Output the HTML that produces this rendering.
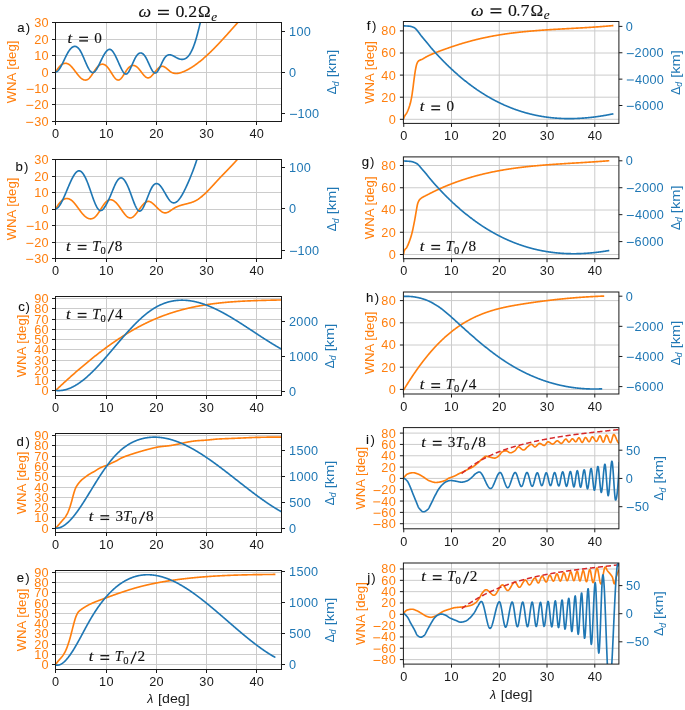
<!DOCTYPE html>
<html><head><meta charset="utf-8"><style>
html,body{margin:0;padding:0;background:#fff;}
svg{display:block;font-family:"Liberation Sans",sans-serif;will-change:transform;}
</style></head><body>
<svg width="685" height="710" viewBox="0 0 685 710">
<rect width="685" height="710" fill="#fff"/>
<line x1="106.5" y1="22.5" x2="106.5" y2="121.5" stroke="#cccccc" stroke-width="1"/>
<line x1="156.5" y1="22.5" x2="156.5" y2="121.5" stroke="#cccccc" stroke-width="1"/>
<line x1="206.5" y1="22.5" x2="206.5" y2="121.5" stroke="#cccccc" stroke-width="1"/>
<line x1="256.5" y1="22.5" x2="256.5" y2="121.5" stroke="#cccccc" stroke-width="1"/>
<line x1="55.5" y1="104.5" x2="281.5" y2="104.5" stroke="#cccccc" stroke-width="1"/>
<line x1="55.5" y1="88.5" x2="281.5" y2="88.5" stroke="#cccccc" stroke-width="1"/>
<line x1="55.5" y1="72.5" x2="281.5" y2="72.5" stroke="#cccccc" stroke-width="1"/>
<line x1="55.5" y1="55.5" x2="281.5" y2="55.5" stroke="#cccccc" stroke-width="1"/>
<line x1="55.5" y1="39.5" x2="281.5" y2="39.5" stroke="#cccccc" stroke-width="1"/>
<clipPath id="cpa"><rect x="55.5" y="22.5" width="226" height="99"/></clipPath>
<g clip-path="url(#cpa)" fill="none" stroke-linejoin="round" stroke-linecap="butt">
<path d="M55.80 71.90 L56.10 71.38 L56.40 70.87 L56.70 70.38 L57.00 69.90 L57.30 69.44 L57.60 69.00 L57.90 68.58 L58.20 68.17 L58.50 67.77 L58.80 67.40 L59.10 67.04 L59.40 66.69 L59.70 66.36 L60.00 66.05 L60.30 65.76 L60.60 65.48 L60.90 65.22 L61.20 64.97 L61.50 64.75 L61.80 64.53 L62.10 64.34 L62.40 64.16 L62.70 64.00 L63.00 63.85 L63.30 63.72 L63.60 63.61 L63.90 63.52 L64.20 63.44 L64.50 63.38 L64.80 63.33 L65.10 63.31 L65.40 63.29 L65.70 63.30 L66.00 63.32 L66.30 63.36 L66.60 63.42 L66.90 63.49 L67.20 63.58 L67.50 63.69 L67.80 63.81 L68.10 63.96 L68.40 64.11 L68.70 64.29 L69.00 64.48 L69.30 64.69 L69.60 64.92 L69.90 65.16 L70.20 65.42 L70.50 65.69 L70.80 65.98 L71.10 66.28 L71.40 66.60 L71.70 66.92 L72.00 67.26 L72.30 67.61 L72.60 67.96 L72.90 68.33 L73.20 68.70 L73.50 69.08 L73.80 69.46 L74.10 69.85 L74.40 70.24 L74.70 70.63 L75.00 71.03 L75.30 71.43 L75.60 71.83 L75.90 72.23 L76.20 72.62 L76.50 73.02 L76.80 73.41 L77.10 73.80 L77.40 74.18 L77.70 74.56 L78.00 74.93 L78.30 75.29 L78.60 75.64 L78.90 75.99 L79.20 76.32 L79.50 76.65 L79.80 76.96 L80.10 77.26 L80.40 77.55 L80.70 77.83 L81.00 78.09 L81.30 78.33 L81.60 78.57 L81.90 78.79 L82.20 78.99 L82.50 79.17 L82.80 79.34 L83.10 79.50 L83.40 79.63 L83.70 79.75 L84.00 79.85 L84.30 79.93 L84.60 80.00 L84.90 80.04 L85.20 80.06 L85.50 80.06 L85.80 80.04 L86.10 80.00 L86.40 79.94 L86.70 79.86 L87.00 79.75 L87.30 79.62 L87.60 79.46 L87.90 79.28 L88.20 79.08 L88.50 78.85 L88.80 78.60 L89.10 78.32 L89.40 78.02 L89.70 77.69 L90.00 77.35 L90.30 76.99 L90.60 76.62 L90.90 76.22 L91.20 75.82 L91.50 75.40 L91.80 74.98 L92.10 74.54 L92.40 74.10 L92.70 73.65 L93.00 73.19 L93.30 72.73 L93.60 72.28 L93.90 71.82 L94.20 71.36 L94.50 70.91 L94.80 70.46 L95.10 70.02 L95.40 69.58 L95.70 69.16 L96.00 68.74 L96.30 68.34 L96.60 67.95 L96.90 67.58 L97.20 67.22 L97.50 66.88 L97.80 66.56 L98.10 66.26 L98.40 65.98 L98.70 65.72 L99.00 65.49 L99.30 65.27 L99.60 65.07 L99.90 64.89 L100.20 64.73 L100.50 64.59 L100.80 64.47 L101.10 64.38 L101.40 64.30 L101.70 64.24 L102.00 64.20 L102.30 64.19 L102.60 64.19 L102.90 64.21 L103.20 64.26 L103.50 64.32 L103.80 64.41 L104.10 64.51 L104.40 64.64 L104.70 64.79 L105.00 64.96 L105.30 65.15 L105.60 65.36 L105.90 65.59 L106.20 65.84 L106.50 66.11 L106.80 66.40 L107.10 66.72 L107.40 67.05 L107.70 67.41 L108.00 67.78 L108.30 68.18 L108.60 68.59 L108.90 69.01 L109.20 69.45 L109.50 69.90 L109.80 70.36 L110.10 70.83 L110.40 71.30 L110.70 71.78 L111.00 72.26 L111.30 72.74 L111.60 73.22 L111.90 73.69 L112.20 74.17 L112.50 74.63 L112.80 75.09 L113.10 75.54 L113.40 75.98 L113.70 76.41 L114.00 76.82 L114.30 77.21 L114.60 77.59 L114.90 77.94 L115.20 78.28 L115.50 78.59 L115.80 78.88 L116.10 79.14 L116.40 79.37 L116.70 79.57 L117.00 79.74 L117.30 79.87 L117.60 79.97 L117.90 80.04 L118.20 80.06 L118.50 80.04 L118.80 79.99 L119.10 79.89 L119.40 79.75 L119.70 79.58 L120.00 79.37 L120.30 79.13 L120.60 78.87 L120.90 78.57 L121.20 78.25 L121.50 77.90 L121.80 77.53 L122.10 77.14 L122.40 76.73 L122.70 76.31 L123.00 75.87 L123.30 75.42 L123.60 74.97 L123.90 74.50 L124.20 74.03 L124.50 73.55 L124.80 73.07 L125.10 72.60 L125.40 72.12 L125.70 71.65 L126.00 71.19 L126.30 70.73 L126.60 70.28 L126.90 69.85 L127.20 69.43 L127.50 69.03 L127.80 68.65 L128.10 68.28 L128.40 67.94 L128.70 67.63 L129.00 67.33 L129.30 67.06 L129.60 66.80 L129.90 66.57 L130.20 66.37 L130.50 66.18 L130.80 66.01 L131.10 65.87 L131.40 65.74 L131.70 65.64 L132.00 65.56 L132.30 65.50 L132.60 65.46 L132.90 65.43 L133.20 65.43 L133.50 65.45 L133.80 65.49 L134.10 65.55 L134.40 65.62 L134.70 65.72 L135.00 65.83 L135.30 65.97 L135.60 66.12 L135.90 66.29 L136.20 66.48 L136.50 66.69 L136.80 66.91 L137.10 67.16 L137.40 67.42 L137.70 67.70 L138.00 67.99 L138.30 68.30 L138.60 68.63 L138.90 68.97 L139.20 69.32 L139.50 69.68 L139.80 70.06 L140.10 70.43 L140.40 70.82 L140.70 71.21 L141.00 71.60 L141.30 71.99 L141.60 72.38 L141.90 72.77 L142.20 73.16 L142.50 73.54 L142.80 73.92 L143.10 74.28 L143.40 74.64 L143.70 74.99 L144.00 75.33 L144.30 75.65 L144.60 75.95 L144.90 76.24 L145.20 76.52 L145.50 76.77 L145.80 77.00 L146.10 77.21 L146.40 77.39 L146.70 77.55 L147.00 77.68 L147.30 77.78 L147.60 77.85 L147.90 77.89 L148.20 77.89 L148.50 77.86 L148.80 77.80 L149.10 77.70 L149.40 77.58 L149.70 77.42 L150.00 77.24 L150.30 77.04 L150.60 76.81 L150.90 76.55 L151.20 76.28 L151.50 76.00 L151.80 75.69 L152.10 75.38 L152.40 75.05 L152.70 74.71 L153.00 74.36 L153.30 74.00 L153.60 73.64 L153.90 73.28 L154.20 72.91 L154.50 72.55 L154.80 72.18 L155.10 71.82 L155.40 71.46 L155.70 71.10 L156.00 70.74 L156.30 70.39 L156.60 70.05 L156.90 69.72 L157.20 69.39 L157.50 69.07 L157.80 68.77 L158.10 68.48 L158.40 68.20 L158.70 67.93 L159.00 67.68 L159.30 67.45 L159.60 67.24 L159.90 67.04 L160.20 66.86 L160.50 66.71 L160.80 66.57 L161.10 66.46 L161.40 66.38 L161.70 66.32 L162.00 66.28 L162.30 66.27 L162.60 66.29 L162.90 66.34 L163.20 66.41 L163.50 66.51 L163.80 66.62 L164.10 66.76 L164.40 66.91 L164.70 67.09 L165.00 67.27 L165.30 67.48 L165.60 67.69 L165.90 67.92 L166.20 68.15 L166.50 68.40 L166.80 68.65 L167.10 68.90 L167.40 69.16 L167.70 69.42 L168.00 69.69 L168.30 69.95 L168.60 70.21 L168.90 70.46 L169.20 70.71 L169.50 70.96 L169.80 71.19 L170.10 71.42 L170.40 71.63 L170.70 71.84 L171.00 72.02 L171.30 72.20 L171.60 72.36 L171.90 72.52 L172.20 72.65 L172.50 72.78 L172.80 72.90 L173.10 73.00 L173.40 73.09 L173.70 73.18 L174.00 73.25 L174.30 73.31 L174.60 73.36 L174.90 73.41 L175.20 73.44 L175.50 73.46 L175.80 73.48 L176.10 73.48 L176.40 73.48 L176.70 73.47 L177.00 73.45 L177.30 73.43 L177.60 73.39 L177.90 73.35 L178.20 73.31 L178.50 73.25 L178.80 73.19 L179.10 73.13 L179.40 73.06 L179.70 72.98 L180.00 72.90 L180.30 72.81 L180.60 72.72 L180.90 72.62 L181.20 72.52 L181.50 72.42 L181.80 72.31 L182.10 72.20 L182.40 72.08 L182.70 71.96 L183.00 71.84 L183.30 71.72 L183.60 71.60 L183.90 71.47 L184.20 71.34 L184.50 71.20 L184.80 71.07 L185.10 70.93 L185.40 70.79 L185.70 70.65 L186.00 70.50 L186.30 70.36 L186.60 70.21 L186.90 70.05 L187.20 69.90 L187.50 69.74 L187.80 69.58 L188.10 69.42 L188.40 69.26 L188.70 69.09 L189.00 68.93 L189.30 68.76 L189.60 68.58 L189.90 68.41 L190.20 68.23 L190.50 68.05 L190.80 67.87 L191.10 67.69 L191.40 67.50 L191.70 67.32 L192.00 67.13 L192.30 66.93 L192.60 66.74 L192.90 66.54 L193.20 66.35 L193.50 66.15 L193.80 65.94 L194.10 65.74 L194.40 65.54 L194.70 65.33 L195.00 65.12 L195.30 64.91 L195.60 64.69 L195.90 64.48 L196.20 64.26 L196.50 64.04 L196.80 63.82 L197.10 63.60 L197.40 63.37 L197.70 63.14 L198.00 62.92 L198.30 62.69 L198.60 62.45 L198.90 62.22 L199.20 61.98 L199.50 61.75 L199.80 61.51 L200.10 61.27 L200.40 61.02 L200.70 60.78 L201.00 60.54 L201.30 60.29 L201.60 60.04 L201.90 59.79 L202.20 59.54 L202.50 59.28 L202.80 59.03 L203.10 58.77 L203.40 58.51 L203.70 58.25 L204.00 57.99 L204.30 57.73 L204.60 57.46 L204.90 57.20 L205.20 56.93 L205.50 56.66 L205.80 56.39 L206.10 56.12 L206.40 55.85 L206.70 55.57 L207.00 55.30 L207.30 55.02 L207.60 54.74 L207.90 54.46 L208.20 54.18 L208.50 53.90 L208.80 53.62 L209.10 53.33 L209.40 53.05 L209.70 52.76 L210.00 52.47 L210.30 52.18 L210.60 51.89 L210.90 51.60 L211.20 51.30 L211.50 51.01 L211.80 50.71 L212.10 50.42 L212.40 50.12 L212.70 49.82 L213.00 49.52 L213.30 49.22 L213.60 48.92 L213.90 48.62 L214.20 48.31 L214.50 48.01 L214.80 47.70 L215.10 47.40 L215.40 47.09 L215.70 46.78 L216.00 46.47 L216.30 46.16 L216.60 45.85 L216.90 45.54 L217.20 45.22 L217.50 44.91 L217.80 44.59 L218.10 44.28 L218.40 43.96 L218.70 43.65 L219.00 43.33 L219.30 43.01 L219.60 42.69 L219.90 42.37 L220.20 42.05 L220.50 41.73 L220.80 41.41 L221.10 41.08 L221.40 40.76 L221.70 40.44 L222.00 40.11 L222.30 39.79 L222.60 39.46 L222.90 39.13 L223.20 38.81 L223.50 38.48 L223.80 38.15 L224.10 37.82 L224.40 37.49 L224.70 37.16 L225.00 36.83 L225.30 36.50 L225.60 36.17 L225.90 35.84 L226.20 35.51 L226.50 35.18 L226.80 34.84 L227.10 34.51 L227.40 34.18 L227.70 33.84 L228.00 33.51 L228.30 33.17 L228.60 32.84 L228.90 32.50 L229.20 32.17 L229.50 31.83 L229.80 31.50 L230.10 31.16 L230.40 30.83 L230.70 30.49 L231.00 30.15 L231.30 29.82 L231.60 29.48 L231.90 29.14 L232.20 28.81 L232.50 28.47 L232.80 28.13 L233.10 27.80 L233.40 27.46 L233.70 27.12 L234.00 26.78 L234.30 26.45 L234.60 26.11 L234.90 25.77 L235.20 25.43 L235.50 25.10 L235.80 24.76 L236.10 24.42 L236.40 24.08 L236.70 23.75 L237.00 23.41 L237.30 23.07 L237.60 22.74 L237.90 22.40 L238.20 22.06 L238.50 21.73 L238.80 21.39 L239.10 21.06 L239.40 20.72 L239.70 20.39 L240.00 20.05 L240.00 20.05" stroke="#ff7f0e" stroke-width="1.65"/>
<path d="M55.80 71.90 L56.10 71.86 L56.40 71.77 L56.70 71.65 L57.00 71.49 L57.30 71.29 L57.60 71.05 L57.90 70.78 L58.20 70.48 L58.50 70.14 L58.80 69.78 L59.10 69.38 L59.40 68.97 L59.70 68.52 L60.00 68.05 L60.30 67.56 L60.60 67.05 L60.90 66.52 L61.20 65.98 L61.50 65.41 L61.80 64.84 L62.10 64.25 L62.40 63.65 L62.70 63.04 L63.00 62.42 L63.30 61.80 L63.60 61.17 L63.90 60.54 L64.20 59.91 L64.50 59.28 L64.80 58.65 L65.10 58.02 L65.40 57.40 L65.70 56.78 L66.00 56.17 L66.30 55.57 L66.60 54.99 L66.90 54.41 L67.20 53.85 L67.50 53.30 L67.80 52.77 L68.10 52.26 L68.40 51.77 L68.70 51.30 L69.00 50.85 L69.30 50.42 L69.60 50.01 L69.90 49.62 L70.20 49.25 L70.50 48.90 L70.80 48.57 L71.10 48.27 L71.40 47.98 L71.70 47.72 L72.00 47.48 L72.30 47.26 L72.60 47.07 L72.90 46.90 L73.20 46.75 L73.50 46.63 L73.80 46.53 L74.10 46.46 L74.40 46.41 L74.70 46.38 L75.00 46.38 L75.30 46.40 L75.60 46.46 L75.90 46.53 L76.20 46.64 L76.50 46.76 L76.80 46.92 L77.10 47.10 L77.40 47.32 L77.70 47.55 L78.00 47.82 L78.30 48.11 L78.60 48.44 L78.90 48.79 L79.20 49.17 L79.50 49.58 L79.80 50.02 L80.10 50.49 L80.40 50.99 L80.70 51.51 L81.00 52.06 L81.30 52.64 L81.60 53.23 L81.90 53.85 L82.20 54.48 L82.50 55.13 L82.80 55.79 L83.10 56.47 L83.40 57.15 L83.70 57.84 L84.00 58.54 L84.30 59.24 L84.60 59.95 L84.90 60.65 L85.20 61.35 L85.50 62.05 L85.80 62.74 L86.10 63.43 L86.40 64.10 L86.70 64.77 L87.00 65.42 L87.30 66.05 L87.60 66.67 L87.90 67.27 L88.20 67.84 L88.50 68.39 L88.80 68.92 L89.10 69.42 L89.40 69.89 L89.70 70.33 L90.00 70.74 L90.30 71.11 L90.60 71.44 L90.90 71.74 L91.20 71.99 L91.50 72.20 L91.80 72.37 L92.10 72.49 L92.40 72.56 L92.70 72.58 L93.00 72.55 L93.30 72.48 L93.60 72.37 L93.90 72.21 L94.20 72.01 L94.50 71.77 L94.80 71.50 L95.10 71.19 L95.40 70.85 L95.70 70.47 L96.00 70.07 L96.30 69.64 L96.60 69.18 L96.90 68.70 L97.20 68.20 L97.50 67.68 L97.80 67.14 L98.10 66.58 L98.40 66.00 L98.70 65.42 L99.00 64.82 L99.30 64.21 L99.60 63.59 L99.90 62.97 L100.20 62.34 L100.50 61.72 L100.80 61.09 L101.10 60.46 L101.40 59.83 L101.70 59.21 L102.00 58.60 L102.30 58.00 L102.60 57.40 L102.90 56.82 L103.20 56.25 L103.50 55.70 L103.80 55.16 L104.10 54.64 L104.40 54.13 L104.70 53.65 L105.00 53.19 L105.30 52.74 L105.60 52.32 L105.90 51.93 L106.20 51.55 L106.50 51.21 L106.80 50.89 L107.10 50.59 L107.40 50.33 L107.70 50.09 L108.00 49.89 L108.30 49.72 L108.60 49.58 L108.90 49.47 L109.20 49.41 L109.50 49.37 L109.80 49.38 L110.10 49.42 L110.40 49.50 L110.70 49.62 L111.00 49.79 L111.30 49.99 L111.60 50.23 L111.90 50.51 L112.20 50.82 L112.50 51.16 L112.80 51.53 L113.10 51.94 L113.40 52.37 L113.70 52.83 L114.00 53.32 L114.30 53.82 L114.60 54.35 L114.90 54.91 L115.20 55.47 L115.50 56.06 L115.80 56.66 L116.10 57.28 L116.40 57.91 L116.70 58.55 L117.00 59.20 L117.30 59.86 L117.60 60.52 L117.90 61.19 L118.20 61.86 L118.50 62.53 L118.80 63.21 L119.10 63.88 L119.40 64.55 L119.70 65.21 L120.00 65.87 L120.30 66.52 L120.60 67.16 L120.90 67.79 L121.20 68.41 L121.50 69.00 L121.80 69.58 L122.10 70.14 L122.40 70.66 L122.70 71.17 L123.00 71.64 L123.30 72.07 L123.60 72.48 L123.90 72.84 L124.20 73.16 L124.50 73.44 L124.80 73.67 L125.10 73.86 L125.40 73.99 L125.70 74.06 L126.00 74.08 L126.30 74.04 L126.60 73.94 L126.90 73.78 L127.20 73.56 L127.50 73.28 L127.80 72.96 L128.10 72.58 L128.40 72.17 L128.70 71.71 L129.00 71.21 L129.30 70.69 L129.60 70.13 L129.90 69.54 L130.20 68.93 L130.50 68.30 L130.80 67.65 L131.10 66.99 L131.40 66.32 L131.70 65.64 L132.00 64.96 L132.30 64.28 L132.60 63.60 L132.90 62.92 L133.20 62.25 L133.50 61.58 L133.80 60.93 L134.10 60.29 L134.40 59.67 L134.70 59.06 L135.00 58.48 L135.30 57.92 L135.60 57.38 L135.90 56.88 L136.20 56.40 L136.50 55.95 L136.80 55.54 L137.10 55.16 L137.40 54.81 L137.70 54.48 L138.00 54.19 L138.30 53.94 L138.60 53.71 L138.90 53.51 L139.20 53.35 L139.50 53.21 L139.80 53.11 L140.10 53.04 L140.40 52.99 L140.70 52.98 L141.00 53.00 L141.30 53.05 L141.60 53.13 L141.90 53.24 L142.20 53.38 L142.50 53.56 L142.80 53.76 L143.10 53.99 L143.40 54.25 L143.70 54.55 L144.00 54.87 L144.30 55.23 L144.60 55.61 L144.90 56.03 L145.20 56.47 L145.50 56.94 L145.80 57.45 L146.10 57.98 L146.40 58.54 L146.70 59.13 L147.00 59.73 L147.30 60.35 L147.60 60.99 L147.90 61.63 L148.20 62.29 L148.50 62.95 L148.80 63.61 L149.10 64.28 L149.40 64.94 L149.70 65.59 L150.00 66.24 L150.30 66.87 L150.60 67.49 L150.90 68.09 L151.20 68.67 L151.50 69.23 L151.80 69.76 L152.10 70.27 L152.40 70.74 L152.70 71.17 L153.00 71.57 L153.30 71.92 L153.60 72.23 L153.90 72.50 L154.20 72.71 L154.50 72.88 L154.80 72.98 L155.10 73.03 L155.40 73.02 L155.70 72.94 L156.00 72.81 L156.30 72.62 L156.60 72.38 L156.90 72.08 L157.20 71.75 L157.50 71.37 L157.80 70.95 L158.10 70.49 L158.40 70.00 L158.70 69.48 L159.00 68.93 L159.30 68.36 L159.60 67.77 L159.90 67.17 L160.20 66.55 L160.50 65.92 L160.80 65.28 L161.10 64.64 L161.40 63.99 L161.70 63.35 L162.00 62.72 L162.30 62.10 L162.60 61.48 L162.90 60.89 L163.20 60.31 L163.50 59.75 L163.80 59.22 L164.10 58.72 L164.40 58.25 L164.70 57.81 L165.00 57.41 L165.30 57.04 L165.60 56.70 L165.90 56.39 L166.20 56.12 L166.50 55.87 L166.80 55.65 L167.10 55.46 L167.40 55.30 L167.70 55.15 L168.00 55.04 L168.30 54.95 L168.60 54.87 L168.90 54.83 L169.20 54.80 L169.50 54.79 L169.80 54.79 L170.10 54.82 L170.40 54.86 L170.70 54.92 L171.00 54.99 L171.30 55.08 L171.60 55.18 L171.90 55.28 L172.20 55.40 L172.50 55.53 L172.80 55.67 L173.10 55.82 L173.40 55.97 L173.70 56.13 L174.00 56.29 L174.30 56.45 L174.60 56.62 L174.90 56.79 L175.20 56.96 L175.50 57.13 L175.80 57.30 L176.10 57.47 L176.40 57.63 L176.70 57.79 L177.00 57.94 L177.30 58.09 L177.60 58.24 L177.90 58.37 L178.20 58.50 L178.50 58.63 L178.80 58.74 L179.10 58.85 L179.40 58.95 L179.70 59.04 L180.00 59.12 L180.30 59.19 L180.60 59.25 L180.90 59.30 L181.20 59.34 L181.50 59.37 L181.80 59.39 L182.10 59.40 L182.40 59.39 L182.70 59.37 L183.00 59.34 L183.30 59.29 L183.60 59.23 L183.90 59.15 L184.20 59.06 L184.50 58.96 L184.80 58.84 L185.10 58.70 L185.40 58.54 L185.70 58.37 L186.00 58.18 L186.30 57.98 L186.60 57.75 L186.90 57.51 L187.20 57.25 L187.50 56.96 L187.80 56.66 L188.10 56.34 L188.40 56.00 L188.70 55.63 L189.00 55.25 L189.30 54.84 L189.60 54.41 L189.90 53.96 L190.20 53.48 L190.50 52.98 L190.80 52.46 L191.10 51.91 L191.40 51.34 L191.70 50.74 L192.00 50.11 L192.30 49.46 L192.60 48.79 L192.90 48.08 L193.20 47.35 L193.50 46.59 L193.80 45.81 L194.10 44.99 L194.40 44.15 L194.70 43.27 L195.00 42.37 L195.30 41.44 L195.60 40.47 L195.90 39.48 L196.20 38.47 L196.50 37.43 L196.80 36.36 L197.10 35.27 L197.40 34.16 L197.70 33.03 L198.00 31.88 L198.30 30.72 L198.60 29.53 L198.90 28.34 L199.20 27.12 L199.50 25.90 L199.80 24.66 L200.10 23.42 L200.40 22.16 L200.70 20.90 L201.00 19.63 L201.00 19.63" stroke="#1f77b4" stroke-width="1.65"/>
</g>
<rect x="55.5" y="22.5" width="226" height="99" fill="none" stroke="#1a1a1a" stroke-width="1"/>
<line x1="52" y1="121.5" x2="55.5" y2="121.5" stroke="#1a1a1a" stroke-width="1"/>
<rect x="26.21" y="121.85" width="7" height="1" fill="#ff7f0e"/>
<text x="34.13" y="125.95" font-size="12.7" fill="#ff7f0e" dx="0 0.25">30</text>
<line x1="52" y1="104.5" x2="55.5" y2="104.5" stroke="#1a1a1a" stroke-width="1"/>
<rect x="26.36" y="104.85" width="7" height="1" fill="#ff7f0e"/>
<text x="34.13" y="108.95" font-size="12.7" fill="#ff7f0e" dx="0 0.25">20</text>
<line x1="52" y1="88.5" x2="55.5" y2="88.5" stroke="#1a1a1a" stroke-width="1"/>
<rect x="26.7" y="88.85" width="7" height="1" fill="#ff7f0e"/>
<text x="34.13" y="92.95" font-size="12.7" fill="#ff7f0e" dx="0 0.25">10</text>
<line x1="52" y1="72.5" x2="55.5" y2="72.5" stroke="#1a1a1a" stroke-width="1"/>
<text x="41.44" y="76.95" font-size="12.7" fill="#ff7f0e" dx="0">0</text>
<line x1="52" y1="55.5" x2="55.5" y2="55.5" stroke="#1a1a1a" stroke-width="1"/>
<text x="34.13" y="59.95" font-size="12.7" fill="#ff7f0e" dx="0 0.25">10</text>
<line x1="52" y1="39.5" x2="55.5" y2="39.5" stroke="#1a1a1a" stroke-width="1"/>
<text x="34.13" y="43.95" font-size="12.7" fill="#ff7f0e" dx="0 0.25">20</text>
<line x1="52" y1="22.5" x2="55.5" y2="22.5" stroke="#1a1a1a" stroke-width="1"/>
<text x="34.13" y="26.95" font-size="12.7" fill="#ff7f0e" dx="0 0.25">30</text>
<line x1="281.5" y1="113.5" x2="285" y2="113.5" stroke="#1a1a1a" stroke-width="1"/>
<rect x="290.02" y="113.85" width="7" height="1" fill="#1f77b4"/>
<text x="297.44" y="117.95" font-size="12.7" fill="#1f77b4" dx="0 0.25 0.25">100</text>
<line x1="281.5" y1="72.5" x2="285" y2="72.5" stroke="#1a1a1a" stroke-width="1"/>
<text x="289.07" y="76.95" font-size="12.7" fill="#1f77b4" dx="0">0</text>
<line x1="281.5" y1="31.5" x2="285" y2="31.5" stroke="#1a1a1a" stroke-width="1"/>
<text x="289.1" y="35.95" font-size="12.7" fill="#1f77b4" dx="0 0.25 0.25">100</text>
<line x1="55.5" y1="121.5" x2="55.5" y2="125" stroke="#1a1a1a" stroke-width="1"/>
<text x="51.98" y="137.9" font-size="12.7" fill="#1a1a1a" dx="0">0</text>
<line x1="106.5" y1="121.5" x2="106.5" y2="125" stroke="#1a1a1a" stroke-width="1"/>
<text x="99.08" y="137.9" font-size="12.7" fill="#1a1a1a" dx="0 0.25">10</text>
<line x1="156.5" y1="121.5" x2="156.5" y2="125" stroke="#1a1a1a" stroke-width="1"/>
<text x="149.25" y="137.9" font-size="12.7" fill="#1a1a1a" dx="0 0.25">20</text>
<line x1="206.5" y1="121.5" x2="206.5" y2="125" stroke="#1a1a1a" stroke-width="1"/>
<text x="199.32" y="137.9" font-size="12.7" fill="#1a1a1a" dx="0 0.25">30</text>
<line x1="256.5" y1="121.5" x2="256.5" y2="125" stroke="#1a1a1a" stroke-width="1"/>
<text x="249.42" y="137.9" font-size="12.7" fill="#1a1a1a" dx="0 0.25">40</text>
<text transform="translate(16.3,72) rotate(-90)" text-anchor="middle" fill="#ff7f0e" font-size="12.8" textLength="62.68" lengthAdjust="spacingAndGlyphs">WNA [deg]</text>
<g transform="translate(336.2,72) rotate(-90)" fill="#1f77b4"><text x="-22.29" y="0" font-size="12.26">Δ</text><text x="-14.19" y="2.37" font-size="8.53" font-style="italic">d</text><text x="-5.36" y="0" font-size="12.26" textLength="27.65" lengthAdjust="spacingAndGlyphs">[km]</text></g>
<text x="17.35" y="32.1" font-size="13.2" fill="#111111" stroke="#111111" stroke-width="0.1">a</text>
<text x="25.71" y="32.1" font-size="13.2" fill="#111111">)</text>
<line x1="106.5" y1="159.5" x2="106.5" y2="258.5" stroke="#cccccc" stroke-width="1"/>
<line x1="156.5" y1="159.5" x2="156.5" y2="258.5" stroke="#cccccc" stroke-width="1"/>
<line x1="206.5" y1="159.5" x2="206.5" y2="258.5" stroke="#cccccc" stroke-width="1"/>
<line x1="256.5" y1="159.5" x2="256.5" y2="258.5" stroke="#cccccc" stroke-width="1"/>
<line x1="55.5" y1="242.5" x2="281.5" y2="242.5" stroke="#cccccc" stroke-width="1"/>
<line x1="55.5" y1="225.5" x2="281.5" y2="225.5" stroke="#cccccc" stroke-width="1"/>
<line x1="55.5" y1="209.5" x2="281.5" y2="209.5" stroke="#cccccc" stroke-width="1"/>
<line x1="55.5" y1="192.5" x2="281.5" y2="192.5" stroke="#cccccc" stroke-width="1"/>
<line x1="55.5" y1="176.5" x2="281.5" y2="176.5" stroke="#cccccc" stroke-width="1"/>
<clipPath id="cpb"><rect x="55.5" y="159.5" width="226" height="99"/></clipPath>
<g clip-path="url(#cpb)" fill="none" stroke-linejoin="round" stroke-linecap="butt">
<path d="M55.70 208.98 L56.00 208.42 L56.30 207.87 L56.60 207.34 L56.90 206.83 L57.20 206.33 L57.50 205.85 L57.80 205.38 L58.10 204.93 L58.40 204.49 L58.70 204.07 L59.00 203.66 L59.30 203.27 L59.60 202.90 L59.90 202.54 L60.20 202.20 L60.50 201.87 L60.80 201.56 L61.10 201.26 L61.40 200.98 L61.70 200.72 L62.00 200.47 L62.30 200.23 L62.60 200.01 L62.90 199.81 L63.20 199.62 L63.50 199.44 L63.80 199.29 L64.10 199.14 L64.40 199.01 L64.70 198.90 L65.00 198.80 L65.30 198.72 L65.60 198.65 L65.90 198.60 L66.20 198.56 L66.50 198.54 L66.80 198.53 L67.10 198.54 L67.40 198.56 L67.70 198.60 L68.00 198.65 L68.30 198.71 L68.60 198.79 L68.90 198.89 L69.20 199.00 L69.50 199.13 L69.80 199.27 L70.10 199.42 L70.40 199.59 L70.70 199.78 L71.00 199.97 L71.30 200.19 L71.60 200.42 L71.90 200.66 L72.20 200.92 L72.50 201.19 L72.80 201.47 L73.10 201.77 L73.40 202.08 L73.70 202.40 L74.00 202.73 L74.30 203.07 L74.60 203.43 L74.90 203.79 L75.20 204.15 L75.50 204.53 L75.80 204.91 L76.10 205.30 L76.40 205.69 L76.70 206.09 L77.00 206.50 L77.30 206.90 L77.60 207.31 L77.90 207.72 L78.20 208.13 L78.50 208.54 L78.80 208.95 L79.10 209.36 L79.40 209.77 L79.70 210.18 L80.00 210.58 L80.30 210.98 L80.60 211.38 L80.90 211.77 L81.20 212.15 L81.50 212.53 L81.80 212.91 L82.10 213.27 L82.40 213.62 L82.70 213.97 L83.00 214.31 L83.30 214.63 L83.60 214.95 L83.90 215.25 L84.20 215.55 L84.50 215.83 L84.80 216.11 L85.10 216.37 L85.40 216.62 L85.70 216.85 L86.00 217.08 L86.30 217.29 L86.60 217.49 L86.90 217.68 L87.20 217.85 L87.50 218.01 L87.80 218.16 L88.10 218.29 L88.40 218.41 L88.70 218.52 L89.00 218.61 L89.30 218.69 L89.60 218.75 L89.90 218.79 L90.20 218.82 L90.50 218.84 L90.80 218.84 L91.10 218.82 L91.40 218.78 L91.70 218.73 L92.00 218.67 L92.30 218.58 L92.60 218.48 L92.90 218.36 L93.20 218.22 L93.50 218.07 L93.80 217.89 L94.10 217.70 L94.40 217.49 L94.70 217.26 L95.00 217.01 L95.30 216.74 L95.60 216.46 L95.90 216.15 L96.20 215.82 L96.50 215.48 L96.80 215.11 L97.10 214.73 L97.40 214.34 L97.70 213.93 L98.00 213.51 L98.30 213.08 L98.60 212.64 L98.90 212.19 L99.20 211.73 L99.50 211.26 L99.80 210.79 L100.10 210.32 L100.40 209.84 L100.70 209.36 L101.00 208.89 L101.30 208.41 L101.60 207.93 L101.90 207.46 L102.20 206.99 L102.50 206.52 L102.80 206.07 L103.10 205.62 L103.40 205.18 L103.70 204.75 L104.00 204.33 L104.30 203.92 L104.60 203.53 L104.90 203.15 L105.20 202.79 L105.50 202.45 L105.80 202.13 L106.10 201.82 L106.40 201.54 L106.70 201.28 L107.00 201.04 L107.30 200.82 L107.60 200.62 L107.90 200.44 L108.20 200.28 L108.50 200.15 L108.80 200.03 L109.10 199.93 L109.40 199.86 L109.70 199.80 L110.00 199.76 L110.30 199.74 L110.60 199.74 L110.90 199.76 L111.20 199.79 L111.50 199.85 L111.80 199.92 L112.10 200.01 L112.40 200.11 L112.70 200.23 L113.00 200.37 L113.30 200.53 L113.60 200.70 L113.90 200.89 L114.20 201.09 L114.50 201.31 L114.80 201.54 L115.10 201.79 L115.40 202.06 L115.70 202.33 L116.00 202.63 L116.30 202.93 L116.60 203.25 L116.90 203.59 L117.20 203.93 L117.50 204.29 L117.80 204.66 L118.10 205.04 L118.40 205.43 L118.70 205.83 L119.00 206.24 L119.30 206.65 L119.60 207.07 L119.90 207.49 L120.20 207.91 L120.50 208.34 L120.80 208.77 L121.10 209.21 L121.40 209.64 L121.70 210.07 L122.00 210.50 L122.30 210.92 L122.60 211.34 L122.90 211.76 L123.20 212.17 L123.50 212.58 L123.80 212.98 L124.10 213.37 L124.40 213.75 L124.70 214.12 L125.00 214.48 L125.30 214.82 L125.60 215.15 L125.90 215.47 L126.20 215.78 L126.50 216.07 L126.80 216.34 L127.10 216.59 L127.40 216.83 L127.70 217.04 L128.00 217.24 L128.30 217.41 L128.60 217.56 L128.90 217.69 L129.20 217.80 L129.50 217.87 L129.80 217.93 L130.10 217.95 L130.40 217.95 L130.70 217.92 L131.00 217.86 L131.30 217.78 L131.60 217.67 L131.90 217.53 L132.20 217.37 L132.50 217.19 L132.80 216.99 L133.10 216.77 L133.40 216.53 L133.70 216.27 L134.00 216.00 L134.30 215.70 L134.60 215.40 L134.90 215.08 L135.20 214.74 L135.50 214.39 L135.80 214.03 L136.10 213.66 L136.40 213.29 L136.70 212.90 L137.00 212.51 L137.30 212.11 L137.60 211.70 L137.90 211.29 L138.20 210.88 L138.50 210.46 L138.80 210.04 L139.10 209.63 L139.40 209.21 L139.70 208.80 L140.00 208.39 L140.30 207.98 L140.60 207.57 L140.90 207.18 L141.20 206.78 L141.50 206.40 L141.80 206.03 L142.10 205.66 L142.40 205.31 L142.70 204.96 L143.00 204.63 L143.30 204.31 L143.60 204.00 L143.90 203.70 L144.20 203.42 L144.50 203.15 L144.80 202.90 L145.10 202.67 L145.40 202.45 L145.70 202.25 L146.00 202.07 L146.30 201.91 L146.60 201.77 L146.90 201.65 L147.20 201.54 L147.50 201.47 L147.80 201.41 L148.10 201.38 L148.40 201.37 L148.70 201.38 L149.00 201.42 L149.30 201.48 L149.60 201.57 L149.90 201.67 L150.20 201.79 L150.50 201.93 L150.80 202.08 L151.10 202.26 L151.40 202.45 L151.70 202.65 L152.00 202.86 L152.30 203.09 L152.60 203.33 L152.90 203.58 L153.20 203.83 L153.50 204.10 L153.80 204.37 L154.10 204.65 L154.40 204.94 L154.70 205.23 L155.00 205.52 L155.30 205.82 L155.60 206.12 L155.90 206.42 L156.20 206.73 L156.50 207.03 L156.80 207.34 L157.10 207.64 L157.40 207.94 L157.70 208.24 L158.00 208.54 L158.30 208.83 L158.60 209.12 L158.90 209.41 L159.20 209.68 L159.50 209.95 L159.80 210.22 L160.10 210.47 L160.40 210.72 L160.70 210.96 L161.00 211.19 L161.30 211.40 L161.60 211.61 L161.90 211.80 L162.20 211.98 L162.50 212.14 L162.80 212.29 L163.10 212.43 L163.40 212.55 L163.70 212.65 L164.00 212.74 L164.30 212.81 L164.60 212.85 L164.90 212.88 L165.20 212.89 L165.50 212.88 L165.80 212.85 L166.10 212.81 L166.40 212.74 L166.70 212.66 L167.00 212.57 L167.30 212.46 L167.60 212.34 L167.90 212.21 L168.20 212.06 L168.50 211.91 L168.80 211.74 L169.10 211.57 L169.40 211.39 L169.70 211.20 L170.00 211.01 L170.30 210.81 L170.60 210.61 L170.90 210.40 L171.20 210.19 L171.50 209.98 L171.80 209.77 L172.10 209.57 L172.40 209.36 L172.70 209.15 L173.00 208.95 L173.30 208.75 L173.60 208.56 L173.90 208.37 L174.20 208.19 L174.50 208.01 L174.80 207.84 L175.10 207.68 L175.40 207.51 L175.70 207.36 L176.00 207.21 L176.30 207.06 L176.60 206.92 L176.90 206.78 L177.20 206.65 L177.50 206.52 L177.80 206.40 L178.10 206.28 L178.40 206.16 L178.70 206.05 L179.00 205.94 L179.30 205.83 L179.60 205.73 L179.90 205.63 L180.20 205.53 L180.50 205.43 L180.80 205.34 L181.10 205.25 L181.40 205.16 L181.70 205.07 L182.00 204.99 L182.30 204.91 L182.60 204.83 L182.90 204.75 L183.20 204.67 L183.50 204.59 L183.80 204.51 L184.10 204.44 L184.40 204.36 L184.70 204.29 L185.00 204.22 L185.30 204.14 L185.60 204.07 L185.90 204.00 L186.20 203.93 L186.50 203.85 L186.80 203.78 L187.10 203.70 L187.40 203.63 L187.70 203.55 L188.00 203.48 L188.30 203.40 L188.60 203.32 L188.90 203.24 L189.20 203.15 L189.50 203.07 L189.80 202.98 L190.10 202.89 L190.40 202.80 L190.70 202.71 L191.00 202.62 L191.30 202.52 L191.60 202.42 L191.90 202.31 L192.20 202.21 L192.50 202.10 L192.80 201.98 L193.10 201.86 L193.40 201.74 L193.70 201.62 L194.00 201.49 L194.30 201.36 L194.60 201.22 L194.90 201.08 L195.20 200.93 L195.50 200.78 L195.80 200.63 L196.10 200.47 L196.40 200.30 L196.70 200.13 L197.00 199.96 L197.30 199.77 L197.60 199.59 L197.90 199.40 L198.20 199.20 L198.50 199.00 L198.80 198.79 L199.10 198.58 L199.40 198.37 L199.70 198.15 L200.00 197.93 L200.30 197.70 L200.60 197.47 L200.90 197.23 L201.20 196.99 L201.50 196.75 L201.80 196.50 L202.10 196.25 L202.40 196.00 L202.70 195.74 L203.00 195.48 L203.30 195.21 L203.60 194.94 L203.90 194.67 L204.20 194.40 L204.50 194.12 L204.80 193.84 L205.10 193.56 L205.40 193.27 L205.70 192.98 L206.00 192.69 L206.30 192.39 L206.60 192.10 L206.90 191.80 L207.20 191.50 L207.50 191.19 L207.80 190.89 L208.10 190.58 L208.40 190.27 L208.70 189.96 L209.00 189.65 L209.30 189.34 L209.60 189.02 L209.90 188.70 L210.20 188.38 L210.50 188.06 L210.80 187.74 L211.10 187.42 L211.40 187.10 L211.70 186.77 L212.00 186.45 L212.30 186.12 L212.60 185.80 L212.90 185.47 L213.20 185.14 L213.50 184.82 L213.80 184.49 L214.10 184.16 L214.40 183.83 L214.70 183.50 L215.00 183.17 L215.30 182.85 L215.60 182.52 L215.90 182.19 L216.20 181.86 L216.50 181.53 L216.80 181.21 L217.10 180.88 L217.40 180.56 L217.70 180.23 L218.00 179.91 L218.30 179.59 L218.60 179.27 L218.90 178.95 L219.20 178.63 L219.50 178.31 L219.80 177.99 L220.10 177.67 L220.40 177.36 L220.70 177.04 L221.00 176.73 L221.30 176.42 L221.60 176.10 L221.90 175.79 L222.20 175.48 L222.50 175.17 L222.80 174.86 L223.10 174.55 L223.40 174.24 L223.70 173.93 L224.00 173.62 L224.30 173.31 L224.60 173.00 L224.90 172.69 L225.20 172.38 L225.50 172.07 L225.80 171.76 L226.10 171.46 L226.40 171.15 L226.70 170.84 L227.00 170.53 L227.30 170.22 L227.60 169.91 L227.90 169.60 L228.20 169.29 L228.50 168.98 L228.80 168.67 L229.10 168.36 L229.40 168.05 L229.70 167.74 L230.00 167.42 L230.30 167.11 L230.60 166.79 L230.90 166.48 L231.20 166.16 L231.50 165.85 L231.80 165.53 L232.10 165.21 L232.40 164.89 L232.70 164.57 L233.00 164.25 L233.30 163.93 L233.60 163.61 L233.90 163.28 L234.20 162.96 L234.50 162.63 L234.80 162.30 L235.10 161.97 L235.40 161.64 L235.70 161.31 L236.00 160.97 L236.30 160.64 L236.60 160.30 L236.90 159.96 L237.20 159.62 L237.50 159.28 L237.80 158.94 L238.10 158.59 L238.40 158.24 L238.70 157.89 L239.00 157.54 L239.30 157.19 L239.50 156.95" stroke="#ff7f0e" stroke-width="1.65"/>
<path d="M55.70 208.93 L56.00 208.84 L56.30 208.72 L56.60 208.57 L56.90 208.39 L57.20 208.17 L57.50 207.93 L57.80 207.65 L58.10 207.35 L58.40 207.02 L58.70 206.67 L59.00 206.29 L59.30 205.89 L59.60 205.46 L59.90 205.01 L60.20 204.54 L60.50 204.05 L60.80 203.53 L61.10 203.00 L61.40 202.46 L61.70 201.89 L62.00 201.31 L62.30 200.71 L62.60 200.10 L62.90 199.48 L63.20 198.84 L63.50 198.19 L63.80 197.53 L64.10 196.87 L64.40 196.19 L64.70 195.50 L65.00 194.81 L65.30 194.11 L65.60 193.41 L65.90 192.70 L66.20 191.98 L66.50 191.27 L66.80 190.55 L67.10 189.84 L67.40 189.12 L67.70 188.40 L68.00 187.69 L68.30 186.98 L68.60 186.27 L68.90 185.56 L69.20 184.87 L69.50 184.18 L69.80 183.49 L70.10 182.82 L70.40 182.15 L70.70 181.49 L71.00 180.85 L71.30 180.21 L71.60 179.59 L71.90 178.98 L72.20 178.39 L72.50 177.81 L72.80 177.25 L73.10 176.71 L73.40 176.18 L73.70 175.67 L74.00 175.19 L74.30 174.72 L74.60 174.28 L74.90 173.85 L75.20 173.46 L75.50 173.08 L75.80 172.73 L76.10 172.41 L76.40 172.12 L76.70 171.85 L77.00 171.61 L77.30 171.40 L77.60 171.23 L77.90 171.08 L78.20 170.97 L78.50 170.89 L78.80 170.84 L79.10 170.83 L79.40 170.85 L79.70 170.91 L80.00 171.00 L80.30 171.12 L80.60 171.28 L80.90 171.47 L81.20 171.68 L81.50 171.93 L81.80 172.21 L82.10 172.52 L82.40 172.86 L82.70 173.22 L83.00 173.61 L83.30 174.03 L83.60 174.48 L83.90 174.96 L84.20 175.46 L84.50 175.98 L84.80 176.53 L85.10 177.10 L85.40 177.70 L85.70 178.32 L86.00 178.97 L86.30 179.63 L86.60 180.32 L86.90 181.03 L87.20 181.76 L87.50 182.50 L87.80 183.27 L88.10 184.06 L88.40 184.86 L88.70 185.69 L89.00 186.52 L89.30 187.37 L89.60 188.22 L89.90 189.09 L90.20 189.96 L90.50 190.83 L90.80 191.71 L91.10 192.59 L91.40 193.47 L91.70 194.34 L92.00 195.22 L92.30 196.08 L92.60 196.94 L92.90 197.78 L93.20 198.61 L93.50 199.43 L93.80 200.24 L94.10 201.02 L94.40 201.79 L94.70 202.54 L95.00 203.26 L95.30 203.96 L95.60 204.63 L95.90 205.27 L96.20 205.88 L96.50 206.46 L96.80 207.00 L97.10 207.51 L97.40 207.98 L97.70 208.42 L98.00 208.82 L98.30 209.17 L98.60 209.49 L98.90 209.77 L99.20 210.01 L99.50 210.20 L99.80 210.36 L100.10 210.47 L100.40 210.53 L100.70 210.56 L101.00 210.53 L101.30 210.46 L101.60 210.35 L101.90 210.19 L102.20 210.00 L102.50 209.76 L102.80 209.50 L103.10 209.19 L103.40 208.86 L103.70 208.50 L104.00 208.11 L104.30 207.69 L104.60 207.25 L104.90 206.79 L105.20 206.31 L105.50 205.82 L105.80 205.31 L106.10 204.78 L106.40 204.24 L106.70 203.69 L107.00 203.12 L107.30 202.54 L107.60 201.95 L107.90 201.34 L108.20 200.72 L108.50 200.09 L108.80 199.45 L109.10 198.80 L109.40 198.14 L109.70 197.47 L110.00 196.79 L110.30 196.09 L110.60 195.40 L110.90 194.69 L111.20 193.97 L111.50 193.25 L111.80 192.52 L112.10 191.78 L112.40 191.05 L112.70 190.31 L113.00 189.57 L113.30 188.84 L113.60 188.12 L113.90 187.41 L114.20 186.70 L114.50 186.02 L114.80 185.35 L115.10 184.70 L115.40 184.07 L115.70 183.46 L116.00 182.88 L116.30 182.33 L116.60 181.80 L116.90 181.31 L117.20 180.85 L117.50 180.41 L117.80 180.01 L118.10 179.64 L118.40 179.31 L118.70 179.01 L119.00 178.74 L119.30 178.50 L119.60 178.31 L119.90 178.15 L120.20 178.02 L120.50 177.94 L120.80 177.89 L121.10 177.88 L121.40 177.91 L121.70 177.98 L122.00 178.09 L122.30 178.23 L122.60 178.41 L122.90 178.62 L123.20 178.87 L123.50 179.15 L123.80 179.47 L124.10 179.81 L124.40 180.19 L124.70 180.59 L125.00 181.03 L125.30 181.49 L125.60 181.98 L125.90 182.50 L126.20 183.04 L126.50 183.61 L126.80 184.20 L127.10 184.81 L127.40 185.45 L127.70 186.10 L128.00 186.78 L128.30 187.47 L128.60 188.19 L128.90 188.92 L129.20 189.67 L129.50 190.44 L129.80 191.22 L130.10 192.01 L130.40 192.82 L130.70 193.63 L131.00 194.46 L131.30 195.29 L131.60 196.12 L131.90 196.95 L132.20 197.79 L132.50 198.61 L132.80 199.43 L133.10 200.25 L133.40 201.05 L133.70 201.83 L134.00 202.61 L134.30 203.36 L134.60 204.09 L134.90 204.80 L135.20 205.49 L135.50 206.14 L135.80 206.77 L136.10 207.37 L136.40 207.93 L136.70 208.45 L137.00 208.93 L137.30 209.37 L137.60 209.77 L137.90 210.12 L138.20 210.42 L138.50 210.67 L138.80 210.87 L139.10 211.01 L139.40 211.10 L139.70 211.12 L140.00 211.08 L140.30 210.99 L140.60 210.84 L140.90 210.64 L141.20 210.38 L141.50 210.08 L141.80 209.74 L142.10 209.35 L142.40 208.91 L142.70 208.44 L143.00 207.94 L143.30 207.40 L143.60 206.82 L143.90 206.22 L144.20 205.59 L144.50 204.93 L144.80 204.26 L145.10 203.56 L145.40 202.84 L145.70 202.11 L146.00 201.36 L146.30 200.61 L146.60 199.84 L146.90 199.07 L147.20 198.30 L147.50 197.52 L147.80 196.74 L148.10 195.97 L148.40 195.20 L148.70 194.44 L149.00 193.69 L149.30 192.95 L149.60 192.23 L149.90 191.52 L150.20 190.83 L150.50 190.17 L150.80 189.53 L151.10 188.91 L151.40 188.32 L151.70 187.76 L152.00 187.24 L152.30 186.75 L152.60 186.30 L152.90 185.89 L153.20 185.51 L153.50 185.16 L153.80 184.86 L154.10 184.58 L154.40 184.34 L154.70 184.13 L155.00 183.96 L155.30 183.82 L155.60 183.71 L155.90 183.63 L156.20 183.59 L156.50 183.57 L156.80 183.58 L157.10 183.63 L157.40 183.70 L157.70 183.80 L158.00 183.93 L158.30 184.09 L158.60 184.27 L158.90 184.48 L159.20 184.72 L159.50 184.98 L159.80 185.27 L160.10 185.58 L160.40 185.92 L160.70 186.28 L161.00 186.66 L161.30 187.06 L161.60 187.48 L161.90 187.92 L162.20 188.37 L162.50 188.84 L162.80 189.31 L163.10 189.80 L163.40 190.30 L163.70 190.81 L164.00 191.33 L164.30 191.84 L164.60 192.37 L164.90 192.89 L165.20 193.42 L165.50 193.95 L165.80 194.47 L166.10 194.99 L166.40 195.51 L166.70 196.02 L167.00 196.52 L167.30 197.01 L167.60 197.49 L167.90 197.96 L168.20 198.42 L168.50 198.86 L168.80 199.29 L169.10 199.69 L169.40 200.08 L169.70 200.45 L170.00 200.79 L170.30 201.11 L170.60 201.40 L170.90 201.67 L171.20 201.91 L171.50 202.12 L171.80 202.31 L172.10 202.46 L172.40 202.59 L172.70 202.70 L173.00 202.77 L173.30 202.82 L173.60 202.85 L173.90 202.85 L174.20 202.82 L174.50 202.78 L174.80 202.70 L175.10 202.61 L175.40 202.49 L175.70 202.35 L176.00 202.19 L176.30 202.01 L176.60 201.80 L176.90 201.58 L177.20 201.34 L177.50 201.07 L177.80 200.79 L178.10 200.49 L178.40 200.17 L178.70 199.83 L179.00 199.47 L179.30 199.10 L179.60 198.71 L179.90 198.31 L180.20 197.88 L180.50 197.45 L180.80 197.00 L181.10 196.53 L181.40 196.05 L181.70 195.56 L182.00 195.05 L182.30 194.53 L182.60 194.00 L182.90 193.46 L183.20 192.91 L183.50 192.34 L183.80 191.77 L184.10 191.18 L184.40 190.59 L184.70 189.98 L185.00 189.37 L185.30 188.75 L185.60 188.12 L185.90 187.48 L186.20 186.84 L186.50 186.19 L186.80 185.54 L187.10 184.87 L187.40 184.21 L187.70 183.54 L188.00 182.86 L188.30 182.18 L188.60 181.49 L188.90 180.80 L189.20 180.11 L189.50 179.40 L189.80 178.70 L190.10 177.98 L190.40 177.26 L190.70 176.53 L191.00 175.80 L191.30 175.06 L191.60 174.31 L191.90 173.55 L192.20 172.78 L192.50 172.01 L192.80 171.23 L193.10 170.44 L193.40 169.64 L193.70 168.83 L194.00 168.01 L194.30 167.18 L194.60 166.34 L194.90 165.50 L195.20 164.64 L195.50 163.77 L195.80 162.89 L196.10 162.00 L196.40 161.09 L196.70 160.18 L197.00 159.25 L197.30 158.31 L197.60 157.36 L197.90 156.40 L198.20 155.42 L198.50 154.44 L198.50 154.44" stroke="#1f77b4" stroke-width="1.65"/>
</g>
<rect x="55.5" y="159.5" width="226" height="99" fill="none" stroke="#1a1a1a" stroke-width="1"/>
<line x1="52" y1="258.5" x2="55.5" y2="258.5" stroke="#1a1a1a" stroke-width="1"/>
<rect x="26.21" y="258.85" width="7" height="1" fill="#ff7f0e"/>
<text x="34.13" y="262.95" font-size="12.7" fill="#ff7f0e" dx="0 0.25">30</text>
<line x1="52" y1="242.5" x2="55.5" y2="242.5" stroke="#1a1a1a" stroke-width="1"/>
<rect x="26.36" y="242.85" width="7" height="1" fill="#ff7f0e"/>
<text x="34.13" y="246.95" font-size="12.7" fill="#ff7f0e" dx="0 0.25">20</text>
<line x1="52" y1="225.5" x2="55.5" y2="225.5" stroke="#1a1a1a" stroke-width="1"/>
<rect x="26.7" y="225.85" width="7" height="1" fill="#ff7f0e"/>
<text x="34.13" y="229.95" font-size="12.7" fill="#ff7f0e" dx="0 0.25">10</text>
<line x1="52" y1="209.5" x2="55.5" y2="209.5" stroke="#1a1a1a" stroke-width="1"/>
<text x="41.44" y="213.95" font-size="12.7" fill="#ff7f0e" dx="0">0</text>
<line x1="52" y1="192.5" x2="55.5" y2="192.5" stroke="#1a1a1a" stroke-width="1"/>
<text x="34.13" y="196.95" font-size="12.7" fill="#ff7f0e" dx="0 0.25">10</text>
<line x1="52" y1="176.5" x2="55.5" y2="176.5" stroke="#1a1a1a" stroke-width="1"/>
<text x="34.13" y="180.95" font-size="12.7" fill="#ff7f0e" dx="0 0.25">20</text>
<line x1="52" y1="159.5" x2="55.5" y2="159.5" stroke="#1a1a1a" stroke-width="1"/>
<text x="34.13" y="163.95" font-size="12.7" fill="#ff7f0e" dx="0 0.25">30</text>
<line x1="281.5" y1="250.5" x2="285" y2="250.5" stroke="#1a1a1a" stroke-width="1"/>
<rect x="290.02" y="250.85" width="7" height="1" fill="#1f77b4"/>
<text x="297.44" y="254.95" font-size="12.7" fill="#1f77b4" dx="0 0.25 0.25">100</text>
<line x1="281.5" y1="208.5" x2="285" y2="208.5" stroke="#1a1a1a" stroke-width="1"/>
<text x="289.07" y="212.95" font-size="12.7" fill="#1f77b4" dx="0">0</text>
<line x1="281.5" y1="167.5" x2="285" y2="167.5" stroke="#1a1a1a" stroke-width="1"/>
<text x="289.1" y="171.95" font-size="12.7" fill="#1f77b4" dx="0 0.25 0.25">100</text>
<line x1="55.5" y1="258.5" x2="55.5" y2="262" stroke="#1a1a1a" stroke-width="1"/>
<text x="51.98" y="274.9" font-size="12.7" fill="#1a1a1a" dx="0">0</text>
<line x1="106.5" y1="258.5" x2="106.5" y2="262" stroke="#1a1a1a" stroke-width="1"/>
<text x="99.08" y="274.9" font-size="12.7" fill="#1a1a1a" dx="0 0.25">10</text>
<line x1="156.5" y1="258.5" x2="156.5" y2="262" stroke="#1a1a1a" stroke-width="1"/>
<text x="149.25" y="274.9" font-size="12.7" fill="#1a1a1a" dx="0 0.25">20</text>
<line x1="206.5" y1="258.5" x2="206.5" y2="262" stroke="#1a1a1a" stroke-width="1"/>
<text x="199.32" y="274.9" font-size="12.7" fill="#1a1a1a" dx="0 0.25">30</text>
<line x1="256.5" y1="258.5" x2="256.5" y2="262" stroke="#1a1a1a" stroke-width="1"/>
<text x="249.42" y="274.9" font-size="12.7" fill="#1a1a1a" dx="0 0.25">40</text>
<text transform="translate(16.3,209) rotate(-90)" text-anchor="middle" fill="#ff7f0e" font-size="12.8" textLength="62.68" lengthAdjust="spacingAndGlyphs">WNA [deg]</text>
<g transform="translate(336.2,209) rotate(-90)" fill="#1f77b4"><text x="-22.29" y="0" font-size="12.26">Δ</text><text x="-14.19" y="2.37" font-size="8.53" font-style="italic">d</text><text x="-5.36" y="0" font-size="12.26" textLength="27.65" lengthAdjust="spacingAndGlyphs">[km]</text></g>
<text x="15.49" y="170.5" font-size="13.2" fill="#111111" stroke="#111111" stroke-width="0.1">b</text>
<text x="23.91" y="170.5" font-size="13.2" fill="#111111">)</text>
<line x1="106.5" y1="296.5" x2="106.5" y2="395.5" stroke="#cccccc" stroke-width="1"/>
<line x1="156.5" y1="296.5" x2="156.5" y2="395.5" stroke="#cccccc" stroke-width="1"/>
<line x1="206.5" y1="296.5" x2="206.5" y2="395.5" stroke="#cccccc" stroke-width="1"/>
<line x1="256.5" y1="296.5" x2="256.5" y2="395.5" stroke="#cccccc" stroke-width="1"/>
<line x1="55.5" y1="390.5" x2="281.5" y2="390.5" stroke="#cccccc" stroke-width="1"/>
<line x1="55.5" y1="380.5" x2="281.5" y2="380.5" stroke="#cccccc" stroke-width="1"/>
<line x1="55.5" y1="370.5" x2="281.5" y2="370.5" stroke="#cccccc" stroke-width="1"/>
<line x1="55.5" y1="360.5" x2="281.5" y2="360.5" stroke="#cccccc" stroke-width="1"/>
<line x1="55.5" y1="349.5" x2="281.5" y2="349.5" stroke="#cccccc" stroke-width="1"/>
<line x1="55.5" y1="339.5" x2="281.5" y2="339.5" stroke="#cccccc" stroke-width="1"/>
<line x1="55.5" y1="329.5" x2="281.5" y2="329.5" stroke="#cccccc" stroke-width="1"/>
<line x1="55.5" y1="319.5" x2="281.5" y2="319.5" stroke="#cccccc" stroke-width="1"/>
<line x1="55.5" y1="308.5" x2="281.5" y2="308.5" stroke="#cccccc" stroke-width="1"/>
<line x1="55.5" y1="298.5" x2="281.5" y2="298.5" stroke="#cccccc" stroke-width="1"/>
<clipPath id="cpc"><rect x="55.5" y="296.5" width="226" height="99"/></clipPath>
<g clip-path="url(#cpc)" fill="none" stroke-linejoin="round" stroke-linecap="butt">
<path d="M55.60 390.54 L55.90 390.25 L56.20 389.97 L56.50 389.68 L56.80 389.40 L57.10 389.12 L57.40 388.84 L57.70 388.56 L58.00 388.27 L58.30 387.99 L58.60 387.71 L58.90 387.43 L59.20 387.15 L59.50 386.87 L59.80 386.59 L60.10 386.31 L60.40 386.03 L60.70 385.75 L61.00 385.47 L61.30 385.19 L61.60 384.92 L61.90 384.64 L62.20 384.36 L62.50 384.08 L62.80 383.81 L63.10 383.53 L63.40 383.25 L63.70 382.98 L64.00 382.70 L64.30 382.43 L64.60 382.15 L64.90 381.88 L65.20 381.60 L65.50 381.33 L65.80 381.06 L66.10 380.78 L66.40 380.51 L66.70 380.24 L67.00 379.97 L67.30 379.69 L67.60 379.42 L67.90 379.15 L68.20 378.88 L68.50 378.61 L68.80 378.34 L69.10 378.07 L69.40 377.80 L69.70 377.53 L70.00 377.26 L70.30 376.99 L70.60 376.73 L70.90 376.46 L71.20 376.19 L71.50 375.92 L71.80 375.66 L72.10 375.39 L72.40 375.12 L72.70 374.86 L73.00 374.59 L73.30 374.33 L73.60 374.06 L73.90 373.80 L74.20 373.53 L74.50 373.27 L74.80 373.01 L75.10 372.74 L75.40 372.48 L75.70 372.22 L76.00 371.96 L76.30 371.69 L76.60 371.43 L76.90 371.17 L77.20 370.91 L77.50 370.65 L77.80 370.39 L78.10 370.13 L78.40 369.87 L78.70 369.61 L79.00 369.36 L79.30 369.10 L79.60 368.84 L79.90 368.58 L80.20 368.33 L80.50 368.07 L80.80 367.81 L81.10 367.56 L81.40 367.30 L81.70 367.05 L82.00 366.79 L82.30 366.54 L82.60 366.28 L82.90 366.03 L83.20 365.78 L83.50 365.53 L83.80 365.27 L84.10 365.02 L84.40 364.77 L84.70 364.52 L85.00 364.27 L85.30 364.02 L85.60 363.77 L85.90 363.52 L86.20 363.27 L86.50 363.02 L86.80 362.77 L87.10 362.52 L87.40 362.28 L87.70 362.03 L88.00 361.78 L88.30 361.53 L88.60 361.29 L88.90 361.04 L89.20 360.80 L89.50 360.55 L89.80 360.31 L90.10 360.06 L90.40 359.82 L90.70 359.58 L91.00 359.33 L91.30 359.09 L91.60 358.85 L91.90 358.61 L92.20 358.37 L92.50 358.13 L92.80 357.89 L93.10 357.65 L93.40 357.41 L93.70 357.17 L94.00 356.93 L94.30 356.69 L94.60 356.45 L94.90 356.22 L95.20 355.98 L95.50 355.74 L95.80 355.51 L96.10 355.27 L96.40 355.04 L96.70 354.80 L97.00 354.57 L97.30 354.33 L97.60 354.10 L97.90 353.87 L98.20 353.64 L98.50 353.40 L98.80 353.17 L99.10 352.94 L99.40 352.71 L99.70 352.48 L100.00 352.25 L100.30 352.02 L100.60 351.79 L100.90 351.56 L101.20 351.34 L101.50 351.11 L101.80 350.88 L102.10 350.65 L102.40 350.43 L102.70 350.20 L103.00 349.98 L103.30 349.75 L103.60 349.53 L103.90 349.30 L104.20 349.08 L104.50 348.86 L104.80 348.63 L105.10 348.41 L105.40 348.19 L105.70 347.97 L106.00 347.75 L106.30 347.53 L106.60 347.31 L106.90 347.09 L107.20 346.87 L107.50 346.65 L107.80 346.44 L108.10 346.22 L108.40 346.00 L108.70 345.79 L109.00 345.57 L109.30 345.35 L109.60 345.14 L109.90 344.92 L110.20 344.71 L110.50 344.50 L110.80 344.28 L111.10 344.07 L111.40 343.86 L111.70 343.65 L112.00 343.44 L112.30 343.23 L112.60 343.02 L112.90 342.81 L113.20 342.60 L113.50 342.39 L113.80 342.18 L114.10 341.98 L114.40 341.77 L114.70 341.56 L115.00 341.36 L115.30 341.15 L115.60 340.95 L115.90 340.74 L116.20 340.54 L116.50 340.34 L116.80 340.13 L117.10 339.93 L117.40 339.73 L117.70 339.53 L118.00 339.33 L118.30 339.13 L118.60 338.93 L118.90 338.73 L119.20 338.53 L119.50 338.33 L119.80 338.14 L120.10 337.94 L120.40 337.74 L120.70 337.55 L121.00 337.35 L121.30 337.16 L121.60 336.96 L121.90 336.77 L122.20 336.58 L122.50 336.38 L122.80 336.19 L123.10 336.00 L123.40 335.81 L123.70 335.62 L124.00 335.43 L124.30 335.24 L124.60 335.05 L124.90 334.86 L125.20 334.68 L125.50 334.49 L125.80 334.30 L126.10 334.12 L126.40 333.93 L126.70 333.75 L127.00 333.57 L127.30 333.38 L127.60 333.20 L127.90 333.02 L128.20 332.84 L128.50 332.65 L128.80 332.47 L129.10 332.29 L129.40 332.11 L129.70 331.94 L130.00 331.76 L130.30 331.58 L130.60 331.40 L130.90 331.23 L131.20 331.05 L131.50 330.88 L131.80 330.70 L132.10 330.53 L132.40 330.35 L132.70 330.18 L133.00 330.01 L133.30 329.84 L133.60 329.67 L133.90 329.50 L134.20 329.33 L134.50 329.16 L134.80 328.99 L135.10 328.82 L135.40 328.65 L135.70 328.49 L136.00 328.32 L136.30 328.16 L136.60 327.99 L136.90 327.83 L137.20 327.66 L137.50 327.50 L137.80 327.34 L138.10 327.18 L138.40 327.01 L138.70 326.85 L139.00 326.69 L139.30 326.53 L139.60 326.38 L139.90 326.22 L140.20 326.06 L140.50 325.90 L140.80 325.75 L141.10 325.59 L141.40 325.43 L141.70 325.28 L142.00 325.13 L142.30 324.97 L142.60 324.82 L142.90 324.67 L143.20 324.52 L143.50 324.36 L143.80 324.21 L144.10 324.06 L144.40 323.91 L144.70 323.77 L145.00 323.62 L145.30 323.47 L145.60 323.32 L145.90 323.18 L146.20 323.03 L146.50 322.89 L146.80 322.74 L147.10 322.60 L147.40 322.45 L147.70 322.31 L148.00 322.17 L148.30 322.03 L148.60 321.89 L148.90 321.75 L149.20 321.61 L149.50 321.47 L149.80 321.33 L150.10 321.19 L150.40 321.05 L150.70 320.92 L151.00 320.78 L151.30 320.65 L151.60 320.51 L151.90 320.38 L152.20 320.24 L152.50 320.11 L152.80 319.98 L153.10 319.85 L153.40 319.71 L153.70 319.58 L154.00 319.45 L154.30 319.32 L154.60 319.19 L154.90 319.07 L155.20 318.94 L155.50 318.81 L155.80 318.68 L156.10 318.56 L156.40 318.43 L156.70 318.31 L157.00 318.18 L157.30 318.06 L157.60 317.94 L157.90 317.82 L158.20 317.69 L158.50 317.57 L158.80 317.45 L159.10 317.33 L159.40 317.21 L159.70 317.09 L160.00 316.98 L160.30 316.86 L160.60 316.74 L160.90 316.62 L161.20 316.51 L161.50 316.39 L161.80 316.28 L162.10 316.16 L162.40 316.05 L162.70 315.94 L163.00 315.82 L163.30 315.71 L163.60 315.60 L163.90 315.49 L164.20 315.38 L164.50 315.27 L164.80 315.16 L165.10 315.05 L165.40 314.94 L165.70 314.84 L166.00 314.73 L166.30 314.62 L166.60 314.52 L166.90 314.41 L167.20 314.31 L167.50 314.20 L167.80 314.10 L168.10 314.00 L168.40 313.89 L168.70 313.79 L169.00 313.69 L169.30 313.59 L169.60 313.49 L169.90 313.39 L170.20 313.29 L170.50 313.19 L170.80 313.09 L171.10 312.99 L171.40 312.90 L171.70 312.80 L172.00 312.70 L172.30 312.61 L172.60 312.51 L172.90 312.42 L173.20 312.32 L173.50 312.23 L173.80 312.14 L174.10 312.04 L174.40 311.95 L174.70 311.86 L175.00 311.77 L175.30 311.68 L175.60 311.59 L175.90 311.50 L176.20 311.41 L176.50 311.32 L176.80 311.23 L177.10 311.14 L177.40 311.06 L177.70 310.97 L178.00 310.88 L178.30 310.80 L178.60 310.71 L178.90 310.63 L179.20 310.54 L179.50 310.46 L179.80 310.38 L180.10 310.29 L180.40 310.21 L180.70 310.13 L181.00 310.05 L181.30 309.97 L181.60 309.89 L181.90 309.81 L182.20 309.73 L182.50 309.65 L182.80 309.57 L183.10 309.49 L183.40 309.41 L183.70 309.34 L184.00 309.26 L184.30 309.18 L184.60 309.11 L184.90 309.03 L185.20 308.96 L185.50 308.88 L185.80 308.81 L186.10 308.74 L186.40 308.66 L186.70 308.59 L187.00 308.52 L187.30 308.45 L187.60 308.37 L187.90 308.30 L188.20 308.23 L188.50 308.16 L188.80 308.09 L189.10 308.02 L189.40 307.96 L189.70 307.89 L190.00 307.82 L190.30 307.75 L190.60 307.69 L190.90 307.62 L191.20 307.55 L191.50 307.49 L191.80 307.42 L192.10 307.36 L192.40 307.29 L192.70 307.23 L193.00 307.16 L193.30 307.10 L193.60 307.04 L193.90 306.98 L194.20 306.91 L194.50 306.85 L194.80 306.79 L195.10 306.73 L195.40 306.67 L195.70 306.61 L196.00 306.55 L196.30 306.49 L196.60 306.43 L196.90 306.37 L197.20 306.32 L197.50 306.26 L197.80 306.20 L198.10 306.14 L198.40 306.09 L198.70 306.03 L199.00 305.98 L199.30 305.92 L199.60 305.87 L199.90 305.81 L200.20 305.76 L200.50 305.70 L200.80 305.65 L201.10 305.60 L201.40 305.54 L201.70 305.49 L202.00 305.44 L202.30 305.39 L202.60 305.34 L202.90 305.29 L203.20 305.24 L203.50 305.19 L203.80 305.14 L204.10 305.09 L204.40 305.04 L204.70 304.99 L205.00 304.94 L205.30 304.89 L205.60 304.85 L205.90 304.80 L206.20 304.75 L206.50 304.71 L206.80 304.66 L207.10 304.61 L207.40 304.57 L207.70 304.52 L208.00 304.48 L208.30 304.43 L208.60 304.39 L208.90 304.34 L209.20 304.30 L209.50 304.26 L209.80 304.22 L210.10 304.17 L210.40 304.13 L210.70 304.09 L211.00 304.05 L211.30 304.01 L211.60 303.97 L211.90 303.92 L212.20 303.88 L212.50 303.84 L212.80 303.80 L213.10 303.77 L213.40 303.73 L213.70 303.69 L214.00 303.65 L214.30 303.61 L214.60 303.57 L214.90 303.54 L215.20 303.50 L215.50 303.46 L215.80 303.43 L216.10 303.39 L216.40 303.35 L216.70 303.32 L217.00 303.28 L217.30 303.25 L217.60 303.21 L217.90 303.18 L218.20 303.14 L218.50 303.11 L218.80 303.08 L219.10 303.04 L219.40 303.01 L219.70 302.98 L220.00 302.94 L220.30 302.91 L220.60 302.88 L220.90 302.85 L221.20 302.82 L221.50 302.78 L221.80 302.75 L222.10 302.72 L222.40 302.69 L222.70 302.66 L223.00 302.63 L223.30 302.60 L223.60 302.57 L223.90 302.54 L224.20 302.52 L224.50 302.49 L224.80 302.46 L225.10 302.43 L225.40 302.40 L225.70 302.38 L226.00 302.35 L226.30 302.32 L226.60 302.29 L226.90 302.27 L227.20 302.24 L227.50 302.22 L227.80 302.19 L228.10 302.16 L228.40 302.14 L228.70 302.11 L229.00 302.09 L229.30 302.06 L229.60 302.04 L229.90 302.02 L230.20 301.99 L230.50 301.97 L230.80 301.94 L231.10 301.92 L231.40 301.90 L231.70 301.87 L232.00 301.85 L232.30 301.83 L232.60 301.81 L232.90 301.79 L233.20 301.76 L233.50 301.74 L233.80 301.72 L234.10 301.70 L234.40 301.68 L234.70 301.66 L235.00 301.64 L235.30 301.62 L235.60 301.60 L235.90 301.58 L236.20 301.56 L236.50 301.54 L236.80 301.52 L237.10 301.50 L237.40 301.48 L237.70 301.46 L238.00 301.44 L238.30 301.42 L238.60 301.40 L238.90 301.39 L239.20 301.37 L239.50 301.35 L239.80 301.33 L240.10 301.32 L240.40 301.30 L240.70 301.28 L241.00 301.26 L241.30 301.25 L241.60 301.23 L241.90 301.22 L242.20 301.20 L242.50 301.18 L242.80 301.17 L243.10 301.15 L243.40 301.14 L243.70 301.12 L244.00 301.11 L244.30 301.09 L244.60 301.08 L244.90 301.06 L245.20 301.05 L245.50 301.03 L245.80 301.02 L246.10 301.00 L246.40 300.99 L246.70 300.98 L247.00 300.96 L247.30 300.95 L247.60 300.93 L247.90 300.92 L248.20 300.91 L248.50 300.89 L248.80 300.88 L249.10 300.87 L249.40 300.86 L249.70 300.84 L250.00 300.83 L250.30 300.82 L250.60 300.81 L250.90 300.79 L251.20 300.78 L251.50 300.77 L251.80 300.76 L252.10 300.75 L252.40 300.74 L252.70 300.73 L253.00 300.71 L253.30 300.70 L253.60 300.69 L253.90 300.68 L254.20 300.67 L254.50 300.66 L254.80 300.65 L255.10 300.64 L255.40 300.63 L255.70 300.62 L256.00 300.61 L256.30 300.60 L256.60 300.59 L256.90 300.58 L257.20 300.57 L257.50 300.56 L257.80 300.55 L258.10 300.54 L258.40 300.53 L258.70 300.52 L259.00 300.51 L259.30 300.50 L259.60 300.49 L259.90 300.48 L260.20 300.47 L260.50 300.46 L260.80 300.46 L261.10 300.45 L261.40 300.44 L261.70 300.43 L262.00 300.42 L262.30 300.41 L262.60 300.40 L262.90 300.40 L263.20 300.39 L263.50 300.38 L263.80 300.37 L264.10 300.36 L264.40 300.35 L264.70 300.35 L265.00 300.34 L265.30 300.33 L265.60 300.32 L265.90 300.31 L266.20 300.31 L266.50 300.30 L266.80 300.29 L267.10 300.28 L267.40 300.28 L267.70 300.27 L268.00 300.26 L268.30 300.25 L268.60 300.25 L268.90 300.24 L269.20 300.23 L269.50 300.22 L269.80 300.22 L270.10 300.21 L270.40 300.20 L270.70 300.19 L271.00 300.19 L271.30 300.18 L271.60 300.17 L271.90 300.16 L272.20 300.16 L272.50 300.15 L272.80 300.14 L273.10 300.14 L273.40 300.13 L273.70 300.12 L274.00 300.11 L274.30 300.11 L274.60 300.10 L274.90 300.09 L275.20 300.08 L275.50 300.08 L275.80 300.07 L276.10 300.06 L276.40 300.06 L276.70 300.05 L277.00 300.04 L277.30 300.03 L277.60 300.03 L277.90 300.02 L278.20 300.01 L278.50 300.00 L278.80 300.00 L279.10 299.99 L279.40 299.98 L279.70 299.98 L280.00 299.97 L280.30 299.96 L280.60 299.95 L280.90 299.95 L281.20 299.94 L281.50 299.93 L281.80 299.92 L282.00 299.92" stroke="#ff7f0e" stroke-width="1.65"/>
<path d="M55.60 390.42 L55.90 390.46 L56.20 390.49 L56.50 390.52 L56.80 390.54 L57.10 390.56 L57.40 390.58 L57.70 390.59 L58.00 390.60 L58.30 390.61 L58.60 390.61 L58.90 390.61 L59.20 390.60 L59.50 390.60 L59.80 390.58 L60.10 390.57 L60.40 390.55 L60.70 390.52 L61.00 390.50 L61.30 390.47 L61.60 390.43 L61.90 390.40 L62.20 390.36 L62.50 390.31 L62.80 390.27 L63.10 390.22 L63.40 390.16 L63.70 390.10 L64.00 390.04 L64.30 389.98 L64.60 389.91 L64.90 389.84 L65.20 389.77 L65.50 389.69 L65.80 389.61 L66.10 389.53 L66.40 389.44 L66.70 389.35 L67.00 389.26 L67.30 389.16 L67.60 389.06 L67.90 388.96 L68.20 388.85 L68.50 388.74 L68.80 388.63 L69.10 388.52 L69.40 388.40 L69.70 388.28 L70.00 388.16 L70.30 388.03 L70.60 387.90 L70.90 387.77 L71.20 387.63 L71.50 387.49 L71.80 387.35 L72.10 387.21 L72.40 387.06 L72.70 386.91 L73.00 386.76 L73.30 386.60 L73.60 386.44 L73.90 386.28 L74.20 386.12 L74.50 385.95 L74.80 385.79 L75.10 385.61 L75.40 385.44 L75.70 385.26 L76.00 385.08 L76.30 384.90 L76.60 384.72 L76.90 384.53 L77.20 384.34 L77.50 384.15 L77.80 383.95 L78.10 383.76 L78.40 383.56 L78.70 383.35 L79.00 383.15 L79.30 382.94 L79.60 382.73 L79.90 382.52 L80.20 382.31 L80.50 382.09 L80.80 381.87 L81.10 381.65 L81.40 381.43 L81.70 381.20 L82.00 380.98 L82.30 380.75 L82.60 380.51 L82.90 380.28 L83.20 380.04 L83.50 379.80 L83.80 379.56 L84.10 379.32 L84.40 379.08 L84.70 378.83 L85.00 378.58 L85.30 378.33 L85.60 378.07 L85.90 377.82 L86.20 377.56 L86.50 377.30 L86.80 377.04 L87.10 376.78 L87.40 376.51 L87.70 376.25 L88.00 375.98 L88.30 375.71 L88.60 375.43 L88.90 375.16 L89.20 374.88 L89.50 374.61 L89.80 374.33 L90.10 374.05 L90.40 373.76 L90.70 373.48 L91.00 373.19 L91.30 372.90 L91.60 372.61 L91.90 372.32 L92.20 372.03 L92.50 371.73 L92.80 371.44 L93.10 371.14 L93.40 370.84 L93.70 370.54 L94.00 370.24 L94.30 369.93 L94.60 369.63 L94.90 369.32 L95.20 369.01 L95.50 368.70 L95.80 368.39 L96.10 368.08 L96.40 367.76 L96.70 367.45 L97.00 367.13 L97.30 366.81 L97.60 366.49 L97.90 366.17 L98.20 365.85 L98.50 365.53 L98.80 365.21 L99.10 364.88 L99.40 364.55 L99.70 364.23 L100.00 363.90 L100.30 363.57 L100.60 363.24 L100.90 362.90 L101.20 362.57 L101.50 362.24 L101.80 361.90 L102.10 361.57 L102.40 361.23 L102.70 360.89 L103.00 360.55 L103.30 360.21 L103.60 359.87 L103.90 359.53 L104.20 359.19 L104.50 358.85 L104.80 358.51 L105.10 358.16 L105.40 357.82 L105.70 357.47 L106.00 357.12 L106.30 356.78 L106.60 356.43 L106.90 356.08 L107.20 355.73 L107.50 355.39 L107.80 355.04 L108.10 354.69 L108.40 354.33 L108.70 353.98 L109.00 353.63 L109.30 353.28 L109.60 352.93 L109.90 352.58 L110.20 352.22 L110.50 351.87 L110.80 351.52 L111.10 351.16 L111.40 350.81 L111.70 350.46 L112.00 350.10 L112.30 349.75 L112.60 349.39 L112.90 349.04 L113.20 348.68 L113.50 348.33 L113.80 347.97 L114.10 347.62 L114.40 347.26 L114.70 346.91 L115.00 346.55 L115.30 346.20 L115.60 345.84 L115.90 345.49 L116.20 345.13 L116.50 344.78 L116.80 344.43 L117.10 344.07 L117.40 343.72 L117.70 343.37 L118.00 343.01 L118.30 342.66 L118.60 342.31 L118.90 341.95 L119.20 341.60 L119.50 341.25 L119.80 340.90 L120.10 340.55 L120.40 340.20 L120.70 339.85 L121.00 339.50 L121.30 339.15 L121.60 338.80 L121.90 338.46 L122.20 338.11 L122.50 337.76 L122.80 337.42 L123.10 337.07 L123.40 336.73 L123.70 336.38 L124.00 336.04 L124.30 335.70 L124.60 335.36 L124.90 335.02 L125.20 334.68 L125.50 334.34 L125.80 334.00 L126.10 333.66 L126.40 333.33 L126.70 332.99 L127.00 332.66 L127.30 332.32 L127.60 331.99 L127.90 331.66 L128.20 331.33 L128.50 331.00 L128.80 330.67 L129.10 330.34 L129.40 330.02 L129.70 329.69 L130.00 329.37 L130.30 329.04 L130.60 328.72 L130.90 328.40 L131.20 328.08 L131.50 327.76 L131.80 327.44 L132.10 327.12 L132.40 326.81 L132.70 326.50 L133.00 326.18 L133.30 325.87 L133.60 325.56 L133.90 325.25 L134.20 324.94 L134.50 324.64 L134.80 324.33 L135.10 324.03 L135.40 323.73 L135.70 323.43 L136.00 323.13 L136.30 322.83 L136.60 322.53 L136.90 322.24 L137.20 321.94 L137.50 321.65 L137.80 321.36 L138.10 321.07 L138.40 320.78 L138.70 320.49 L139.00 320.21 L139.30 319.93 L139.60 319.65 L139.90 319.37 L140.20 319.09 L140.50 318.81 L140.80 318.54 L141.10 318.26 L141.40 317.99 L141.70 317.72 L142.00 317.45 L142.30 317.19 L142.60 316.92 L142.90 316.66 L143.20 316.40 L143.50 316.14 L143.80 315.88 L144.10 315.62 L144.40 315.37 L144.70 315.12 L145.00 314.87 L145.30 314.62 L145.60 314.37 L145.90 314.13 L146.20 313.89 L146.50 313.65 L146.80 313.41 L147.10 313.17 L147.40 312.94 L147.70 312.71 L148.00 312.47 L148.30 312.25 L148.60 312.02 L148.90 311.80 L149.20 311.57 L149.50 311.35 L149.80 311.14 L150.10 310.92 L150.40 310.71 L150.70 310.50 L151.00 310.29 L151.30 310.08 L151.60 309.88 L151.90 309.67 L152.20 309.47 L152.50 309.28 L152.80 309.08 L153.10 308.89 L153.40 308.70 L153.70 308.51 L154.00 308.32 L154.30 308.14 L154.60 307.96 L154.90 307.78 L155.20 307.60 L155.50 307.43 L155.80 307.25 L156.10 307.08 L156.40 306.92 L156.70 306.75 L157.00 306.59 L157.30 306.43 L157.60 306.27 L157.90 306.11 L158.20 305.96 L158.50 305.80 L158.80 305.65 L159.10 305.51 L159.40 305.36 L159.70 305.22 L160.00 305.08 L160.30 304.94 L160.60 304.80 L160.90 304.67 L161.20 304.53 L161.50 304.40 L161.80 304.28 L162.10 304.15 L162.40 304.03 L162.70 303.90 L163.00 303.78 L163.30 303.67 L163.60 303.55 L163.90 303.44 L164.20 303.33 L164.50 303.22 L164.80 303.11 L165.10 303.00 L165.40 302.90 L165.70 302.80 L166.00 302.70 L166.30 302.60 L166.60 302.51 L166.90 302.42 L167.20 302.32 L167.50 302.24 L167.80 302.15 L168.10 302.06 L168.40 301.98 L168.70 301.90 L169.00 301.82 L169.30 301.74 L169.60 301.67 L169.90 301.59 L170.20 301.52 L170.50 301.45 L170.80 301.39 L171.10 301.32 L171.40 301.26 L171.70 301.20 L172.00 301.14 L172.30 301.08 L172.60 301.02 L172.90 300.97 L173.20 300.92 L173.50 300.87 L173.80 300.82 L174.10 300.77 L174.40 300.73 L174.70 300.68 L175.00 300.64 L175.30 300.60 L175.60 300.56 L175.90 300.53 L176.20 300.49 L176.50 300.46 L176.80 300.43 L177.10 300.40 L177.40 300.38 L177.70 300.35 L178.00 300.33 L178.30 300.31 L178.60 300.29 L178.90 300.27 L179.20 300.25 L179.50 300.24 L179.80 300.23 L180.10 300.21 L180.40 300.21 L180.70 300.20 L181.00 300.19 L181.30 300.19 L181.60 300.18 L181.90 300.18 L182.20 300.18 L182.50 300.19 L182.80 300.19 L183.10 300.20 L183.40 300.20 L183.70 300.21 L184.00 300.22 L184.30 300.23 L184.60 300.25 L184.90 300.26 L185.20 300.28 L185.50 300.30 L185.80 300.32 L186.10 300.34 L186.40 300.36 L186.70 300.39 L187.00 300.41 L187.30 300.44 L187.60 300.47 L187.90 300.50 L188.20 300.54 L188.50 300.57 L188.80 300.60 L189.10 300.64 L189.40 300.68 L189.70 300.72 L190.00 300.76 L190.30 300.80 L190.60 300.85 L190.90 300.89 L191.20 300.94 L191.50 300.99 L191.80 301.04 L192.10 301.09 L192.40 301.15 L192.70 301.20 L193.00 301.26 L193.30 301.31 L193.60 301.37 L193.90 301.43 L194.20 301.49 L194.50 301.56 L194.80 301.62 L195.10 301.69 L195.40 301.75 L195.70 301.82 L196.00 301.89 L196.30 301.96 L196.60 302.03 L196.90 302.11 L197.20 302.18 L197.50 302.26 L197.80 302.33 L198.10 302.41 L198.40 302.49 L198.70 302.57 L199.00 302.66 L199.30 302.74 L199.60 302.83 L199.90 302.91 L200.20 303.00 L200.50 303.09 L200.80 303.18 L201.10 303.27 L201.40 303.36 L201.70 303.46 L202.00 303.55 L202.30 303.65 L202.60 303.75 L202.90 303.84 L203.20 303.94 L203.50 304.04 L203.80 304.15 L204.10 304.25 L204.40 304.35 L204.70 304.46 L205.00 304.57 L205.30 304.67 L205.60 304.78 L205.90 304.89 L206.20 305.00 L206.50 305.11 L206.80 305.23 L207.10 305.34 L207.40 305.46 L207.70 305.57 L208.00 305.69 L208.30 305.81 L208.60 305.93 L208.90 306.05 L209.20 306.17 L209.50 306.29 L209.80 306.42 L210.10 306.54 L210.40 306.67 L210.70 306.79 L211.00 306.92 L211.30 307.05 L211.60 307.18 L211.90 307.31 L212.20 307.44 L212.50 307.58 L212.80 307.71 L213.10 307.84 L213.40 307.98 L213.70 308.12 L214.00 308.25 L214.30 308.39 L214.60 308.53 L214.90 308.67 L215.20 308.81 L215.50 308.95 L215.80 309.09 L216.10 309.24 L216.40 309.38 L216.70 309.53 L217.00 309.67 L217.30 309.82 L217.60 309.97 L217.90 310.12 L218.20 310.27 L218.50 310.42 L218.80 310.57 L219.10 310.72 L219.40 310.87 L219.70 311.03 L220.00 311.18 L220.30 311.33 L220.60 311.49 L220.90 311.65 L221.20 311.80 L221.50 311.96 L221.80 312.12 L222.10 312.28 L222.40 312.44 L222.70 312.60 L223.00 312.76 L223.30 312.92 L223.60 313.09 L223.90 313.25 L224.20 313.42 L224.50 313.58 L224.80 313.75 L225.10 313.91 L225.40 314.08 L225.70 314.25 L226.00 314.42 L226.30 314.59 L226.60 314.76 L226.90 314.93 L227.20 315.10 L227.50 315.27 L227.80 315.44 L228.10 315.61 L228.40 315.79 L228.70 315.96 L229.00 316.13 L229.30 316.31 L229.60 316.48 L229.90 316.66 L230.20 316.84 L230.50 317.01 L230.80 317.19 L231.10 317.37 L231.40 317.55 L231.70 317.73 L232.00 317.91 L232.30 318.09 L232.60 318.27 L232.90 318.45 L233.20 318.63 L233.50 318.81 L233.80 319.00 L234.10 319.18 L234.40 319.36 L234.70 319.55 L235.00 319.73 L235.30 319.92 L235.60 320.10 L235.90 320.29 L236.20 320.47 L236.50 320.66 L236.80 320.85 L237.10 321.03 L237.40 321.22 L237.70 321.41 L238.00 321.60 L238.30 321.79 L238.60 321.98 L238.90 322.16 L239.20 322.35 L239.50 322.54 L239.80 322.73 L240.10 322.93 L240.40 323.12 L240.70 323.31 L241.00 323.50 L241.30 323.69 L241.60 323.88 L241.90 324.08 L242.20 324.27 L242.50 324.46 L242.80 324.65 L243.10 324.85 L243.40 325.04 L243.70 325.24 L244.00 325.43 L244.30 325.62 L244.60 325.82 L244.90 326.01 L245.20 326.21 L245.50 326.40 L245.80 326.60 L246.10 326.79 L246.40 326.99 L246.70 327.19 L247.00 327.38 L247.30 327.58 L247.60 327.77 L247.90 327.97 L248.20 328.17 L248.50 328.36 L248.80 328.56 L249.10 328.76 L249.40 328.95 L249.70 329.15 L250.00 329.35 L250.30 329.55 L250.60 329.74 L250.90 329.94 L251.20 330.14 L251.50 330.34 L251.80 330.53 L252.10 330.73 L252.40 330.93 L252.70 331.13 L253.00 331.32 L253.30 331.52 L253.60 331.72 L253.90 331.92 L254.20 332.11 L254.50 332.31 L254.80 332.51 L255.10 332.71 L255.40 332.90 L255.70 333.10 L256.00 333.30 L256.30 333.50 L256.60 333.69 L256.90 333.89 L257.20 334.09 L257.50 334.28 L257.80 334.48 L258.10 334.68 L258.40 334.87 L258.70 335.07 L259.00 335.27 L259.30 335.46 L259.60 335.66 L259.90 335.86 L260.20 336.05 L260.50 336.25 L260.80 336.44 L261.10 336.64 L261.40 336.83 L261.70 337.03 L262.00 337.22 L262.30 337.42 L262.60 337.61 L262.90 337.81 L263.20 338.00 L263.50 338.19 L263.80 338.39 L264.10 338.58 L264.40 338.77 L264.70 338.97 L265.00 339.16 L265.30 339.35 L265.60 339.54 L265.90 339.73 L266.20 339.92 L266.50 340.12 L266.80 340.31 L267.10 340.50 L267.40 340.69 L267.70 340.88 L268.00 341.07 L268.30 341.26 L268.60 341.44 L268.90 341.63 L269.20 341.82 L269.50 342.01 L269.80 342.20 L270.10 342.38 L270.40 342.57 L270.70 342.75 L271.00 342.94 L271.30 343.13 L271.60 343.31 L271.90 343.49 L272.20 343.68 L272.50 343.86 L272.80 344.05 L273.10 344.23 L273.40 344.41 L273.70 344.59 L274.00 344.77 L274.30 344.95 L274.60 345.13 L274.90 345.31 L275.20 345.49 L275.50 345.67 L275.80 345.85 L276.10 346.03 L276.40 346.20 L276.70 346.38 L277.00 346.56 L277.30 346.73 L277.60 346.91 L277.90 347.08 L278.20 347.26 L278.50 347.43 L278.80 347.60 L279.10 347.77 L279.40 347.95 L279.70 348.12 L280.00 348.29 L280.30 348.46 L280.60 348.63 L280.90 348.79 L281.20 348.96 L281.50 349.13 L281.80 349.30 L282.00 349.41" stroke="#1f77b4" stroke-width="1.65"/>
</g>
<rect x="55.5" y="296.5" width="226" height="99" fill="none" stroke="#1a1a1a" stroke-width="1"/>
<line x1="52" y1="390.5" x2="55.5" y2="390.5" stroke="#1a1a1a" stroke-width="1"/>
<text x="41.44" y="394.95" font-size="12.7" fill="#ff7f0e" dx="0">0</text>
<line x1="52" y1="380.5" x2="55.5" y2="380.5" stroke="#1a1a1a" stroke-width="1"/>
<text x="34.13" y="384.95" font-size="12.7" fill="#ff7f0e" dx="0 0.25">10</text>
<line x1="52" y1="370.5" x2="55.5" y2="370.5" stroke="#1a1a1a" stroke-width="1"/>
<text x="34.13" y="374.95" font-size="12.7" fill="#ff7f0e" dx="0 0.25">20</text>
<line x1="52" y1="360.5" x2="55.5" y2="360.5" stroke="#1a1a1a" stroke-width="1"/>
<text x="34.13" y="364.95" font-size="12.7" fill="#ff7f0e" dx="0 0.25">30</text>
<line x1="52" y1="349.5" x2="55.5" y2="349.5" stroke="#1a1a1a" stroke-width="1"/>
<text x="34.13" y="353.95" font-size="12.7" fill="#ff7f0e" dx="0 0.25">40</text>
<line x1="52" y1="339.5" x2="55.5" y2="339.5" stroke="#1a1a1a" stroke-width="1"/>
<text x="34.13" y="343.95" font-size="12.7" fill="#ff7f0e" dx="0 0.25">50</text>
<line x1="52" y1="329.5" x2="55.5" y2="329.5" stroke="#1a1a1a" stroke-width="1"/>
<text x="34.13" y="333.95" font-size="12.7" fill="#ff7f0e" dx="0 0.25">60</text>
<line x1="52" y1="319.5" x2="55.5" y2="319.5" stroke="#1a1a1a" stroke-width="1"/>
<text x="34.13" y="323.95" font-size="12.7" fill="#ff7f0e" dx="0 0.25">70</text>
<line x1="52" y1="308.5" x2="55.5" y2="308.5" stroke="#1a1a1a" stroke-width="1"/>
<text x="34.13" y="312.95" font-size="12.7" fill="#ff7f0e" dx="0 0.25">80</text>
<line x1="52" y1="298.5" x2="55.5" y2="298.5" stroke="#1a1a1a" stroke-width="1"/>
<text x="34.13" y="302.95" font-size="12.7" fill="#ff7f0e" dx="0 0.25">90</text>
<line x1="281.5" y1="391.5" x2="285" y2="391.5" stroke="#1a1a1a" stroke-width="1"/>
<text x="289.07" y="395.95" font-size="12.7" fill="#1f77b4" dx="0">0</text>
<line x1="281.5" y1="356.5" x2="285" y2="356.5" stroke="#1a1a1a" stroke-width="1"/>
<text x="289.1" y="360.95" font-size="12.7" fill="#1f77b4" dx="0 0.25 0.25 0.25">1000</text>
<line x1="281.5" y1="321.5" x2="285" y2="321.5" stroke="#1a1a1a" stroke-width="1"/>
<text x="289.02" y="325.95" font-size="12.7" fill="#1f77b4" dx="0 0.25 0.25 0.25">2000</text>
<line x1="55.5" y1="395.5" x2="55.5" y2="399" stroke="#1a1a1a" stroke-width="1"/>
<text x="51.98" y="411.9" font-size="12.7" fill="#1a1a1a" dx="0">0</text>
<line x1="106.5" y1="395.5" x2="106.5" y2="399" stroke="#1a1a1a" stroke-width="1"/>
<text x="99.08" y="411.9" font-size="12.7" fill="#1a1a1a" dx="0 0.25">10</text>
<line x1="156.5" y1="395.5" x2="156.5" y2="399" stroke="#1a1a1a" stroke-width="1"/>
<text x="149.25" y="411.9" font-size="12.7" fill="#1a1a1a" dx="0 0.25">20</text>
<line x1="206.5" y1="395.5" x2="206.5" y2="399" stroke="#1a1a1a" stroke-width="1"/>
<text x="199.32" y="411.9" font-size="12.7" fill="#1a1a1a" dx="0 0.25">30</text>
<line x1="256.5" y1="395.5" x2="256.5" y2="399" stroke="#1a1a1a" stroke-width="1"/>
<text x="249.42" y="411.9" font-size="12.7" fill="#1a1a1a" dx="0 0.25">40</text>
<text transform="translate(25.8,346) rotate(-90)" text-anchor="middle" fill="#ff7f0e" font-size="12.8" textLength="62.68" lengthAdjust="spacingAndGlyphs">WNA [deg]</text>
<g transform="translate(334,346) rotate(-90)" fill="#1f77b4"><text x="-22.29" y="0" font-size="12.26">Δ</text><text x="-14.19" y="2.37" font-size="8.53" font-style="italic">d</text><text x="-5.36" y="0" font-size="12.26" textLength="27.65" lengthAdjust="spacingAndGlyphs">[km]</text></g>
<text x="18.25" y="310.5" font-size="13.2" fill="#111111" stroke="#111111" stroke-width="0.1">c</text>
<text x="25.41" y="310.5" font-size="13.2" fill="#111111">)</text>
<line x1="106.5" y1="433.5" x2="106.5" y2="532.5" stroke="#cccccc" stroke-width="1"/>
<line x1="156.5" y1="433.5" x2="156.5" y2="532.5" stroke="#cccccc" stroke-width="1"/>
<line x1="206.5" y1="433.5" x2="206.5" y2="532.5" stroke="#cccccc" stroke-width="1"/>
<line x1="256.5" y1="433.5" x2="256.5" y2="532.5" stroke="#cccccc" stroke-width="1"/>
<line x1="55.5" y1="528.5" x2="281.5" y2="528.5" stroke="#cccccc" stroke-width="1"/>
<line x1="55.5" y1="517.5" x2="281.5" y2="517.5" stroke="#cccccc" stroke-width="1"/>
<line x1="55.5" y1="507.5" x2="281.5" y2="507.5" stroke="#cccccc" stroke-width="1"/>
<line x1="55.5" y1="497.5" x2="281.5" y2="497.5" stroke="#cccccc" stroke-width="1"/>
<line x1="55.5" y1="487.5" x2="281.5" y2="487.5" stroke="#cccccc" stroke-width="1"/>
<line x1="55.5" y1="476.5" x2="281.5" y2="476.5" stroke="#cccccc" stroke-width="1"/>
<line x1="55.5" y1="466.5" x2="281.5" y2="466.5" stroke="#cccccc" stroke-width="1"/>
<line x1="55.5" y1="456.5" x2="281.5" y2="456.5" stroke="#cccccc" stroke-width="1"/>
<line x1="55.5" y1="445.5" x2="281.5" y2="445.5" stroke="#cccccc" stroke-width="1"/>
<line x1="55.5" y1="435.5" x2="281.5" y2="435.5" stroke="#cccccc" stroke-width="1"/>
<clipPath id="cpd"><rect x="55.5" y="433.5" width="226" height="99"/></clipPath>
<g clip-path="url(#cpd)" fill="none" stroke-linejoin="round" stroke-linecap="butt">
<path d="M55.70 528.20 L55.95 527.92 L56.20 527.64 L56.45 527.36 L56.70 527.08 L56.95 526.80 L57.20 526.51 L57.45 526.23 L57.70 525.94 L57.95 525.66 L58.20 525.37 L58.45 525.08 L58.70 524.79 L58.95 524.50 L59.20 524.21 L59.45 523.91 L59.70 523.62 L59.95 523.33 L60.20 523.03 L60.45 522.74 L60.70 522.45 L60.95 522.16 L61.20 521.87 L61.45 521.58 L61.70 521.29 L61.95 520.99 L62.20 520.70 L62.45 520.41 L62.70 520.12 L62.95 519.83 L63.20 519.54 L63.45 519.25 L63.70 518.97 L63.95 518.68 L64.20 518.39 L64.45 518.10 L64.70 517.79 L64.95 517.47 L65.20 517.13 L65.45 516.77 L65.70 516.39 L65.95 516.00 L66.20 515.58 L66.45 515.15 L66.70 514.71 L66.95 514.25 L67.20 513.78 L67.45 513.30 L67.70 512.79 L67.95 512.24 L68.20 511.67 L68.45 511.06 L68.70 510.43 L68.95 509.77 L69.20 509.10 L69.45 508.42 L69.70 507.72 L69.95 506.99 L70.20 506.22 L70.45 505.42 L70.70 504.59 L70.95 503.75 L71.20 502.89 L71.45 502.02 L71.70 501.15 L71.95 500.23 L72.20 499.28 L72.45 498.31 L72.70 497.34 L72.95 496.37 L73.20 495.42 L73.45 494.52 L73.70 493.66 L73.95 492.81 L74.20 491.98 L74.45 491.17 L74.70 490.40 L74.95 489.68 L75.20 489.04 L75.45 488.46 L75.70 487.93 L75.95 487.42 L76.20 486.95 L76.45 486.50 L76.70 486.08 L76.95 485.68 L77.20 485.29 L77.45 484.92 L77.70 484.55 L77.95 484.19 L78.20 483.84 L78.45 483.50 L78.70 483.17 L78.95 482.86 L79.20 482.56 L79.45 482.26 L79.70 481.98 L79.95 481.69 L80.20 481.42 L80.45 481.15 L80.70 480.90 L80.95 480.65 L81.20 480.41 L81.45 480.17 L81.70 479.94 L81.95 479.71 L82.20 479.49 L82.45 479.27 L82.70 479.05 L82.95 478.84 L83.20 478.64 L83.45 478.44 L83.70 478.25 L83.95 478.05 L84.20 477.86 L84.45 477.67 L84.70 477.48 L84.95 477.29 L85.20 477.10 L85.45 476.92 L85.70 476.73 L85.95 476.55 L86.20 476.36 L86.45 476.18 L86.70 476.00 L86.95 475.83 L87.20 475.65 L87.45 475.47 L87.70 475.30 L87.95 475.13 L88.20 474.96 L88.45 474.79 L88.70 474.63 L88.95 474.46 L89.20 474.30 L89.45 474.14 L89.70 473.99 L89.95 473.83 L90.20 473.68 L90.45 473.53 L90.70 473.39 L90.95 473.25 L91.20 473.11 L91.45 472.98 L91.70 472.85 L91.95 472.72 L92.20 472.59 L92.45 472.46 L92.70 472.33 L92.95 472.20 L93.20 472.07 L93.45 471.94 L93.70 471.80 L93.95 471.66 L94.20 471.52 L94.45 471.37 L94.70 471.22 L94.95 471.06 L95.20 470.90 L95.45 470.74 L95.70 470.57 L95.95 470.41 L96.20 470.24 L96.45 470.07 L96.70 469.90 L96.95 469.74 L97.20 469.57 L97.45 469.41 L97.70 469.25 L97.95 469.09 L98.20 468.94 L98.45 468.80 L98.70 468.65 L98.95 468.52 L99.20 468.39 L99.45 468.26 L99.70 468.13 L99.95 468.00 L100.20 467.88 L100.45 467.76 L100.70 467.64 L100.95 467.52 L101.20 467.41 L101.45 467.30 L101.70 467.18 L101.95 467.08 L102.20 466.97 L102.45 466.86 L102.70 466.76 L102.95 466.66 L103.20 466.56 L103.45 466.47 L103.70 466.38 L103.95 466.29 L104.20 466.21 L104.45 466.13 L104.70 466.05 L104.95 465.97 L105.20 465.89 L105.45 465.82 L105.70 465.74 L105.95 465.66 L106.20 465.58 L106.45 465.50 L106.70 465.41 L106.95 465.32 L107.20 465.22 L107.45 465.12 L107.70 465.01 L107.95 464.90 L108.20 464.79 L108.45 464.67 L108.70 464.55 L108.95 464.42 L109.20 464.29 L109.45 464.16 L109.70 464.03 L109.95 463.90 L110.20 463.77 L110.45 463.64 L110.70 463.50 L110.95 463.37 L111.20 463.25 L111.45 463.12 L111.70 463.00 L111.95 462.88 L112.20 462.76 L112.45 462.64 L112.70 462.53 L112.95 462.42 L113.20 462.31 L113.45 462.20 L113.70 462.09 L113.95 461.98 L114.20 461.87 L114.45 461.76 L114.70 461.65 L114.95 461.54 L115.20 461.43 L115.45 461.31 L115.70 461.19 L115.95 461.07 L116.20 460.95 L116.45 460.82 L116.70 460.69 L116.95 460.55 L117.20 460.41 L117.45 460.27 L117.70 460.12 L117.95 459.97 L118.20 459.82 L118.45 459.66 L118.70 459.51 L118.95 459.36 L119.20 459.20 L119.45 459.05 L119.70 458.90 L119.95 458.76 L120.20 458.61 L120.45 458.48 L120.70 458.34 L120.95 458.21 L121.20 458.09 L121.45 457.98 L121.70 457.87 L121.95 457.75 L122.20 457.65 L122.45 457.54 L122.70 457.43 L122.95 457.33 L123.20 457.22 L123.45 457.12 L123.70 457.02 L123.95 456.92 L124.20 456.82 L124.45 456.72 L124.70 456.62 L124.95 456.52 L125.20 456.43 L125.45 456.33 L125.70 456.24 L125.95 456.15 L126.20 456.06 L126.45 455.97 L126.70 455.87 L126.95 455.79 L127.20 455.70 L127.45 455.61 L127.70 455.52 L127.95 455.43 L128.20 455.35 L128.45 455.26 L128.70 455.17 L128.95 455.09 L129.20 455.00 L129.45 454.92 L129.70 454.83 L129.95 454.75 L130.20 454.67 L130.45 454.58 L130.70 454.50 L130.95 454.42 L131.20 454.33 L131.45 454.25 L131.70 454.17 L131.95 454.09 L132.20 454.01 L132.45 453.92 L132.70 453.84 L132.95 453.76 L133.20 453.68 L133.45 453.60 L133.70 453.52 L133.95 453.44 L134.20 453.36 L134.45 453.28 L134.70 453.21 L134.95 453.13 L135.20 453.05 L135.45 452.97 L135.70 452.89 L135.95 452.82 L136.20 452.74 L136.45 452.66 L136.70 452.59 L136.95 452.51 L137.20 452.43 L137.45 452.36 L137.70 452.28 L137.95 452.21 L138.20 452.13 L138.45 452.06 L138.70 451.98 L138.95 451.91 L139.20 451.83 L139.45 451.76 L139.70 451.69 L139.95 451.61 L140.20 451.54 L140.45 451.47 L140.70 451.40 L140.95 451.32 L141.20 451.25 L141.45 451.18 L141.70 451.11 L141.95 451.03 L142.20 450.96 L142.45 450.89 L142.70 450.82 L142.95 450.75 L143.20 450.67 L143.45 450.60 L143.70 450.53 L143.95 450.46 L144.20 450.39 L144.45 450.32 L144.70 450.25 L144.95 450.18 L145.20 450.11 L145.45 450.04 L145.70 449.97 L145.95 449.90 L146.20 449.84 L146.45 449.77 L146.70 449.70 L146.95 449.63 L147.20 449.57 L147.45 449.50 L147.70 449.44 L147.95 449.37 L148.20 449.30 L148.45 449.24 L148.70 449.18 L148.95 449.11 L149.20 449.05 L149.45 448.99 L149.70 448.93 L149.95 448.86 L150.20 448.80 L150.45 448.74 L150.70 448.67 L150.95 448.61 L151.20 448.55 L151.45 448.49 L151.70 448.42 L151.95 448.36 L152.20 448.30 L152.45 448.24 L152.70 448.17 L152.95 448.11 L153.20 448.05 L153.45 447.99 L153.70 447.93 L153.95 447.87 L154.20 447.81 L154.45 447.75 L154.70 447.70 L154.95 447.64 L155.20 447.58 L155.45 447.53 L155.70 447.47 L155.95 447.42 L156.20 447.37 L156.45 447.31 L156.70 447.26 L156.95 447.21 L157.20 447.17 L157.45 447.12 L157.70 447.07 L157.95 447.03 L158.20 446.98 L158.45 446.94 L158.70 446.90 L158.95 446.86 L159.20 446.82 L159.45 446.79 L159.70 446.75 L159.95 446.72 L160.20 446.68 L160.45 446.65 L160.70 446.62 L160.95 446.59 L161.20 446.56 L161.45 446.53 L161.70 446.50 L161.95 446.47 L162.20 446.45 L162.45 446.42 L162.70 446.40 L162.95 446.37 L163.20 446.35 L163.45 446.32 L163.70 446.30 L163.95 446.27 L164.20 446.25 L164.45 446.23 L164.70 446.20 L164.95 446.18 L165.20 446.16 L165.45 446.13 L165.70 446.11 L165.95 446.08 L166.20 446.06 L166.45 446.03 L166.70 446.01 L166.95 445.98 L167.20 445.96 L167.45 445.93 L167.70 445.90 L167.95 445.87 L168.20 445.84 L168.45 445.81 L168.70 445.78 L168.95 445.75 L169.20 445.71 L169.45 445.68 L169.70 445.64 L169.95 445.61 L170.20 445.57 L170.45 445.53 L170.70 445.49 L170.95 445.45 L171.20 445.41 L171.45 445.37 L171.70 445.33 L171.95 445.29 L172.20 445.24 L172.45 445.20 L172.70 445.16 L172.95 445.11 L173.20 445.07 L173.45 445.03 L173.70 444.98 L173.95 444.93 L174.20 444.89 L174.45 444.84 L174.70 444.80 L174.95 444.75 L175.20 444.70 L175.45 444.65 L175.70 444.61 L175.95 444.56 L176.20 444.51 L176.45 444.46 L176.70 444.41 L176.95 444.37 L177.20 444.32 L177.45 444.27 L177.70 444.22 L177.95 444.17 L178.20 444.12 L178.45 444.07 L178.70 444.02 L178.95 443.97 L179.20 443.92 L179.45 443.87 L179.70 443.81 L179.95 443.76 L180.20 443.71 L180.45 443.65 L180.70 443.60 L180.95 443.54 L181.20 443.48 L181.45 443.42 L181.70 443.37 L181.95 443.31 L182.20 443.25 L182.45 443.19 L182.70 443.13 L182.95 443.08 L183.20 443.02 L183.45 442.96 L183.70 442.90 L183.95 442.84 L184.20 442.79 L184.45 442.73 L184.70 442.67 L184.95 442.62 L185.20 442.56 L185.45 442.51 L185.70 442.45 L185.95 442.40 L186.20 442.35 L186.45 442.30 L186.70 442.25 L186.95 442.20 L187.20 442.15 L187.45 442.11 L187.70 442.06 L187.95 442.02 L188.20 441.98 L188.45 441.93 L188.70 441.89 L188.95 441.84 L189.20 441.80 L189.45 441.76 L189.70 441.71 L189.95 441.67 L190.20 441.63 L190.45 441.59 L190.70 441.55 L190.95 441.50 L191.20 441.46 L191.45 441.42 L191.70 441.39 L191.95 441.35 L192.20 441.31 L192.45 441.27 L192.70 441.23 L192.95 441.20 L193.20 441.16 L193.45 441.13 L193.70 441.10 L193.95 441.06 L194.20 441.03 L194.45 441.00 L194.70 440.97 L194.95 440.94 L195.20 440.91 L195.45 440.88 L195.70 440.86 L195.95 440.83 L196.20 440.81 L196.45 440.79 L196.70 440.76 L196.95 440.74 L197.20 440.72 L197.45 440.70 L197.70 440.68 L197.95 440.66 L198.20 440.65 L198.45 440.63 L198.70 440.61 L198.95 440.59 L199.20 440.58 L199.45 440.56 L199.70 440.54 L199.95 440.53 L200.20 440.51 L200.45 440.50 L200.70 440.48 L200.95 440.47 L201.20 440.45 L201.45 440.44 L201.70 440.43 L201.95 440.41 L202.20 440.40 L202.45 440.38 L202.70 440.37 L202.95 440.35 L203.20 440.34 L203.45 440.32 L203.70 440.31 L203.95 440.29 L204.20 440.28 L204.45 440.26 L204.70 440.24 L204.95 440.23 L205.20 440.21 L205.45 440.19 L205.70 440.17 L205.95 440.15 L206.20 440.13 L206.45 440.11 L206.70 440.09 L206.95 440.07 L207.20 440.05 L207.45 440.02 L207.70 440.00 L207.95 439.98 L208.20 439.95 L208.45 439.93 L208.70 439.90 L208.95 439.88 L209.20 439.85 L209.45 439.83 L209.70 439.80 L209.95 439.77 L210.20 439.75 L210.45 439.72 L210.70 439.69 L210.95 439.67 L211.20 439.64 L211.45 439.61 L211.70 439.59 L211.95 439.56 L212.20 439.53 L212.45 439.51 L212.70 439.48 L212.95 439.45 L213.20 439.43 L213.45 439.40 L213.70 439.37 L213.95 439.35 L214.20 439.32 L214.45 439.30 L214.70 439.28 L214.95 439.25 L215.20 439.23 L215.45 439.21 L215.70 439.18 L215.95 439.16 L216.20 439.14 L216.45 439.12 L216.70 439.10 L216.95 439.08 L217.20 439.06 L217.45 439.05 L217.70 439.03 L217.95 439.01 L218.20 439.00 L218.45 438.99 L218.70 438.97 L218.95 438.96 L219.20 438.95 L219.45 438.93 L219.70 438.92 L219.95 438.91 L220.20 438.89 L220.45 438.88 L220.70 438.87 L220.95 438.86 L221.20 438.85 L221.45 438.84 L221.70 438.82 L221.95 438.81 L222.20 438.80 L222.45 438.79 L222.70 438.78 L222.95 438.77 L223.20 438.76 L223.45 438.75 L223.70 438.74 L223.95 438.73 L224.20 438.72 L224.45 438.71 L224.70 438.70 L224.95 438.69 L225.20 438.68 L225.45 438.67 L225.70 438.67 L225.95 438.66 L226.20 438.65 L226.45 438.64 L226.70 438.63 L226.95 438.62 L227.20 438.61 L227.45 438.60 L227.70 438.59 L227.95 438.58 L228.20 438.57 L228.45 438.56 L228.70 438.55 L228.95 438.54 L229.20 438.53 L229.45 438.52 L229.70 438.51 L229.95 438.50 L230.20 438.49 L230.45 438.48 L230.70 438.47 L230.95 438.46 L231.20 438.45 L231.45 438.44 L231.70 438.43 L231.95 438.42 L232.20 438.41 L232.45 438.40 L232.70 438.39 L232.95 438.38 L233.20 438.37 L233.45 438.36 L233.70 438.35 L233.95 438.34 L234.20 438.33 L234.45 438.32 L234.70 438.31 L234.95 438.30 L235.20 438.29 L235.45 438.28 L235.70 438.27 L235.95 438.26 L236.20 438.25 L236.45 438.24 L236.70 438.23 L236.95 438.22 L237.20 438.21 L237.45 438.20 L237.70 438.19 L237.95 438.18 L238.20 438.17 L238.45 438.16 L238.70 438.15 L238.95 438.14 L239.20 438.12 L239.45 438.11 L239.70 438.10 L239.95 438.09 L240.20 438.08 L240.45 438.07 L240.70 438.06 L240.95 438.05 L241.20 438.04 L241.45 438.03 L241.70 438.02 L241.95 438.01 L242.20 437.99 L242.45 437.98 L242.70 437.97 L242.95 437.96 L243.20 437.95 L243.45 437.94 L243.70 437.92 L243.95 437.91 L244.20 437.90 L244.45 437.89 L244.70 437.88 L244.95 437.86 L245.20 437.85 L245.45 437.84 L245.70 437.83 L245.95 437.82 L246.20 437.80 L246.45 437.79 L246.70 437.78 L246.95 437.77 L247.20 437.76 L247.45 437.74 L247.70 437.73 L247.95 437.72 L248.20 437.71 L248.45 437.70 L248.70 437.69 L248.95 437.67 L249.20 437.66 L249.45 437.65 L249.70 437.64 L249.95 437.63 L250.20 437.62 L250.45 437.61 L250.70 437.60 L250.95 437.59 L251.20 437.58 L251.45 437.57 L251.70 437.56 L251.95 437.54 L252.20 437.54 L252.45 437.53 L252.70 437.52 L252.95 437.51 L253.20 437.50 L253.45 437.49 L253.70 437.48 L253.95 437.47 L254.20 437.46 L254.45 437.45 L254.70 437.45 L254.95 437.44 L255.20 437.43 L255.45 437.42 L255.70 437.42 L255.95 437.41 L256.20 437.40 L256.45 437.40 L256.70 437.39 L256.95 437.38 L257.20 437.38 L257.45 437.37 L257.70 437.37 L257.95 437.36 L258.20 437.35 L258.45 437.35 L258.70 437.34 L258.95 437.34 L259.20 437.33 L259.45 437.33 L259.70 437.32 L259.95 437.31 L260.20 437.31 L260.45 437.30 L260.70 437.30 L260.95 437.29 L261.20 437.29 L261.45 437.28 L261.70 437.28 L261.95 437.27 L262.20 437.27 L262.45 437.26 L262.70 437.26 L262.95 437.25 L263.20 437.25 L263.45 437.24 L263.70 437.24 L263.95 437.24 L264.20 437.23 L264.45 437.23 L264.70 437.22 L264.95 437.22 L265.20 437.22 L265.45 437.21 L265.70 437.21 L265.95 437.20 L266.20 437.20 L266.45 437.20 L266.70 437.19 L266.95 437.19 L267.20 437.18 L267.45 437.18 L267.70 437.18 L267.95 437.17 L268.20 437.17 L268.45 437.17 L268.70 437.17 L268.95 437.16 L269.20 437.16 L269.45 437.16 L269.70 437.15 L269.95 437.15 L270.20 437.15 L270.45 437.15 L270.70 437.14 L270.95 437.14 L271.20 437.14 L271.45 437.14 L271.70 437.13 L271.95 437.13 L272.20 437.13 L272.45 437.13 L272.70 437.12 L272.95 437.12 L273.20 437.12 L273.45 437.12 L273.70 437.12 L273.95 437.12 L274.20 437.11 L274.45 437.11 L274.70 437.11 L274.95 437.11 L275.20 437.11 L275.45 437.11 L275.70 437.11 L275.95 437.10 L276.20 437.10 L276.45 437.10 L276.70 437.10 L276.95 437.10 L277.20 437.10 L277.45 437.10 L277.70 437.10 L277.95 437.10 L278.20 437.10 L278.45 437.10 L278.70 437.10 L278.95 437.10 L279.20 437.10 L279.45 437.10 L279.70 437.10 L279.95 437.10 L280.20 437.10 L280.45 437.10 L280.70 437.10 L280.95 437.10 L281.20 437.10 L281.45 437.10 L281.70 437.10 L281.95 437.10 L282.00 437.10" stroke="#ff7f0e" stroke-width="1.65"/>
<path d="M55.70 528.21 L56.00 528.22 L56.30 528.22 L56.60 528.21 L56.90 528.19 L57.20 528.17 L57.50 528.13 L57.80 528.09 L58.10 528.04 L58.40 527.99 L58.70 527.92 L59.00 527.85 L59.30 527.77 L59.60 527.68 L59.90 527.58 L60.20 527.48 L60.50 527.37 L60.80 527.25 L61.10 527.12 L61.40 526.99 L61.70 526.85 L62.00 526.70 L62.30 526.54 L62.60 526.38 L62.90 526.22 L63.20 526.04 L63.50 525.86 L63.80 525.67 L64.10 525.47 L64.40 525.27 L64.70 525.07 L65.00 524.85 L65.30 524.63 L65.60 524.40 L65.90 524.17 L66.20 523.93 L66.50 523.69 L66.80 523.44 L67.10 523.18 L67.40 522.92 L67.70 522.65 L68.00 522.37 L68.30 522.09 L68.60 521.81 L68.90 521.52 L69.20 521.22 L69.50 520.92 L69.80 520.62 L70.10 520.30 L70.40 519.99 L70.70 519.67 L71.00 519.34 L71.30 519.01 L71.60 518.67 L71.90 518.33 L72.20 517.99 L72.50 517.64 L72.80 517.28 L73.10 516.92 L73.40 516.56 L73.70 516.19 L74.00 515.82 L74.30 515.45 L74.60 515.07 L74.90 514.68 L75.20 514.30 L75.50 513.91 L75.80 513.51 L76.10 513.11 L76.40 512.71 L76.70 512.30 L77.00 511.89 L77.30 511.48 L77.60 511.07 L77.90 510.65 L78.20 510.22 L78.50 509.80 L78.80 509.37 L79.10 508.94 L79.40 508.50 L79.70 508.07 L80.00 507.63 L80.30 507.18 L80.60 506.74 L80.90 506.29 L81.20 505.84 L81.50 505.39 L81.80 504.93 L82.10 504.48 L82.40 504.02 L82.70 503.56 L83.00 503.09 L83.30 502.63 L83.60 502.16 L83.90 501.69 L84.20 501.22 L84.50 500.75 L84.80 500.27 L85.10 499.80 L85.40 499.32 L85.70 498.84 L86.00 498.36 L86.30 497.88 L86.60 497.40 L86.90 496.92 L87.20 496.43 L87.50 495.95 L87.80 495.46 L88.10 494.98 L88.40 494.49 L88.70 494.00 L89.00 493.51 L89.30 493.03 L89.60 492.54 L89.90 492.05 L90.20 491.56 L90.50 491.07 L90.80 490.58 L91.10 490.09 L91.40 489.60 L91.70 489.11 L92.00 488.62 L92.30 488.13 L92.60 487.64 L92.90 487.15 L93.20 486.66 L93.50 486.17 L93.80 485.68 L94.10 485.20 L94.40 484.71 L94.70 484.22 L95.00 483.74 L95.30 483.26 L95.60 482.77 L95.90 482.29 L96.20 481.81 L96.50 481.33 L96.80 480.86 L97.10 480.38 L97.40 479.91 L97.70 479.43 L98.00 478.96 L98.30 478.49 L98.60 478.02 L98.90 477.55 L99.20 477.09 L99.50 476.62 L99.80 476.16 L100.10 475.70 L100.40 475.24 L100.70 474.78 L101.00 474.33 L101.30 473.87 L101.60 473.42 L101.90 472.97 L102.20 472.53 L102.50 472.08 L102.80 471.64 L103.10 471.20 L103.40 470.76 L103.70 470.32 L104.00 469.88 L104.30 469.45 L104.60 469.02 L104.90 468.59 L105.20 468.17 L105.50 467.75 L105.80 467.33 L106.10 466.91 L106.40 466.49 L106.70 466.08 L107.00 465.67 L107.30 465.26 L107.60 464.86 L107.90 464.46 L108.20 464.06 L108.50 463.66 L108.80 463.27 L109.10 462.88 L109.40 462.49 L109.70 462.10 L110.00 461.72 L110.30 461.34 L110.60 460.97 L110.90 460.59 L111.20 460.23 L111.50 459.86 L111.80 459.50 L112.10 459.14 L112.40 458.78 L112.70 458.43 L113.00 458.08 L113.30 457.73 L113.60 457.39 L113.90 457.05 L114.20 456.72 L114.50 456.39 L114.80 456.06 L115.10 455.73 L115.40 455.41 L115.70 455.09 L116.00 454.78 L116.30 454.47 L116.60 454.16 L116.90 453.85 L117.20 453.55 L117.50 453.26 L117.80 452.96 L118.10 452.67 L118.40 452.38 L118.70 452.10 L119.00 451.82 L119.30 451.54 L119.60 451.26 L119.90 450.99 L120.20 450.72 L120.50 450.46 L120.80 450.19 L121.10 449.93 L121.40 449.68 L121.70 449.43 L122.00 449.18 L122.30 448.93 L122.60 448.69 L122.90 448.45 L123.20 448.21 L123.50 447.97 L123.80 447.74 L124.10 447.51 L124.40 447.29 L124.70 447.07 L125.00 446.85 L125.30 446.63 L125.60 446.42 L125.90 446.20 L126.20 446.00 L126.50 445.79 L126.80 445.59 L127.10 445.39 L127.40 445.19 L127.70 445.00 L128.00 444.81 L128.30 444.62 L128.60 444.43 L128.90 444.25 L129.20 444.07 L129.50 443.89 L129.80 443.72 L130.10 443.55 L130.40 443.38 L130.70 443.21 L131.00 443.05 L131.30 442.89 L131.60 442.73 L131.90 442.57 L132.20 442.42 L132.50 442.27 L132.80 442.12 L133.10 441.97 L133.40 441.83 L133.70 441.69 L134.00 441.55 L134.30 441.41 L134.60 441.28 L134.90 441.15 L135.20 441.02 L135.50 440.89 L135.80 440.77 L136.10 440.65 L136.40 440.53 L136.70 440.41 L137.00 440.30 L137.30 440.19 L137.60 440.08 L137.90 439.97 L138.20 439.86 L138.50 439.76 L138.80 439.66 L139.10 439.56 L139.40 439.46 L139.70 439.37 L140.00 439.28 L140.30 439.19 L140.60 439.10 L140.90 439.01 L141.20 438.93 L141.50 438.85 L141.80 438.77 L142.10 438.69 L142.40 438.62 L142.70 438.54 L143.00 438.47 L143.30 438.40 L143.60 438.34 L143.90 438.27 L144.20 438.21 L144.50 438.15 L144.80 438.09 L145.10 438.03 L145.40 437.97 L145.70 437.92 L146.00 437.87 L146.30 437.82 L146.60 437.77 L146.90 437.72 L147.20 437.68 L147.50 437.64 L147.80 437.60 L148.10 437.56 L148.40 437.52 L148.70 437.49 L149.00 437.45 L149.30 437.42 L149.60 437.39 L149.90 437.36 L150.20 437.34 L150.50 437.31 L150.80 437.29 L151.10 437.27 L151.40 437.25 L151.70 437.23 L152.00 437.22 L152.30 437.21 L152.60 437.19 L152.90 437.18 L153.20 437.18 L153.50 437.17 L153.80 437.16 L154.10 437.16 L154.40 437.16 L154.70 437.16 L155.00 437.16 L155.30 437.17 L155.60 437.17 L155.90 437.18 L156.20 437.19 L156.50 437.20 L156.80 437.21 L157.10 437.22 L157.40 437.24 L157.70 437.26 L158.00 437.28 L158.30 437.30 L158.60 437.32 L158.90 437.34 L159.20 437.37 L159.50 437.39 L159.80 437.42 L160.10 437.45 L160.40 437.48 L160.70 437.52 L161.00 437.55 L161.30 437.59 L161.60 437.63 L161.90 437.67 L162.20 437.71 L162.50 437.75 L162.80 437.80 L163.10 437.84 L163.40 437.89 L163.70 437.94 L164.00 437.99 L164.30 438.04 L164.60 438.09 L164.90 438.15 L165.20 438.20 L165.50 438.26 L165.80 438.32 L166.10 438.38 L166.40 438.45 L166.70 438.51 L167.00 438.57 L167.30 438.64 L167.60 438.71 L167.90 438.78 L168.20 438.85 L168.50 438.92 L168.80 439.00 L169.10 439.07 L169.40 439.15 L169.70 439.23 L170.00 439.31 L170.30 439.39 L170.60 439.47 L170.90 439.55 L171.20 439.64 L171.50 439.72 L171.80 439.81 L172.10 439.90 L172.40 439.99 L172.70 440.08 L173.00 440.18 L173.30 440.27 L173.60 440.37 L173.90 440.46 L174.20 440.56 L174.50 440.66 L174.80 440.76 L175.10 440.86 L175.40 440.97 L175.70 441.07 L176.00 441.18 L176.30 441.29 L176.60 441.40 L176.90 441.50 L177.20 441.62 L177.50 441.73 L177.80 441.84 L178.10 441.96 L178.40 442.07 L178.70 442.19 L179.00 442.31 L179.30 442.43 L179.60 442.55 L179.90 442.67 L180.20 442.79 L180.50 442.92 L180.80 443.04 L181.10 443.17 L181.40 443.30 L181.70 443.43 L182.00 443.56 L182.30 443.69 L182.60 443.82 L182.90 443.96 L183.20 444.09 L183.50 444.23 L183.80 444.36 L184.10 444.50 L184.40 444.64 L184.70 444.78 L185.00 444.92 L185.30 445.06 L185.60 445.21 L185.90 445.35 L186.20 445.50 L186.50 445.65 L186.80 445.79 L187.10 445.94 L187.40 446.09 L187.70 446.24 L188.00 446.39 L188.30 446.55 L188.60 446.70 L188.90 446.86 L189.20 447.01 L189.50 447.17 L189.80 447.33 L190.10 447.48 L190.40 447.64 L190.70 447.81 L191.00 447.97 L191.30 448.13 L191.60 448.29 L191.90 448.46 L192.20 448.62 L192.50 448.79 L192.80 448.96 L193.10 449.13 L193.40 449.29 L193.70 449.46 L194.00 449.64 L194.30 449.81 L194.60 449.98 L194.90 450.15 L195.20 450.33 L195.50 450.50 L195.80 450.68 L196.10 450.86 L196.40 451.04 L196.70 451.21 L197.00 451.39 L197.30 451.57 L197.60 451.76 L197.90 451.94 L198.20 452.12 L198.50 452.30 L198.80 452.49 L199.10 452.67 L199.40 452.86 L199.70 453.05 L200.00 453.23 L200.30 453.42 L200.60 453.61 L200.90 453.80 L201.20 453.99 L201.50 454.18 L201.80 454.38 L202.10 454.57 L202.40 454.76 L202.70 454.96 L203.00 455.15 L203.30 455.35 L203.60 455.54 L203.90 455.74 L204.20 455.94 L204.50 456.14 L204.80 456.34 L205.10 456.54 L205.40 456.74 L205.70 456.94 L206.00 457.14 L206.30 457.34 L206.60 457.54 L206.90 457.75 L207.20 457.95 L207.50 458.16 L207.80 458.36 L208.10 458.57 L208.40 458.78 L208.70 458.98 L209.00 459.19 L209.30 459.40 L209.60 459.61 L209.90 459.82 L210.20 460.03 L210.50 460.24 L210.80 460.45 L211.10 460.66 L211.40 460.87 L211.70 461.09 L212.00 461.30 L212.30 461.51 L212.60 461.73 L212.90 461.94 L213.20 462.16 L213.50 462.38 L213.80 462.59 L214.10 462.81 L214.40 463.03 L214.70 463.24 L215.00 463.46 L215.30 463.68 L215.60 463.90 L215.90 464.12 L216.20 464.34 L216.50 464.56 L216.80 464.78 L217.10 465.00 L217.40 465.22 L217.70 465.45 L218.00 465.67 L218.30 465.89 L218.60 466.12 L218.90 466.34 L219.20 466.56 L219.50 466.79 L219.80 467.01 L220.10 467.24 L220.40 467.46 L220.70 467.69 L221.00 467.92 L221.30 468.14 L221.60 468.37 L221.90 468.60 L222.20 468.82 L222.50 469.05 L222.80 469.28 L223.10 469.51 L223.40 469.74 L223.70 469.97 L224.00 470.20 L224.30 470.42 L224.60 470.65 L224.90 470.88 L225.20 471.11 L225.50 471.35 L225.80 471.58 L226.10 471.81 L226.40 472.04 L226.70 472.27 L227.00 472.50 L227.30 472.73 L227.60 472.97 L227.90 473.20 L228.20 473.43 L228.50 473.66 L228.80 473.90 L229.10 474.13 L229.40 474.36 L229.70 474.59 L230.00 474.83 L230.30 475.06 L230.60 475.30 L230.90 475.53 L231.20 475.76 L231.50 476.00 L231.80 476.23 L232.10 476.47 L232.40 476.70 L232.70 476.93 L233.00 477.17 L233.30 477.40 L233.60 477.64 L233.90 477.87 L234.20 478.11 L234.50 478.34 L234.80 478.58 L235.10 478.81 L235.40 479.05 L235.70 479.28 L236.00 479.52 L236.30 479.75 L236.60 479.99 L236.90 480.22 L237.20 480.46 L237.50 480.69 L237.80 480.93 L238.10 481.16 L238.40 481.40 L238.70 481.63 L239.00 481.87 L239.30 482.10 L239.60 482.34 L239.90 482.57 L240.20 482.81 L240.50 483.04 L240.80 483.28 L241.10 483.51 L241.40 483.75 L241.70 483.98 L242.00 484.22 L242.30 484.45 L242.60 484.69 L242.90 484.92 L243.20 485.15 L243.50 485.39 L243.80 485.62 L244.10 485.85 L244.40 486.09 L244.70 486.32 L245.00 486.55 L245.30 486.79 L245.60 487.02 L245.90 487.25 L246.20 487.48 L246.50 487.72 L246.80 487.95 L247.10 488.18 L247.40 488.41 L247.70 488.64 L248.00 488.87 L248.30 489.10 L248.60 489.33 L248.90 489.56 L249.20 489.79 L249.50 490.02 L249.80 490.25 L250.10 490.48 L250.40 490.71 L250.70 490.94 L251.00 491.17 L251.30 491.40 L251.60 491.63 L251.90 491.85 L252.20 492.08 L252.50 492.31 L252.80 492.53 L253.10 492.76 L253.40 492.99 L253.70 493.21 L254.00 493.44 L254.30 493.66 L254.60 493.89 L254.90 494.11 L255.20 494.33 L255.50 494.56 L255.80 494.78 L256.10 495.00 L256.40 495.23 L256.70 495.45 L257.00 495.67 L257.30 495.89 L257.60 496.11 L257.90 496.33 L258.20 496.55 L258.50 496.77 L258.80 496.99 L259.10 497.21 L259.40 497.42 L259.70 497.64 L260.00 497.86 L260.30 498.08 L260.60 498.29 L260.90 498.51 L261.20 498.72 L261.50 498.94 L261.80 499.15 L262.10 499.36 L262.40 499.58 L262.70 499.79 L263.00 500.00 L263.30 500.21 L263.60 500.42 L263.90 500.63 L264.20 500.84 L264.50 501.05 L264.80 501.26 L265.10 501.47 L265.40 501.68 L265.70 501.88 L266.00 502.09 L266.30 502.30 L266.60 502.50 L266.90 502.70 L267.20 502.91 L267.50 503.11 L267.80 503.31 L268.10 503.52 L268.40 503.72 L268.70 503.92 L269.00 504.12 L269.30 504.32 L269.60 504.52 L269.90 504.71 L270.20 504.91 L270.50 505.11 L270.80 505.30 L271.10 505.50 L271.40 505.69 L271.70 505.89 L272.00 506.08 L272.30 506.27 L272.60 506.46 L272.90 506.65 L273.20 506.84 L273.50 507.03 L273.80 507.22 L274.10 507.41 L274.40 507.60 L274.70 507.78 L275.00 507.97 L275.30 508.15 L275.60 508.34 L275.90 508.52 L276.20 508.70 L276.50 508.88 L276.80 509.06 L277.10 509.24 L277.40 509.42 L277.70 509.60 L278.00 509.78 L278.30 509.95 L278.60 510.13 L278.90 510.30 L279.20 510.48 L279.50 510.65 L279.80 510.82 L280.10 510.99 L280.40 511.16 L280.70 511.33 L281.00 511.50 L281.30 511.67 L281.60 511.83 L281.90 512.00 L282.00 512.05" stroke="#1f77b4" stroke-width="1.65"/>
</g>
<rect x="55.5" y="433.5" width="226" height="99" fill="none" stroke="#1a1a1a" stroke-width="1"/>
<line x1="52" y1="528.5" x2="55.5" y2="528.5" stroke="#1a1a1a" stroke-width="1"/>
<text x="41.44" y="532.95" font-size="12.7" fill="#ff7f0e" dx="0">0</text>
<line x1="52" y1="517.5" x2="55.5" y2="517.5" stroke="#1a1a1a" stroke-width="1"/>
<text x="34.13" y="521.95" font-size="12.7" fill="#ff7f0e" dx="0 0.25">10</text>
<line x1="52" y1="507.5" x2="55.5" y2="507.5" stroke="#1a1a1a" stroke-width="1"/>
<text x="34.13" y="511.95" font-size="12.7" fill="#ff7f0e" dx="0 0.25">20</text>
<line x1="52" y1="497.5" x2="55.5" y2="497.5" stroke="#1a1a1a" stroke-width="1"/>
<text x="34.13" y="501.95" font-size="12.7" fill="#ff7f0e" dx="0 0.25">30</text>
<line x1="52" y1="487.5" x2="55.5" y2="487.5" stroke="#1a1a1a" stroke-width="1"/>
<text x="34.13" y="491.95" font-size="12.7" fill="#ff7f0e" dx="0 0.25">40</text>
<line x1="52" y1="476.5" x2="55.5" y2="476.5" stroke="#1a1a1a" stroke-width="1"/>
<text x="34.13" y="480.95" font-size="12.7" fill="#ff7f0e" dx="0 0.25">50</text>
<line x1="52" y1="466.5" x2="55.5" y2="466.5" stroke="#1a1a1a" stroke-width="1"/>
<text x="34.13" y="470.95" font-size="12.7" fill="#ff7f0e" dx="0 0.25">60</text>
<line x1="52" y1="456.5" x2="55.5" y2="456.5" stroke="#1a1a1a" stroke-width="1"/>
<text x="34.13" y="460.95" font-size="12.7" fill="#ff7f0e" dx="0 0.25">70</text>
<line x1="52" y1="445.5" x2="55.5" y2="445.5" stroke="#1a1a1a" stroke-width="1"/>
<text x="34.13" y="449.95" font-size="12.7" fill="#ff7f0e" dx="0 0.25">80</text>
<line x1="52" y1="435.5" x2="55.5" y2="435.5" stroke="#1a1a1a" stroke-width="1"/>
<text x="34.13" y="439.95" font-size="12.7" fill="#ff7f0e" dx="0 0.25">90</text>
<line x1="281.5" y1="528.5" x2="285" y2="528.5" stroke="#1a1a1a" stroke-width="1"/>
<text x="289.07" y="532.95" font-size="12.7" fill="#1f77b4" dx="0">0</text>
<line x1="281.5" y1="502.5" x2="285" y2="502.5" stroke="#1a1a1a" stroke-width="1"/>
<text x="289.18" y="506.95" font-size="12.7" fill="#1f77b4" dx="0 0.25 0.25">500</text>
<line x1="281.5" y1="476.5" x2="285" y2="476.5" stroke="#1a1a1a" stroke-width="1"/>
<text x="289.1" y="480.95" font-size="12.7" fill="#1f77b4" dx="0 0.25 0.25 0.25">1000</text>
<line x1="281.5" y1="450.5" x2="285" y2="450.5" stroke="#1a1a1a" stroke-width="1"/>
<text x="289.1" y="454.95" font-size="12.7" fill="#1f77b4" dx="0 0.25 0.25 0.25">1500</text>
<line x1="55.5" y1="532.5" x2="55.5" y2="536" stroke="#1a1a1a" stroke-width="1"/>
<text x="51.98" y="548.9" font-size="12.7" fill="#1a1a1a" dx="0">0</text>
<line x1="106.5" y1="532.5" x2="106.5" y2="536" stroke="#1a1a1a" stroke-width="1"/>
<text x="99.08" y="548.9" font-size="12.7" fill="#1a1a1a" dx="0 0.25">10</text>
<line x1="156.5" y1="532.5" x2="156.5" y2="536" stroke="#1a1a1a" stroke-width="1"/>
<text x="149.25" y="548.9" font-size="12.7" fill="#1a1a1a" dx="0 0.25">20</text>
<line x1="206.5" y1="532.5" x2="206.5" y2="536" stroke="#1a1a1a" stroke-width="1"/>
<text x="199.32" y="548.9" font-size="12.7" fill="#1a1a1a" dx="0 0.25">30</text>
<line x1="256.5" y1="532.5" x2="256.5" y2="536" stroke="#1a1a1a" stroke-width="1"/>
<text x="249.42" y="548.9" font-size="12.7" fill="#1a1a1a" dx="0 0.25">40</text>
<text transform="translate(25.8,483) rotate(-90)" text-anchor="middle" fill="#ff7f0e" font-size="12.8" textLength="62.68" lengthAdjust="spacingAndGlyphs">WNA [deg]</text>
<g transform="translate(334,483) rotate(-90)" fill="#1f77b4"><text x="-22.29" y="0" font-size="12.26">Δ</text><text x="-14.19" y="2.37" font-size="8.53" font-style="italic">d</text><text x="-5.36" y="0" font-size="12.26" textLength="27.65" lengthAdjust="spacingAndGlyphs">[km]</text></g>
<text x="16.45" y="446.1" font-size="13.2" fill="#111111" stroke="#111111" stroke-width="0.1">d</text>
<text x="25.41" y="446.1" font-size="13.2" fill="#111111">)</text>
<line x1="106.5" y1="570.5" x2="106.5" y2="669.5" stroke="#cccccc" stroke-width="1"/>
<line x1="156.5" y1="570.5" x2="156.5" y2="669.5" stroke="#cccccc" stroke-width="1"/>
<line x1="206.5" y1="570.5" x2="206.5" y2="669.5" stroke="#cccccc" stroke-width="1"/>
<line x1="256.5" y1="570.5" x2="256.5" y2="669.5" stroke="#cccccc" stroke-width="1"/>
<line x1="55.5" y1="664.5" x2="281.5" y2="664.5" stroke="#cccccc" stroke-width="1"/>
<line x1="55.5" y1="654.5" x2="281.5" y2="654.5" stroke="#cccccc" stroke-width="1"/>
<line x1="55.5" y1="644.5" x2="281.5" y2="644.5" stroke="#cccccc" stroke-width="1"/>
<line x1="55.5" y1="633.5" x2="281.5" y2="633.5" stroke="#cccccc" stroke-width="1"/>
<line x1="55.5" y1="623.5" x2="281.5" y2="623.5" stroke="#cccccc" stroke-width="1"/>
<line x1="55.5" y1="613.5" x2="281.5" y2="613.5" stroke="#cccccc" stroke-width="1"/>
<line x1="55.5" y1="603.5" x2="281.5" y2="603.5" stroke="#cccccc" stroke-width="1"/>
<line x1="55.5" y1="592.5" x2="281.5" y2="592.5" stroke="#cccccc" stroke-width="1"/>
<line x1="55.5" y1="582.5" x2="281.5" y2="582.5" stroke="#cccccc" stroke-width="1"/>
<line x1="55.5" y1="572.5" x2="281.5" y2="572.5" stroke="#cccccc" stroke-width="1"/>
<clipPath id="cpe"><rect x="55.5" y="570.5" width="226" height="99"/></clipPath>
<g clip-path="url(#cpe)" fill="none" stroke-linejoin="round" stroke-linecap="butt">
<path d="M55.70 664.44 L55.95 664.05 L56.20 663.68 L56.45 663.31 L56.70 662.97 L56.95 662.63 L57.20 662.30 L57.45 661.98 L57.70 661.67 L57.95 661.36 L58.20 661.06 L58.45 660.77 L58.70 660.48 L58.95 660.20 L59.20 659.91 L59.45 659.63 L59.70 659.35 L59.95 659.07 L60.20 658.79 L60.45 658.51 L60.70 658.22 L60.95 657.93 L61.20 657.64 L61.45 657.34 L61.70 657.04 L61.95 656.73 L62.20 656.40 L62.45 656.08 L62.70 655.74 L62.95 655.39 L63.20 655.02 L63.45 654.65 L63.70 654.26 L63.95 653.86 L64.20 653.44 L64.45 653.01 L64.70 652.56 L64.95 652.09 L65.20 651.60 L65.45 651.09 L65.70 650.57 L65.95 650.02 L66.20 649.45 L66.45 648.85 L66.70 648.24 L66.95 647.60 L67.20 646.95 L67.45 646.27 L67.70 645.57 L67.95 644.85 L68.20 644.12 L68.45 643.36 L68.70 642.58 L68.95 641.78 L69.20 640.97 L69.45 640.13 L69.70 639.28 L69.95 638.40 L70.20 637.51 L70.45 636.60 L70.70 635.67 L70.95 634.73 L71.20 633.77 L71.45 632.80 L71.70 631.82 L71.95 630.83 L72.20 629.84 L72.45 628.86 L72.70 627.87 L72.95 626.89 L73.20 625.92 L73.45 624.97 L73.70 624.02 L73.95 623.09 L74.20 622.19 L74.45 621.30 L74.70 620.44 L74.95 619.61 L75.20 618.81 L75.45 618.04 L75.70 617.31 L75.95 616.62 L76.20 615.98 L76.45 615.37 L76.70 614.80 L76.95 614.26 L77.20 613.77 L77.45 613.31 L77.70 612.89 L77.95 612.51 L78.20 612.16 L78.45 611.85 L78.70 611.56 L78.95 611.30 L79.20 611.06 L79.45 610.84 L79.70 610.63 L79.95 610.43 L80.20 610.24 L80.45 610.05 L80.70 609.86 L80.95 609.68 L81.20 609.49 L81.45 609.31 L81.70 609.13 L81.95 608.95 L82.20 608.78 L82.45 608.61 L82.70 608.44 L82.95 608.27 L83.20 608.10 L83.45 607.94 L83.70 607.77 L83.95 607.61 L84.20 607.45 L84.45 607.30 L84.70 607.14 L84.95 606.99 L85.20 606.83 L85.45 606.68 L85.70 606.54 L85.95 606.39 L86.20 606.24 L86.45 606.10 L86.70 605.96 L86.95 605.82 L87.20 605.68 L87.45 605.54 L87.70 605.41 L87.95 605.27 L88.20 605.14 L88.45 605.01 L88.70 604.88 L88.95 604.75 L89.20 604.63 L89.45 604.50 L89.70 604.38 L89.95 604.25 L90.20 604.13 L90.45 604.01 L90.70 603.89 L90.95 603.77 L91.20 603.66 L91.45 603.54 L91.70 603.42 L91.95 603.31 L92.20 603.20 L92.45 603.09 L92.70 602.98 L92.95 602.87 L93.20 602.76 L93.45 602.65 L93.70 602.54 L93.95 602.44 L94.20 602.33 L94.45 602.23 L94.70 602.12 L94.95 602.02 L95.20 601.92 L95.45 601.82 L95.70 601.72 L95.95 601.62 L96.20 601.52 L96.45 601.42 L96.70 601.32 L96.95 601.22 L97.20 601.13 L97.45 601.03 L97.70 600.93 L97.95 600.84 L98.20 600.74 L98.45 600.65 L98.70 600.55 L98.95 600.46 L99.20 600.36 L99.45 600.27 L99.70 600.18 L99.95 600.08 L100.20 599.99 L100.45 599.90 L100.70 599.81 L100.95 599.71 L101.20 599.62 L101.45 599.53 L101.70 599.44 L101.95 599.35 L102.20 599.25 L102.45 599.16 L102.70 599.07 L102.95 598.98 L103.20 598.89 L103.45 598.79 L103.70 598.70 L103.95 598.61 L104.20 598.52 L104.45 598.43 L104.70 598.34 L104.95 598.24 L105.20 598.15 L105.45 598.06 L105.70 597.97 L105.95 597.88 L106.20 597.78 L106.45 597.69 L106.70 597.60 L106.95 597.51 L107.20 597.42 L107.45 597.33 L107.70 597.23 L107.95 597.14 L108.20 597.05 L108.45 596.96 L108.70 596.87 L108.95 596.78 L109.20 596.69 L109.45 596.60 L109.70 596.51 L109.95 596.41 L110.20 596.32 L110.45 596.23 L110.70 596.14 L110.95 596.05 L111.20 595.96 L111.45 595.87 L111.70 595.78 L111.95 595.69 L112.20 595.60 L112.45 595.51 L112.70 595.42 L112.95 595.33 L113.20 595.24 L113.45 595.15 L113.70 595.06 L113.95 594.97 L114.20 594.88 L114.45 594.79 L114.70 594.70 L114.95 594.61 L115.20 594.53 L115.45 594.44 L115.70 594.35 L115.95 594.26 L116.20 594.17 L116.45 594.08 L116.70 593.99 L116.95 593.91 L117.20 593.82 L117.45 593.73 L117.70 593.64 L117.95 593.56 L118.20 593.47 L118.45 593.38 L118.70 593.29 L118.95 593.21 L119.20 593.12 L119.45 593.03 L119.70 592.95 L119.95 592.86 L120.20 592.78 L120.45 592.69 L120.70 592.60 L120.95 592.52 L121.20 592.43 L121.45 592.35 L121.70 592.26 L121.95 592.18 L122.20 592.09 L122.45 592.01 L122.70 591.92 L122.95 591.84 L123.20 591.76 L123.45 591.67 L123.70 591.59 L123.95 591.51 L124.20 591.42 L124.45 591.34 L124.70 591.26 L124.95 591.18 L125.20 591.09 L125.45 591.01 L125.70 590.93 L125.95 590.85 L126.20 590.77 L126.45 590.69 L126.70 590.61 L126.95 590.52 L127.20 590.44 L127.45 590.36 L127.70 590.28 L127.95 590.20 L128.20 590.13 L128.45 590.05 L128.70 589.97 L128.95 589.89 L129.20 589.81 L129.45 589.73 L129.70 589.65 L129.95 589.58 L130.20 589.50 L130.45 589.42 L130.70 589.34 L130.95 589.27 L131.20 589.19 L131.45 589.12 L131.70 589.04 L131.95 588.96 L132.20 588.89 L132.45 588.81 L132.70 588.74 L132.95 588.67 L133.20 588.59 L133.45 588.52 L133.70 588.44 L133.95 588.37 L134.20 588.30 L134.45 588.23 L134.70 588.15 L134.95 588.08 L135.20 588.01 L135.45 587.94 L135.70 587.87 L135.95 587.80 L136.20 587.73 L136.45 587.66 L136.70 587.59 L136.95 587.52 L137.20 587.45 L137.45 587.38 L137.70 587.31 L137.95 587.24 L138.20 587.17 L138.45 587.11 L138.70 587.04 L138.95 586.97 L139.20 586.91 L139.45 586.84 L139.70 586.77 L139.95 586.71 L140.20 586.64 L140.45 586.58 L140.70 586.51 L140.95 586.45 L141.20 586.38 L141.45 586.32 L141.70 586.26 L141.95 586.19 L142.20 586.13 L142.45 586.07 L142.70 586.00 L142.95 585.94 L143.20 585.88 L143.45 585.82 L143.70 585.76 L143.95 585.70 L144.20 585.63 L144.45 585.57 L144.70 585.51 L144.95 585.45 L145.20 585.39 L145.45 585.33 L145.70 585.28 L145.95 585.22 L146.20 585.16 L146.45 585.10 L146.70 585.04 L146.95 584.98 L147.20 584.93 L147.45 584.87 L147.70 584.81 L147.95 584.75 L148.20 584.70 L148.45 584.64 L148.70 584.59 L148.95 584.53 L149.20 584.47 L149.45 584.42 L149.70 584.36 L149.95 584.31 L150.20 584.25 L150.45 584.20 L150.70 584.15 L150.95 584.09 L151.20 584.04 L151.45 583.99 L151.70 583.93 L151.95 583.88 L152.20 583.83 L152.45 583.78 L152.70 583.72 L152.95 583.67 L153.20 583.62 L153.45 583.57 L153.70 583.52 L153.95 583.47 L154.20 583.42 L154.45 583.37 L154.70 583.32 L154.95 583.27 L155.20 583.22 L155.45 583.17 L155.70 583.12 L155.95 583.07 L156.20 583.02 L156.45 582.97 L156.70 582.92 L156.95 582.88 L157.20 582.83 L157.45 582.78 L157.70 582.73 L157.95 582.69 L158.20 582.64 L158.45 582.59 L158.70 582.55 L158.95 582.50 L159.20 582.45 L159.45 582.41 L159.70 582.36 L159.95 582.32 L160.20 582.27 L160.45 582.23 L160.70 582.18 L160.95 582.14 L161.20 582.09 L161.45 582.05 L161.70 582.00 L161.95 581.96 L162.20 581.92 L162.45 581.87 L162.70 581.83 L162.95 581.79 L163.20 581.75 L163.45 581.70 L163.70 581.66 L163.95 581.62 L164.20 581.58 L164.45 581.53 L164.70 581.49 L164.95 581.45 L165.20 581.41 L165.45 581.37 L165.70 581.33 L165.95 581.29 L166.20 581.25 L166.45 581.21 L166.70 581.17 L166.95 581.13 L167.20 581.09 L167.45 581.05 L167.70 581.01 L167.95 580.97 L168.20 580.93 L168.45 580.89 L168.70 580.85 L168.95 580.82 L169.20 580.78 L169.45 580.74 L169.70 580.70 L169.95 580.66 L170.20 580.63 L170.45 580.59 L170.70 580.55 L170.95 580.51 L171.20 580.48 L171.45 580.44 L171.70 580.40 L171.95 580.37 L172.20 580.33 L172.45 580.29 L172.70 580.26 L172.95 580.22 L173.20 580.19 L173.45 580.15 L173.70 580.12 L173.95 580.08 L174.20 580.05 L174.45 580.01 L174.70 579.98 L174.95 579.94 L175.20 579.91 L175.45 579.87 L175.70 579.84 L175.95 579.80 L176.20 579.77 L176.45 579.74 L176.70 579.70 L176.95 579.67 L177.20 579.64 L177.45 579.60 L177.70 579.57 L177.95 579.54 L178.20 579.51 L178.45 579.47 L178.70 579.44 L178.95 579.41 L179.20 579.38 L179.45 579.34 L179.70 579.31 L179.95 579.28 L180.20 579.25 L180.45 579.22 L180.70 579.19 L180.95 579.16 L181.20 579.12 L181.45 579.09 L181.70 579.06 L181.95 579.03 L182.20 579.00 L182.45 578.97 L182.70 578.94 L182.95 578.91 L183.20 578.88 L183.45 578.85 L183.70 578.82 L183.95 578.79 L184.20 578.76 L184.45 578.73 L184.70 578.70 L184.95 578.68 L185.20 578.65 L185.45 578.62 L185.70 578.59 L185.95 578.56 L186.20 578.53 L186.45 578.50 L186.70 578.48 L186.95 578.45 L187.20 578.42 L187.45 578.39 L187.70 578.37 L187.95 578.34 L188.20 578.31 L188.45 578.28 L188.70 578.26 L188.95 578.23 L189.20 578.20 L189.45 578.18 L189.70 578.15 L189.95 578.12 L190.20 578.10 L190.45 578.07 L190.70 578.05 L190.95 578.02 L191.20 577.99 L191.45 577.97 L191.70 577.94 L191.95 577.92 L192.20 577.89 L192.45 577.87 L192.70 577.84 L192.95 577.82 L193.20 577.79 L193.45 577.77 L193.70 577.74 L193.95 577.72 L194.20 577.70 L194.45 577.67 L194.70 577.65 L194.95 577.62 L195.20 577.60 L195.45 577.58 L195.70 577.55 L195.95 577.53 L196.20 577.51 L196.45 577.48 L196.70 577.46 L196.95 577.44 L197.20 577.42 L197.45 577.39 L197.70 577.37 L197.95 577.35 L198.20 577.33 L198.45 577.30 L198.70 577.28 L198.95 577.26 L199.20 577.24 L199.45 577.22 L199.70 577.19 L199.95 577.17 L200.20 577.15 L200.45 577.13 L200.70 577.11 L200.95 577.09 L201.20 577.07 L201.45 577.05 L201.70 577.03 L201.95 577.01 L202.20 576.98 L202.45 576.96 L202.70 576.94 L202.95 576.92 L203.20 576.90 L203.45 576.88 L203.70 576.86 L203.95 576.84 L204.20 576.83 L204.45 576.81 L204.70 576.79 L204.95 576.77 L205.20 576.75 L205.45 576.73 L205.70 576.71 L205.95 576.69 L206.20 576.67 L206.45 576.65 L206.70 576.64 L206.95 576.62 L207.20 576.60 L207.45 576.58 L207.70 576.56 L207.95 576.54 L208.20 576.53 L208.45 576.51 L208.70 576.49 L208.95 576.47 L209.20 576.46 L209.45 576.44 L209.70 576.42 L209.95 576.40 L210.20 576.39 L210.45 576.37 L210.70 576.35 L210.95 576.34 L211.20 576.32 L211.45 576.30 L211.70 576.29 L211.95 576.27 L212.20 576.25 L212.45 576.24 L212.70 576.22 L212.95 576.21 L213.20 576.19 L213.45 576.18 L213.70 576.16 L213.95 576.14 L214.20 576.13 L214.45 576.11 L214.70 576.10 L214.95 576.08 L215.20 576.07 L215.45 576.05 L215.70 576.04 L215.95 576.02 L216.20 576.01 L216.45 575.99 L216.70 575.98 L216.95 575.96 L217.20 575.95 L217.45 575.94 L217.70 575.92 L217.95 575.91 L218.20 575.89 L218.45 575.88 L218.70 575.87 L218.95 575.85 L219.20 575.84 L219.45 575.83 L219.70 575.81 L219.95 575.80 L220.20 575.79 L220.45 575.77 L220.70 575.76 L220.95 575.75 L221.20 575.73 L221.45 575.72 L221.70 575.71 L221.95 575.70 L222.20 575.68 L222.45 575.67 L222.70 575.66 L222.95 575.65 L223.20 575.63 L223.45 575.62 L223.70 575.61 L223.95 575.60 L224.20 575.59 L224.45 575.57 L224.70 575.56 L224.95 575.55 L225.20 575.54 L225.45 575.53 L225.70 575.52 L225.95 575.50 L226.20 575.49 L226.45 575.48 L226.70 575.47 L226.95 575.46 L227.20 575.45 L227.45 575.44 L227.70 575.43 L227.95 575.42 L228.20 575.41 L228.45 575.40 L228.70 575.39 L228.95 575.37 L229.20 575.36 L229.45 575.35 L229.70 575.34 L229.95 575.33 L230.20 575.32 L230.45 575.31 L230.70 575.30 L230.95 575.29 L231.20 575.28 L231.45 575.28 L231.70 575.27 L231.95 575.26 L232.20 575.25 L232.45 575.24 L232.70 575.23 L232.95 575.22 L233.20 575.21 L233.45 575.20 L233.70 575.19 L233.95 575.18 L234.20 575.17 L234.45 575.17 L234.70 575.16 L234.95 575.15 L235.20 575.14 L235.45 575.13 L235.70 575.12 L235.95 575.11 L236.20 575.11 L236.45 575.10 L236.70 575.09 L236.95 575.08 L237.20 575.07 L237.45 575.07 L237.70 575.06 L237.95 575.05 L238.20 575.04 L238.45 575.03 L238.70 575.03 L238.95 575.02 L239.20 575.01 L239.45 575.00 L239.70 575.00 L239.95 574.99 L240.20 574.98 L240.45 574.98 L240.70 574.97 L240.95 574.96 L241.20 574.95 L241.45 574.95 L241.70 574.94 L241.95 574.93 L242.20 574.93 L242.45 574.92 L242.70 574.91 L242.95 574.91 L243.20 574.90 L243.45 574.89 L243.70 574.89 L243.95 574.88 L244.20 574.87 L244.45 574.87 L244.70 574.86 L244.95 574.86 L245.20 574.85 L245.45 574.84 L245.70 574.84 L245.95 574.83 L246.20 574.83 L246.45 574.82 L246.70 574.82 L246.95 574.81 L247.20 574.80 L247.45 574.80 L247.70 574.79 L247.95 574.79 L248.20 574.78 L248.45 574.78 L248.70 574.77 L248.95 574.77 L249.20 574.76 L249.45 574.76 L249.70 574.75 L249.95 574.75 L250.20 574.74 L250.45 574.74 L250.70 574.73 L250.95 574.73 L251.20 574.72 L251.45 574.72 L251.70 574.71 L251.95 574.71 L252.20 574.70 L252.45 574.70 L252.70 574.69 L252.95 574.69 L253.20 574.68 L253.45 574.68 L253.70 574.67 L253.95 574.67 L254.20 574.67 L254.45 574.66 L254.70 574.66 L254.95 574.65 L255.20 574.65 L255.45 574.65 L255.70 574.64 L255.95 574.64 L256.20 574.63 L256.45 574.63 L256.70 574.63 L256.95 574.62 L257.20 574.62 L257.45 574.61 L257.70 574.61 L257.95 574.61 L258.20 574.60 L258.45 574.60 L258.70 574.60 L258.95 574.59 L259.20 574.59 L259.45 574.59 L259.70 574.58 L259.95 574.58 L260.20 574.58 L260.45 574.57 L260.70 574.57 L260.95 574.57 L261.20 574.56 L261.45 574.56 L261.70 574.56 L261.95 574.55 L262.20 574.55 L262.45 574.55 L262.70 574.54 L262.95 574.54 L263.20 574.54 L263.45 574.53 L263.70 574.53 L263.95 574.53 L264.20 574.53 L264.45 574.52 L264.70 574.52 L264.95 574.52 L265.20 574.52 L265.45 574.51 L265.70 574.51 L265.95 574.51 L266.20 574.50 L266.45 574.50 L266.70 574.50 L266.95 574.50 L267.20 574.49 L267.45 574.49 L267.70 574.49 L267.95 574.49 L268.20 574.49 L268.45 574.48 L268.70 574.48 L268.95 574.48 L269.20 574.48 L269.45 574.47 L269.70 574.47 L269.95 574.47 L270.20 574.47 L270.45 574.46 L270.70 574.46 L270.95 574.46 L271.20 574.46 L271.45 574.46 L271.70 574.45 L271.95 574.45 L272.20 574.45 L272.45 574.45 L272.70 574.45 L272.95 574.44 L273.20 574.44 L273.45 574.44 L273.70 574.44 L273.95 574.44 L274.20 574.43 L274.45 574.43 L274.70 574.43 L274.95 574.43 L275.20 574.43 L275.40 574.43" stroke="#ff7f0e" stroke-width="1.65"/>
<path d="M55.70 665.08 L56.20 665.16 L56.70 665.19 L57.20 665.19 L57.70 665.16 L58.20 665.09 L58.70 664.98 L59.20 664.85 L59.70 664.68 L60.20 664.47 L60.70 664.24 L61.20 663.97 L61.70 663.68 L62.20 663.36 L62.70 663.00 L63.20 662.62 L63.70 662.21 L64.20 661.78 L64.70 661.32 L65.20 660.83 L65.70 660.32 L66.20 659.79 L66.70 659.23 L67.20 658.65 L67.70 658.05 L68.20 657.43 L68.70 656.78 L69.20 656.12 L69.70 655.44 L70.20 654.74 L70.70 654.02 L71.20 653.29 L71.70 652.54 L72.20 651.77 L72.70 650.99 L73.20 650.19 L73.70 649.38 L74.20 648.56 L74.70 647.73 L75.20 646.88 L75.70 646.03 L76.20 645.16 L76.70 644.29 L77.20 643.40 L77.70 642.51 L78.20 641.61 L78.70 640.71 L79.20 639.79 L79.70 638.88 L80.20 637.96 L80.70 637.03 L81.20 636.10 L81.70 635.17 L82.20 634.24 L82.70 633.31 L83.20 632.37 L83.70 631.44 L84.20 630.51 L84.70 629.58 L85.20 628.65 L85.70 627.72 L86.20 626.80 L86.70 625.89 L87.20 624.97 L87.70 624.07 L88.20 623.17 L88.70 622.28 L89.20 621.39 L89.70 620.52 L90.20 619.65 L90.70 618.80 L91.20 617.95 L91.70 617.11 L92.20 616.29 L92.70 615.47 L93.20 614.66 L93.70 613.86 L94.20 613.07 L94.70 612.29 L95.20 611.52 L95.70 610.75 L96.20 610.00 L96.70 609.25 L97.20 608.52 L97.70 607.79 L98.20 607.08 L98.70 606.37 L99.20 605.67 L99.70 604.98 L100.20 604.30 L100.70 603.63 L101.20 602.96 L101.70 602.31 L102.20 601.66 L102.70 601.02 L103.20 600.40 L103.70 599.78 L104.20 599.16 L104.70 598.56 L105.20 597.97 L105.70 597.38 L106.20 596.80 L106.70 596.24 L107.20 595.67 L107.70 595.12 L108.20 594.58 L108.70 594.04 L109.20 593.52 L109.70 593.00 L110.20 592.48 L110.70 591.98 L111.20 591.49 L111.70 591.00 L112.20 590.52 L112.70 590.05 L113.20 589.59 L113.70 589.13 L114.20 588.69 L114.70 588.25 L115.20 587.81 L115.70 587.39 L116.20 586.98 L116.70 586.57 L117.20 586.17 L117.70 585.77 L118.20 585.39 L118.70 585.01 L119.20 584.64 L119.70 584.28 L120.20 583.92 L120.70 583.57 L121.20 583.23 L121.70 582.90 L122.20 582.57 L122.70 582.25 L123.20 581.94 L123.70 581.64 L124.20 581.34 L124.70 581.05 L125.20 580.77 L125.70 580.49 L126.20 580.22 L126.70 579.96 L127.20 579.70 L127.70 579.45 L128.20 579.21 L128.70 578.98 L129.20 578.75 L129.70 578.53 L130.20 578.31 L130.70 578.11 L131.20 577.90 L131.70 577.71 L132.20 577.52 L132.70 577.34 L133.20 577.16 L133.70 577.00 L134.20 576.83 L134.70 576.68 L135.20 576.53 L135.70 576.39 L136.20 576.25 L136.70 576.12 L137.20 575.99 L137.70 575.87 L138.20 575.76 L138.70 575.66 L139.20 575.56 L139.70 575.46 L140.20 575.37 L140.70 575.29 L141.20 575.21 L141.70 575.14 L142.20 575.08 L142.70 575.02 L143.20 574.97 L143.70 574.92 L144.20 574.88 L144.70 574.84 L145.20 574.81 L145.70 574.79 L146.20 574.77 L146.70 574.76 L147.20 574.75 L147.70 574.75 L148.20 574.75 L148.70 574.76 L149.20 574.77 L149.70 574.79 L150.20 574.81 L150.70 574.84 L151.20 574.88 L151.70 574.92 L152.20 574.97 L152.70 575.02 L153.20 575.07 L153.70 575.13 L154.20 575.20 L154.70 575.27 L155.20 575.34 L155.70 575.42 L156.20 575.51 L156.70 575.60 L157.20 575.70 L157.70 575.80 L158.20 575.90 L158.70 576.01 L159.20 576.12 L159.70 576.24 L160.20 576.37 L160.70 576.49 L161.20 576.63 L161.70 576.76 L162.20 576.90 L162.70 577.05 L163.20 577.20 L163.70 577.36 L164.20 577.52 L164.70 577.68 L165.20 577.85 L165.70 578.02 L166.20 578.19 L166.70 578.38 L167.20 578.56 L167.70 578.75 L168.20 578.94 L168.70 579.14 L169.20 579.34 L169.70 579.54 L170.20 579.75 L170.70 579.96 L171.20 580.18 L171.70 580.40 L172.20 580.63 L172.70 580.85 L173.20 581.09 L173.70 581.32 L174.20 581.56 L174.70 581.80 L175.20 582.05 L175.70 582.30 L176.20 582.55 L176.70 582.81 L177.20 583.07 L177.70 583.33 L178.20 583.60 L178.70 583.87 L179.20 584.14 L179.70 584.42 L180.20 584.70 L180.70 584.98 L181.20 585.27 L181.70 585.56 L182.20 585.85 L182.70 586.15 L183.20 586.45 L183.70 586.75 L184.20 587.06 L184.70 587.37 L185.20 587.68 L185.70 587.99 L186.20 588.31 L186.70 588.63 L187.20 588.95 L187.70 589.27 L188.20 589.60 L188.70 589.93 L189.20 590.27 L189.70 590.60 L190.20 590.94 L190.70 591.28 L191.20 591.62 L191.70 591.97 L192.20 592.32 L192.70 592.67 L193.20 593.02 L193.70 593.38 L194.20 593.73 L194.70 594.09 L195.20 594.46 L195.70 594.82 L196.20 595.19 L196.70 595.56 L197.20 595.93 L197.70 596.30 L198.20 596.67 L198.70 597.05 L199.20 597.43 L199.70 597.81 L200.20 598.19 L200.70 598.58 L201.20 598.96 L201.70 599.35 L202.20 599.74 L202.70 600.13 L203.20 600.53 L203.70 600.92 L204.20 601.32 L204.70 601.72 L205.20 602.12 L205.70 602.52 L206.20 602.92 L206.70 603.32 L207.20 603.73 L207.70 604.14 L208.20 604.54 L208.70 604.95 L209.20 605.37 L209.70 605.78 L210.20 606.19 L210.70 606.61 L211.20 607.02 L211.70 607.44 L212.20 607.85 L212.70 608.27 L213.20 608.69 L213.70 609.11 L214.20 609.54 L214.70 609.96 L215.20 610.38 L215.70 610.81 L216.20 611.23 L216.70 611.66 L217.20 612.08 L217.70 612.51 L218.20 612.94 L218.70 613.37 L219.20 613.80 L219.70 614.23 L220.20 614.66 L220.70 615.09 L221.20 615.52 L221.70 615.95 L222.20 616.38 L222.70 616.81 L223.20 617.25 L223.70 617.68 L224.20 618.11 L224.70 618.55 L225.20 618.98 L225.70 619.41 L226.20 619.85 L226.70 620.28 L227.20 620.72 L227.70 621.15 L228.20 621.58 L228.70 622.02 L229.20 622.45 L229.70 622.89 L230.20 623.32 L230.70 623.75 L231.20 624.19 L231.70 624.62 L232.20 625.05 L232.70 625.48 L233.20 625.91 L233.70 626.35 L234.20 626.78 L234.70 627.21 L235.20 627.64 L235.70 628.07 L236.20 628.50 L236.70 628.92 L237.20 629.35 L237.70 629.78 L238.20 630.21 L238.70 630.63 L239.20 631.06 L239.70 631.48 L240.20 631.90 L240.70 632.33 L241.20 632.75 L241.70 633.17 L242.20 633.59 L242.70 634.01 L243.20 634.42 L243.70 634.84 L244.20 635.25 L244.70 635.67 L245.20 636.08 L245.70 636.49 L246.20 636.90 L246.70 637.31 L247.20 637.72 L247.70 638.13 L248.20 638.53 L248.70 638.94 L249.20 639.34 L249.70 639.74 L250.20 640.14 L250.70 640.54 L251.20 640.93 L251.70 641.33 L252.20 641.72 L252.70 642.11 L253.20 642.50 L253.70 642.89 L254.20 643.27 L254.70 643.66 L255.20 644.04 L255.70 644.42 L256.20 644.80 L256.70 645.17 L257.20 645.55 L257.70 645.92 L258.20 646.29 L258.70 646.66 L259.20 647.02 L259.70 647.39 L260.20 647.75 L260.70 648.11 L261.20 648.46 L261.70 648.82 L262.20 649.17 L262.70 649.52 L263.20 649.87 L263.70 650.21 L264.20 650.56 L264.70 650.90 L265.20 651.23 L265.70 651.57 L266.20 651.90 L266.70 652.23 L267.20 652.56 L267.70 652.88 L268.20 653.20 L268.70 653.52 L269.20 653.84 L269.70 654.15 L270.20 654.46 L270.70 654.77 L271.20 655.07 L271.70 655.37 L272.20 655.67 L272.70 655.97 L273.20 656.26 L273.70 656.55 L274.20 656.83 L274.70 657.12 L275.20 657.40 L275.40 657.51" stroke="#1f77b4" stroke-width="1.65"/>
</g>
<rect x="55.5" y="570.5" width="226" height="99" fill="none" stroke="#1a1a1a" stroke-width="1"/>
<line x1="52" y1="664.5" x2="55.5" y2="664.5" stroke="#1a1a1a" stroke-width="1"/>
<text x="41.44" y="668.95" font-size="12.7" fill="#ff7f0e" dx="0">0</text>
<line x1="52" y1="654.5" x2="55.5" y2="654.5" stroke="#1a1a1a" stroke-width="1"/>
<text x="34.13" y="658.95" font-size="12.7" fill="#ff7f0e" dx="0 0.25">10</text>
<line x1="52" y1="644.5" x2="55.5" y2="644.5" stroke="#1a1a1a" stroke-width="1"/>
<text x="34.13" y="648.95" font-size="12.7" fill="#ff7f0e" dx="0 0.25">20</text>
<line x1="52" y1="633.5" x2="55.5" y2="633.5" stroke="#1a1a1a" stroke-width="1"/>
<text x="34.13" y="637.95" font-size="12.7" fill="#ff7f0e" dx="0 0.25">30</text>
<line x1="52" y1="623.5" x2="55.5" y2="623.5" stroke="#1a1a1a" stroke-width="1"/>
<text x="34.13" y="627.95" font-size="12.7" fill="#ff7f0e" dx="0 0.25">40</text>
<line x1="52" y1="613.5" x2="55.5" y2="613.5" stroke="#1a1a1a" stroke-width="1"/>
<text x="34.13" y="617.95" font-size="12.7" fill="#ff7f0e" dx="0 0.25">50</text>
<line x1="52" y1="603.5" x2="55.5" y2="603.5" stroke="#1a1a1a" stroke-width="1"/>
<text x="34.13" y="607.95" font-size="12.7" fill="#ff7f0e" dx="0 0.25">60</text>
<line x1="52" y1="592.5" x2="55.5" y2="592.5" stroke="#1a1a1a" stroke-width="1"/>
<text x="34.13" y="596.95" font-size="12.7" fill="#ff7f0e" dx="0 0.25">70</text>
<line x1="52" y1="582.5" x2="55.5" y2="582.5" stroke="#1a1a1a" stroke-width="1"/>
<text x="34.13" y="586.95" font-size="12.7" fill="#ff7f0e" dx="0 0.25">80</text>
<line x1="52" y1="572.5" x2="55.5" y2="572.5" stroke="#1a1a1a" stroke-width="1"/>
<text x="34.13" y="576.95" font-size="12.7" fill="#ff7f0e" dx="0 0.25">90</text>
<line x1="281.5" y1="664.5" x2="285" y2="664.5" stroke="#1a1a1a" stroke-width="1"/>
<text x="289.07" y="668.95" font-size="12.7" fill="#1f77b4" dx="0">0</text>
<line x1="281.5" y1="633.5" x2="285" y2="633.5" stroke="#1a1a1a" stroke-width="1"/>
<text x="289.18" y="637.95" font-size="12.7" fill="#1f77b4" dx="0 0.25 0.25">500</text>
<line x1="281.5" y1="602.5" x2="285" y2="602.5" stroke="#1a1a1a" stroke-width="1"/>
<text x="289.1" y="606.95" font-size="12.7" fill="#1f77b4" dx="0 0.25 0.25 0.25">1000</text>
<line x1="281.5" y1="571.5" x2="285" y2="571.5" stroke="#1a1a1a" stroke-width="1"/>
<text x="289.1" y="575.95" font-size="12.7" fill="#1f77b4" dx="0 0.25 0.25 0.25">1500</text>
<line x1="55.5" y1="669.5" x2="55.5" y2="673" stroke="#1a1a1a" stroke-width="1"/>
<text x="51.98" y="685.9" font-size="12.7" fill="#1a1a1a" dx="0">0</text>
<line x1="106.5" y1="669.5" x2="106.5" y2="673" stroke="#1a1a1a" stroke-width="1"/>
<text x="99.08" y="685.9" font-size="12.7" fill="#1a1a1a" dx="0 0.25">10</text>
<line x1="156.5" y1="669.5" x2="156.5" y2="673" stroke="#1a1a1a" stroke-width="1"/>
<text x="149.25" y="685.9" font-size="12.7" fill="#1a1a1a" dx="0 0.25">20</text>
<line x1="206.5" y1="669.5" x2="206.5" y2="673" stroke="#1a1a1a" stroke-width="1"/>
<text x="199.32" y="685.9" font-size="12.7" fill="#1a1a1a" dx="0 0.25">30</text>
<line x1="256.5" y1="669.5" x2="256.5" y2="673" stroke="#1a1a1a" stroke-width="1"/>
<text x="249.42" y="685.9" font-size="12.7" fill="#1a1a1a" dx="0 0.25">40</text>
<text transform="translate(25.8,620) rotate(-90)" text-anchor="middle" fill="#ff7f0e" font-size="12.8" textLength="62.68" lengthAdjust="spacingAndGlyphs">WNA [deg]</text>
<g transform="translate(334,620) rotate(-90)" fill="#1f77b4"><text x="-22.29" y="0" font-size="12.26">Δ</text><text x="-14.19" y="2.37" font-size="8.53" font-style="italic">d</text><text x="-5.36" y="0" font-size="12.26" textLength="27.65" lengthAdjust="spacingAndGlyphs">[km]</text></g>
<text x="16.65" y="581.8" font-size="13.2" fill="#111111" stroke="#111111" stroke-width="0.1">e</text>
<text x="25.21" y="581.8" font-size="13.2" fill="#111111">)</text>
<line x1="451.51" y1="21.5" x2="451.51" y2="123.4" stroke="#cccccc" stroke-width="1"/>
<line x1="499.27" y1="21.5" x2="499.27" y2="123.4" stroke="#cccccc" stroke-width="1"/>
<line x1="547.03" y1="21.5" x2="547.03" y2="123.4" stroke="#cccccc" stroke-width="1"/>
<line x1="594.79" y1="21.5" x2="594.79" y2="123.4" stroke="#cccccc" stroke-width="1"/>
<line x1="403.4" y1="119.3" x2="618.9" y2="119.3" stroke="#cccccc" stroke-width="1"/>
<line x1="403.4" y1="97.2" x2="618.9" y2="97.2" stroke="#cccccc" stroke-width="1"/>
<line x1="403.4" y1="75.1" x2="618.9" y2="75.1" stroke="#cccccc" stroke-width="1"/>
<line x1="403.4" y1="53" x2="618.9" y2="53" stroke="#cccccc" stroke-width="1"/>
<line x1="403.4" y1="30.9" x2="618.9" y2="30.9" stroke="#cccccc" stroke-width="1"/>
<clipPath id="cpf"><rect x="403.4" y="21.5" width="215.5" height="101.9"/></clipPath>
<g clip-path="url(#cpf)" fill="none" stroke-linejoin="round" stroke-linecap="butt">
<path d="M403.50 119.30 L403.80 118.14 L404.10 117.20 L404.40 116.53 L404.70 115.96 L405.00 115.47 L405.30 115.02 L405.60 114.61 L405.90 114.21 L406.20 113.78 L406.50 113.32 L406.80 112.79 L407.10 112.20 L407.40 111.57 L407.70 110.90 L408.00 110.21 L408.30 109.47 L408.60 108.70 L408.90 107.89 L409.20 107.02 L409.50 106.11 L409.80 105.15 L410.10 104.09 L410.40 102.93 L410.70 101.69 L411.00 100.34 L411.30 98.90 L411.60 97.32 L411.90 95.51 L412.20 93.53 L412.50 91.44 L412.80 89.30 L413.10 87.04 L413.40 84.62 L413.70 82.16 L414.00 79.78 L414.30 77.59 L414.60 75.46 L414.90 73.40 L415.20 71.47 L415.50 69.73 L415.80 68.18 L416.10 66.71 L416.40 65.37 L416.70 64.27 L417.00 63.46 L417.30 62.79 L417.60 62.20 L417.90 61.70 L418.20 61.30 L418.50 61.00 L418.80 60.77 L419.10 60.57 L419.40 60.40 L419.70 60.25 L420.00 60.11 L420.30 59.99 L420.60 59.86 L420.90 59.74 L421.20 59.63 L421.50 59.52 L421.80 59.40 L422.10 59.27 L422.40 59.13 L422.70 58.97 L423.00 58.81 L423.30 58.63 L423.60 58.44 L423.90 58.24 L424.20 58.05 L424.50 57.87 L424.80 57.69 L425.10 57.52 L425.40 57.34 L425.70 57.17 L426.00 57.00 L426.30 56.84 L426.60 56.68 L426.90 56.52 L427.20 56.36 L427.50 56.20 L427.80 56.05 L428.10 55.90 L428.40 55.75 L428.70 55.61 L429.00 55.46 L429.30 55.32 L429.60 55.18 L429.90 55.04 L430.20 54.90 L430.50 54.77 L430.80 54.63 L431.10 54.50 L431.40 54.37 L431.70 54.24 L432.00 54.11 L432.30 53.99 L432.60 53.86 L432.90 53.74 L433.20 53.61 L433.50 53.49 L433.80 53.37 L434.10 53.25 L434.40 53.13 L434.70 53.01 L435.00 52.89 L435.30 52.78 L435.60 52.66 L435.90 52.54 L436.20 52.43 L436.50 52.31 L436.80 52.19 L437.10 52.08 L437.40 51.96 L437.70 51.85 L438.00 51.73 L438.30 51.62 L438.60 51.51 L438.90 51.39 L439.20 51.28 L439.50 51.17 L439.80 51.05 L440.10 50.94 L440.40 50.83 L440.70 50.72 L441.00 50.60 L441.30 50.49 L441.60 50.38 L441.90 50.27 L442.20 50.16 L442.50 50.05 L442.80 49.94 L443.10 49.83 L443.40 49.72 L443.70 49.61 L444.00 49.50 L444.30 49.39 L444.60 49.28 L444.90 49.17 L445.20 49.07 L445.50 48.96 L445.80 48.85 L446.10 48.74 L446.40 48.64 L446.70 48.53 L447.00 48.42 L447.30 48.32 L447.60 48.21 L447.90 48.11 L448.20 48.00 L448.50 47.90 L448.80 47.79 L449.10 47.69 L449.40 47.59 L449.70 47.48 L450.00 47.38 L450.30 47.28 L450.60 47.17 L450.90 47.07 L451.20 46.97 L451.50 46.87 L451.80 46.77 L452.10 46.66 L452.40 46.56 L452.70 46.46 L453.00 46.36 L453.30 46.26 L453.60 46.16 L453.90 46.06 L454.20 45.96 L454.50 45.87 L454.80 45.77 L455.10 45.67 L455.40 45.57 L455.70 45.47 L456.00 45.38 L456.30 45.28 L456.60 45.18 L456.90 45.09 L457.20 44.99 L457.50 44.90 L457.80 44.80 L458.10 44.71 L458.40 44.61 L458.70 44.52 L459.00 44.42 L459.30 44.33 L459.60 44.24 L459.90 44.14 L460.20 44.05 L460.50 43.96 L460.80 43.87 L461.10 43.77 L461.40 43.68 L461.70 43.59 L462.00 43.50 L462.30 43.41 L462.60 43.32 L462.90 43.23 L463.20 43.14 L463.50 43.05 L463.80 42.96 L464.10 42.88 L464.40 42.79 L464.70 42.70 L465.00 42.61 L465.30 42.53 L465.60 42.44 L465.90 42.35 L466.20 42.27 L466.50 42.18 L466.80 42.10 L467.10 42.01 L467.40 41.93 L467.70 41.84 L468.00 41.76 L468.30 41.68 L468.60 41.59 L468.90 41.51 L469.20 41.43 L469.50 41.35 L469.80 41.26 L470.10 41.18 L470.40 41.10 L470.70 41.02 L471.00 40.94 L471.30 40.86 L471.60 40.78 L471.90 40.70 L472.20 40.62 L472.50 40.54 L472.80 40.47 L473.10 40.39 L473.40 40.31 L473.70 40.23 L474.00 40.16 L474.30 40.08 L474.60 40.00 L474.90 39.93 L475.20 39.85 L475.50 39.78 L475.80 39.70 L476.10 39.63 L476.40 39.56 L476.70 39.48 L477.00 39.41 L477.30 39.34 L477.60 39.26 L477.90 39.19 L478.20 39.12 L478.50 39.05 L478.80 38.98 L479.10 38.91 L479.40 38.84 L479.70 38.77 L480.00 38.70 L480.30 38.63 L480.60 38.56 L480.90 38.49 L481.20 38.42 L481.50 38.36 L481.80 38.29 L482.10 38.22 L482.40 38.16 L482.70 38.09 L483.00 38.02 L483.30 37.96 L483.60 37.89 L483.90 37.83 L484.20 37.76 L484.50 37.70 L484.80 37.64 L485.10 37.57 L485.40 37.51 L485.70 37.45 L486.00 37.38 L486.30 37.32 L486.60 37.26 L486.90 37.20 L487.20 37.14 L487.50 37.07 L487.80 37.01 L488.10 36.95 L488.40 36.89 L488.70 36.83 L489.00 36.77 L489.30 36.72 L489.60 36.66 L489.90 36.60 L490.20 36.54 L490.50 36.48 L490.80 36.43 L491.10 36.37 L491.40 36.31 L491.70 36.25 L492.00 36.20 L492.30 36.14 L492.60 36.09 L492.90 36.03 L493.20 35.98 L493.50 35.92 L493.80 35.87 L494.10 35.81 L494.40 35.76 L494.70 35.71 L495.00 35.65 L495.30 35.60 L495.60 35.55 L495.90 35.49 L496.20 35.44 L496.50 35.39 L496.80 35.34 L497.10 35.29 L497.40 35.24 L497.70 35.19 L498.00 35.14 L498.30 35.09 L498.60 35.04 L498.90 34.99 L499.20 34.94 L499.50 34.89 L499.80 34.84 L500.10 34.79 L500.40 34.74 L500.70 34.70 L501.00 34.65 L501.30 34.60 L501.60 34.55 L501.90 34.51 L502.20 34.46 L502.50 34.42 L502.80 34.37 L503.10 34.32 L503.40 34.28 L503.70 34.23 L504.00 34.19 L504.30 34.14 L504.60 34.10 L504.90 34.05 L505.20 34.01 L505.50 33.97 L505.80 33.92 L506.10 33.88 L506.40 33.84 L506.70 33.80 L507.00 33.75 L507.30 33.71 L507.60 33.67 L507.90 33.63 L508.20 33.59 L508.50 33.54 L508.80 33.50 L509.10 33.46 L509.40 33.42 L509.70 33.38 L510.00 33.34 L510.30 33.30 L510.60 33.26 L510.90 33.22 L511.20 33.19 L511.50 33.15 L511.80 33.11 L512.10 33.07 L512.40 33.03 L512.70 32.99 L513.00 32.96 L513.30 32.92 L513.60 32.88 L513.90 32.84 L514.20 32.81 L514.50 32.77 L514.80 32.74 L515.10 32.70 L515.40 32.66 L515.70 32.63 L516.00 32.59 L516.30 32.56 L516.60 32.52 L516.90 32.49 L517.20 32.45 L517.50 32.42 L517.80 32.38 L518.10 32.35 L518.40 32.32 L518.70 32.28 L519.00 32.25 L519.30 32.22 L519.60 32.18 L519.90 32.15 L520.20 32.12 L520.50 32.08 L520.80 32.05 L521.10 32.02 L521.40 31.99 L521.70 31.96 L522.00 31.93 L522.30 31.89 L522.60 31.86 L522.90 31.83 L523.20 31.80 L523.50 31.77 L523.80 31.74 L524.10 31.71 L524.40 31.68 L524.70 31.65 L525.00 31.62 L525.30 31.59 L525.60 31.56 L525.90 31.53 L526.20 31.50 L526.50 31.48 L526.80 31.45 L527.10 31.42 L527.40 31.39 L527.70 31.36 L528.00 31.33 L528.30 31.31 L528.60 31.28 L528.90 31.25 L529.20 31.22 L529.50 31.20 L529.80 31.17 L530.10 31.14 L530.40 31.12 L530.70 31.09 L531.00 31.06 L531.30 31.04 L531.60 31.01 L531.90 30.99 L532.20 30.96 L532.50 30.94 L532.80 30.91 L533.10 30.88 L533.40 30.86 L533.70 30.83 L534.00 30.81 L534.30 30.78 L534.60 30.76 L534.90 30.74 L535.20 30.71 L535.50 30.69 L535.80 30.66 L536.10 30.64 L536.40 30.62 L536.70 30.59 L537.00 30.57 L537.30 30.55 L537.60 30.52 L537.90 30.50 L538.20 30.48 L538.50 30.45 L538.80 30.43 L539.10 30.41 L539.40 30.39 L539.70 30.36 L540.00 30.34 L540.30 30.32 L540.60 30.30 L540.90 30.27 L541.20 30.25 L541.50 30.23 L541.80 30.21 L542.10 30.19 L542.40 30.17 L542.70 30.15 L543.00 30.12 L543.30 30.10 L543.60 30.08 L543.90 30.06 L544.20 30.04 L544.50 30.02 L544.80 30.00 L545.10 29.98 L545.40 29.96 L545.70 29.94 L546.00 29.92 L546.30 29.90 L546.60 29.88 L546.90 29.86 L547.20 29.84 L547.50 29.82 L547.80 29.80 L548.10 29.78 L548.40 29.76 L548.70 29.74 L549.00 29.72 L549.30 29.70 L549.60 29.68 L549.90 29.67 L550.20 29.65 L550.50 29.63 L550.80 29.61 L551.10 29.59 L551.40 29.57 L551.70 29.55 L552.00 29.53 L552.30 29.52 L552.60 29.50 L552.90 29.48 L553.20 29.46 L553.50 29.44 L553.80 29.42 L554.10 29.41 L554.40 29.39 L554.70 29.37 L555.00 29.35 L555.30 29.34 L555.60 29.32 L555.90 29.30 L556.20 29.28 L556.50 29.26 L556.80 29.25 L557.10 29.23 L557.40 29.21 L557.70 29.20 L558.00 29.18 L558.30 29.16 L558.60 29.14 L558.90 29.13 L559.20 29.11 L559.50 29.09 L559.80 29.08 L560.10 29.06 L560.40 29.04 L560.70 29.02 L561.00 29.01 L561.30 28.99 L561.60 28.97 L561.90 28.96 L562.20 28.94 L562.50 28.92 L562.80 28.91 L563.10 28.89 L563.40 28.87 L563.70 28.86 L564.00 28.84 L564.30 28.82 L564.60 28.81 L564.90 28.79 L565.20 28.77 L565.50 28.76 L565.80 28.74 L566.10 28.72 L566.40 28.71 L566.70 28.69 L567.00 28.68 L567.30 28.66 L567.60 28.64 L567.90 28.63 L568.20 28.61 L568.50 28.59 L568.80 28.58 L569.10 28.56 L569.40 28.54 L569.70 28.53 L570.00 28.51 L570.30 28.50 L570.60 28.48 L570.90 28.46 L571.20 28.45 L571.50 28.43 L571.80 28.41 L572.10 28.40 L572.40 28.38 L572.70 28.36 L573.00 28.35 L573.30 28.33 L573.60 28.31 L573.90 28.30 L574.20 28.28 L574.50 28.27 L574.80 28.25 L575.10 28.23 L575.40 28.22 L575.70 28.20 L576.00 28.18 L576.30 28.17 L576.60 28.15 L576.90 28.13 L577.20 28.12 L577.50 28.10 L577.80 28.08 L578.10 28.07 L578.40 28.05 L578.70 28.03 L579.00 28.01 L579.30 28.00 L579.60 27.98 L579.90 27.96 L580.20 27.95 L580.50 27.93 L580.80 27.91 L581.10 27.90 L581.40 27.88 L581.70 27.86 L582.00 27.84 L582.30 27.83 L582.60 27.81 L582.90 27.79 L583.20 27.77 L583.50 27.76 L583.80 27.74 L584.10 27.72 L584.40 27.70 L584.70 27.69 L585.00 27.67 L585.30 27.65 L585.60 27.63 L585.90 27.61 L586.20 27.60 L586.50 27.58 L586.80 27.56 L587.10 27.54 L587.40 27.52 L587.70 27.50 L588.00 27.49 L588.30 27.47 L588.60 27.45 L588.90 27.43 L589.20 27.41 L589.50 27.39 L589.80 27.37 L590.10 27.35 L590.40 27.33 L590.70 27.32 L591.00 27.30 L591.30 27.28 L591.60 27.26 L591.90 27.24 L592.20 27.22 L592.50 27.20 L592.80 27.18 L593.10 27.16 L593.40 27.14 L593.70 27.12 L594.00 27.10 L594.30 27.08 L594.60 27.06 L594.90 27.04 L595.20 27.02 L595.50 27.00 L595.80 26.98 L596.10 26.95 L596.40 26.93 L596.70 26.91 L597.00 26.89 L597.30 26.87 L597.60 26.85 L597.90 26.83 L598.20 26.81 L598.50 26.78 L598.80 26.76 L599.10 26.74 L599.40 26.72 L599.70 26.70 L600.00 26.67 L600.30 26.65 L600.60 26.63 L600.90 26.61 L601.20 26.58 L601.50 26.56 L601.80 26.54 L602.10 26.51 L602.40 26.49 L602.70 26.47 L603.00 26.44 L603.30 26.42 L603.60 26.40 L603.90 26.37 L604.20 26.35 L604.50 26.32 L604.80 26.30 L605.10 26.28 L605.40 26.25 L605.70 26.23 L606.00 26.20 L606.30 26.18 L606.60 26.15 L606.90 26.13 L607.20 26.10 L607.50 26.07 L607.80 26.05 L608.10 26.02 L608.40 26.00 L608.70 25.97 L609.00 25.94 L609.30 25.92 L609.60 25.89 L609.90 25.86 L610.20 25.84 L610.50 25.81 L610.80 25.78 L611.10 25.76 L611.40 25.73 L611.70 25.70 L612.00 25.67 L612.30 25.64 L612.60 25.62 L612.90 25.59 L613.20 25.56 L613.40 25.54" stroke="#ff7f0e" stroke-width="1.65"/>
<path d="M403.50 25.90 L403.80 25.90 L404.10 25.91 L404.40 25.92 L404.70 25.92 L405.00 25.93 L405.30 25.94 L405.60 25.96 L405.90 25.97 L406.20 25.98 L406.50 26.00 L406.80 26.01 L407.10 26.03 L407.40 26.04 L407.70 26.06 L408.00 26.08 L408.30 26.11 L408.60 26.13 L408.90 26.16 L409.20 26.19 L409.50 26.23 L409.80 26.26 L410.10 26.30 L410.40 26.35 L410.70 26.40 L411.00 26.47 L411.30 26.55 L411.60 26.64 L411.90 26.73 L412.20 26.83 L412.50 26.93 L412.80 27.04 L413.10 27.15 L413.40 27.28 L413.70 27.41 L414.00 27.56 L414.30 27.73 L414.60 27.91 L414.90 28.10 L415.20 28.33 L415.50 28.61 L415.80 28.91 L416.10 29.24 L416.40 29.58 L416.70 29.91 L417.00 30.26 L417.30 30.61 L417.60 30.98 L417.90 31.36 L418.20 31.74 L418.50 32.13 L418.80 32.52 L419.10 32.93 L419.40 33.34 L419.70 33.75 L420.00 34.16 L420.30 34.57 L420.60 34.98 L420.90 35.37 L421.20 35.76 L421.50 36.13 L421.80 36.51 L422.10 36.88 L422.40 37.25 L422.70 37.62 L423.00 37.98 L423.30 38.34 L423.60 38.70 L423.90 39.06 L424.20 39.41 L424.50 39.77 L424.80 40.12 L425.10 40.48 L425.40 40.83 L425.70 41.19 L426.00 41.54 L426.30 41.90 L426.60 42.26 L426.90 42.61 L427.20 42.97 L427.50 43.32 L427.80 43.67 L428.10 44.03 L428.40 44.41 L428.70 44.79 L429.00 45.17 L429.30 45.55 L429.60 45.92 L429.90 46.30 L430.20 46.68 L430.50 47.06 L430.80 47.43 L431.10 47.80 L431.40 48.14 L431.70 48.49 L432.00 48.83 L432.30 49.17 L432.60 49.51 L432.90 49.85 L433.20 50.19 L433.50 50.53 L433.80 50.87 L434.10 51.21 L434.40 51.54 L434.70 51.88 L435.00 52.21 L435.30 52.54 L435.60 52.87 L435.90 53.20 L436.20 53.53 L436.50 53.86 L436.80 54.19 L437.10 54.52 L437.40 54.84 L437.70 55.17 L438.00 55.49 L438.30 55.81 L438.60 56.14 L438.90 56.46 L439.20 56.78 L439.50 57.10 L439.80 57.41 L440.10 57.73 L440.40 58.05 L440.70 58.36 L441.00 58.68 L441.30 58.99 L441.60 59.30 L441.90 59.61 L442.20 59.92 L442.50 60.23 L442.80 60.54 L443.10 60.85 L443.40 61.15 L443.70 61.46 L444.00 61.76 L444.30 62.07 L444.60 62.37 L444.90 62.67 L445.20 62.97 L445.50 63.27 L445.80 63.57 L446.10 63.87 L446.40 64.16 L446.70 64.46 L447.00 64.75 L447.30 65.05 L447.60 65.34 L447.90 65.63 L448.20 65.93 L448.50 66.22 L448.80 66.50 L449.10 66.79 L449.40 67.08 L449.70 67.37 L450.00 67.65 L450.30 67.94 L450.60 68.22 L450.90 68.50 L451.20 68.79 L451.50 69.07 L451.80 69.35 L452.10 69.63 L452.40 69.90 L452.70 70.18 L453.00 70.46 L453.30 70.73 L453.60 71.01 L453.90 71.28 L454.20 71.55 L454.50 71.82 L454.80 72.09 L455.10 72.36 L455.40 72.63 L455.70 72.90 L456.00 73.17 L456.30 73.43 L456.60 73.70 L456.90 73.96 L457.20 74.23 L457.50 74.49 L457.80 74.75 L458.10 75.01 L458.40 75.27 L458.70 75.53 L459.00 75.79 L459.30 76.05 L459.60 76.30 L459.90 76.56 L460.20 76.81 L460.50 77.07 L460.80 77.32 L461.10 77.57 L461.40 77.82 L461.70 78.07 L462.00 78.32 L462.30 78.57 L462.60 78.82 L462.90 79.06 L463.20 79.31 L463.50 79.55 L463.80 79.80 L464.10 80.04 L464.40 80.28 L464.70 80.52 L465.00 80.76 L465.30 81.00 L465.60 81.24 L465.90 81.48 L466.20 81.71 L466.50 81.95 L466.80 82.19 L467.10 82.42 L467.40 82.65 L467.70 82.88 L468.00 83.12 L468.30 83.35 L468.60 83.58 L468.90 83.81 L469.20 84.03 L469.50 84.26 L469.80 84.49 L470.10 84.71 L470.40 84.94 L470.70 85.16 L471.00 85.38 L471.30 85.61 L471.60 85.83 L471.90 86.05 L472.20 86.27 L472.50 86.48 L472.80 86.70 L473.10 86.92 L473.40 87.14 L473.70 87.35 L474.00 87.56 L474.30 87.78 L474.60 87.99 L474.90 88.20 L475.20 88.41 L475.50 88.62 L475.80 88.83 L476.10 89.04 L476.40 89.25 L476.70 89.46 L477.00 89.66 L477.30 89.87 L477.60 90.07 L477.90 90.27 L478.20 90.48 L478.50 90.68 L478.80 90.88 L479.10 91.08 L479.40 91.28 L479.70 91.48 L480.00 91.67 L480.30 91.87 L480.60 92.07 L480.90 92.26 L481.20 92.46 L481.50 92.65 L481.80 92.84 L482.10 93.03 L482.40 93.23 L482.70 93.42 L483.00 93.61 L483.30 93.79 L483.60 93.98 L483.90 94.17 L484.20 94.36 L484.50 94.54 L484.80 94.72 L485.10 94.91 L485.40 95.09 L485.70 95.27 L486.00 95.46 L486.30 95.64 L486.60 95.82 L486.90 95.99 L487.20 96.17 L487.50 96.35 L487.80 96.53 L488.10 96.70 L488.40 96.88 L488.70 97.05 L489.00 97.22 L489.30 97.40 L489.60 97.57 L489.90 97.74 L490.20 97.91 L490.50 98.08 L490.80 98.25 L491.10 98.42 L491.40 98.58 L491.70 98.75 L492.00 98.91 L492.30 99.08 L492.60 99.24 L492.90 99.41 L493.20 99.57 L493.50 99.73 L493.80 99.89 L494.10 100.05 L494.40 100.21 L494.70 100.37 L495.00 100.53 L495.30 100.68 L495.60 100.84 L495.90 100.99 L496.20 101.15 L496.50 101.30 L496.80 101.46 L497.10 101.61 L497.40 101.76 L497.70 101.91 L498.00 102.06 L498.30 102.21 L498.60 102.36 L498.90 102.51 L499.20 102.65 L499.50 102.80 L499.80 102.95 L500.10 103.09 L500.40 103.23 L500.70 103.38 L501.00 103.52 L501.30 103.66 L501.60 103.80 L501.90 103.94 L502.20 104.08 L502.50 104.22 L502.80 104.36 L503.10 104.50 L503.40 104.63 L503.70 104.77 L504.00 104.90 L504.30 105.04 L504.60 105.17 L504.90 105.31 L505.20 105.44 L505.50 105.57 L505.80 105.70 L506.10 105.83 L506.40 105.96 L506.70 106.09 L507.00 106.21 L507.30 106.34 L507.60 106.47 L507.90 106.59 L508.20 106.72 L508.50 106.84 L508.80 106.97 L509.10 107.09 L509.40 107.21 L509.70 107.33 L510.00 107.45 L510.30 107.57 L510.60 107.69 L510.90 107.81 L511.20 107.93 L511.50 108.04 L511.80 108.16 L512.10 108.28 L512.40 108.39 L512.70 108.51 L513.00 108.62 L513.30 108.73 L513.60 108.84 L513.90 108.95 L514.20 109.07 L514.50 109.18 L514.80 109.28 L515.10 109.39 L515.40 109.50 L515.70 109.61 L516.00 109.71 L516.30 109.82 L516.60 109.93 L516.90 110.03 L517.20 110.13 L517.50 110.24 L517.80 110.34 L518.10 110.44 L518.40 110.54 L518.70 110.64 L519.00 110.74 L519.30 110.84 L519.60 110.94 L519.90 111.04 L520.20 111.13 L520.50 111.23 L520.80 111.32 L521.10 111.42 L521.40 111.51 L521.70 111.61 L522.00 111.70 L522.30 111.79 L522.60 111.88 L522.90 111.97 L523.20 112.06 L523.50 112.15 L523.80 112.24 L524.10 112.33 L524.40 112.42 L524.70 112.50 L525.00 112.59 L525.30 112.68 L525.60 112.76 L525.90 112.84 L526.20 112.93 L526.50 113.01 L526.80 113.09 L527.10 113.17 L527.40 113.25 L527.70 113.33 L528.00 113.41 L528.30 113.49 L528.60 113.57 L528.90 113.65 L529.20 113.73 L529.50 113.80 L529.80 113.88 L530.10 113.95 L530.40 114.03 L530.70 114.10 L531.00 114.17 L531.30 114.25 L531.60 114.32 L531.90 114.39 L532.20 114.46 L532.50 114.53 L532.80 114.60 L533.10 114.67 L533.40 114.74 L533.70 114.80 L534.00 114.87 L534.30 114.94 L534.60 115.00 L534.90 115.07 L535.20 115.13 L535.50 115.19 L535.80 115.26 L536.10 115.32 L536.40 115.38 L536.70 115.44 L537.00 115.50 L537.30 115.56 L537.60 115.62 L537.90 115.68 L538.20 115.74 L538.50 115.80 L538.80 115.85 L539.10 115.91 L539.40 115.96 L539.70 116.02 L540.00 116.07 L540.30 116.13 L540.60 116.18 L540.90 116.23 L541.20 116.29 L541.50 116.34 L541.80 116.39 L542.10 116.44 L542.40 116.49 L542.70 116.54 L543.00 116.58 L543.30 116.63 L543.60 116.68 L543.90 116.73 L544.20 116.77 L544.50 116.82 L544.80 116.86 L545.10 116.91 L545.40 116.95 L545.70 116.99 L546.00 117.03 L546.30 117.08 L546.60 117.12 L546.90 117.16 L547.20 117.20 L547.50 117.24 L547.80 117.28 L548.10 117.32 L548.40 117.35 L548.70 117.39 L549.00 117.43 L549.30 117.46 L549.60 117.50 L549.90 117.53 L550.20 117.57 L550.50 117.60 L550.80 117.63 L551.10 117.67 L551.40 117.70 L551.70 117.73 L552.00 117.76 L552.30 117.79 L552.60 117.82 L552.90 117.85 L553.20 117.88 L553.50 117.91 L553.80 117.94 L554.10 117.96 L554.40 117.99 L554.70 118.02 L555.00 118.04 L555.30 118.07 L555.60 118.09 L555.90 118.11 L556.20 118.14 L556.50 118.16 L556.80 118.18 L557.10 118.20 L557.40 118.22 L557.70 118.24 L558.00 118.26 L558.30 118.28 L558.60 118.30 L558.90 118.32 L559.20 118.34 L559.50 118.36 L559.80 118.37 L560.10 118.39 L560.40 118.40 L560.70 118.42 L561.00 118.43 L561.30 118.45 L561.60 118.46 L561.90 118.47 L562.20 118.49 L562.50 118.50 L562.80 118.51 L563.10 118.52 L563.40 118.53 L563.70 118.54 L564.00 118.55 L564.30 118.56 L564.60 118.57 L564.90 118.57 L565.20 118.58 L565.50 118.59 L565.80 118.59 L566.10 118.60 L566.40 118.60 L566.70 118.61 L567.00 118.61 L567.30 118.62 L567.60 118.62 L567.90 118.62 L568.20 118.62 L568.50 118.63 L568.80 118.63 L569.10 118.63 L569.40 118.63 L569.70 118.63 L570.00 118.63 L570.30 118.62 L570.60 118.62 L570.90 118.62 L571.20 118.62 L571.50 118.61 L571.80 118.61 L572.10 118.61 L572.40 118.60 L572.70 118.60 L573.00 118.59 L573.30 118.58 L573.60 118.58 L573.90 118.57 L574.20 118.56 L574.50 118.55 L574.80 118.54 L575.10 118.53 L575.40 118.53 L575.70 118.51 L576.00 118.50 L576.30 118.49 L576.60 118.48 L576.90 118.47 L577.20 118.46 L577.50 118.44 L577.80 118.43 L578.10 118.42 L578.40 118.40 L578.70 118.39 L579.00 118.37 L579.30 118.36 L579.60 118.34 L579.90 118.32 L580.20 118.30 L580.50 118.29 L580.80 118.27 L581.10 118.25 L581.40 118.23 L581.70 118.21 L582.00 118.19 L582.30 118.17 L582.60 118.15 L582.90 118.13 L583.20 118.11 L583.50 118.08 L583.80 118.06 L584.10 118.04 L584.40 118.02 L584.70 117.99 L585.00 117.97 L585.30 117.94 L585.60 117.92 L585.90 117.89 L586.20 117.86 L586.50 117.84 L586.80 117.81 L587.10 117.78 L587.40 117.75 L587.70 117.73 L588.00 117.70 L588.30 117.67 L588.60 117.64 L588.90 117.61 L589.20 117.58 L589.50 117.55 L589.80 117.51 L590.10 117.48 L590.40 117.45 L590.70 117.42 L591.00 117.38 L591.30 117.35 L591.60 117.32 L591.90 117.28 L592.20 117.25 L592.50 117.21 L592.80 117.18 L593.10 117.14 L593.40 117.10 L593.70 117.07 L594.00 117.03 L594.30 116.99 L594.60 116.95 L594.90 116.92 L595.20 116.88 L595.50 116.84 L595.80 116.80 L596.10 116.76 L596.40 116.72 L596.70 116.68 L597.00 116.63 L597.30 116.59 L597.60 116.55 L597.90 116.51 L598.20 116.46 L598.50 116.42 L598.80 116.38 L599.10 116.33 L599.40 116.29 L599.70 116.24 L600.00 116.20 L600.30 116.15 L600.60 116.11 L600.90 116.06 L601.20 116.01 L601.50 115.97 L601.80 115.92 L602.10 115.87 L602.40 115.82 L602.70 115.77 L603.00 115.72 L603.30 115.67 L603.60 115.62 L603.90 115.57 L604.20 115.52 L604.50 115.47 L604.80 115.42 L605.10 115.37 L605.40 115.32 L605.70 115.26 L606.00 115.21 L606.30 115.16 L606.60 115.10 L606.90 115.05 L607.20 114.99 L607.50 114.94 L607.80 114.88 L608.10 114.83 L608.40 114.77 L608.70 114.72 L609.00 114.66 L609.30 114.60 L609.60 114.55 L609.90 114.49 L610.20 114.43 L610.50 114.37 L610.80 114.31 L611.10 114.25 L611.40 114.20 L611.70 114.14 L612.00 114.08 L612.30 114.01 L612.60 113.95 L612.90 113.89 L613.20 113.83 L613.40 113.79" stroke="#1f77b4" stroke-width="1.65"/>
</g>
<rect x="403.4" y="21.5" width="215.5" height="101.9" fill="none" stroke="#1a1a1a" stroke-width="1"/>
<line x1="399.9" y1="119.3" x2="403.4" y2="119.3" stroke="#1a1a1a" stroke-width="1"/>
<text x="388.64" y="123.75" font-size="12.7" fill="#ff7f0e" dx="0">0</text>
<line x1="399.9" y1="97.2" x2="403.4" y2="97.2" stroke="#1a1a1a" stroke-width="1"/>
<text x="381.33" y="101.65" font-size="12.7" fill="#ff7f0e" dx="0 0.25">20</text>
<line x1="399.9" y1="75.1" x2="403.4" y2="75.1" stroke="#1a1a1a" stroke-width="1"/>
<text x="381.33" y="79.55" font-size="12.7" fill="#ff7f0e" dx="0 0.25">40</text>
<line x1="399.9" y1="53" x2="403.4" y2="53" stroke="#1a1a1a" stroke-width="1"/>
<text x="381.33" y="57.45" font-size="12.7" fill="#ff7f0e" dx="0 0.25">60</text>
<line x1="399.9" y1="30.9" x2="403.4" y2="30.9" stroke="#1a1a1a" stroke-width="1"/>
<text x="381.33" y="35.35" font-size="12.7" fill="#ff7f0e" dx="0 0.25">80</text>
<line x1="618.9" y1="105.5" x2="622.4" y2="105.5" stroke="#1a1a1a" stroke-width="1"/>
<rect x="626.82" y="105.85" width="7" height="1" fill="#1f77b4"/>
<text x="634.58" y="109.95" font-size="12.7" fill="#1f77b4" dx="0 0.25 0.25 0.25">6000</text>
<line x1="618.9" y1="79.13" x2="622.4" y2="79.13" stroke="#1a1a1a" stroke-width="1"/>
<rect x="626.82" y="79.49" width="7" height="1" fill="#1f77b4"/>
<text x="634.92" y="83.58" font-size="12.7" fill="#1f77b4" dx="0 0.25 0.25 0.25">4000</text>
<line x1="618.9" y1="52.77" x2="622.4" y2="52.77" stroke="#1a1a1a" stroke-width="1"/>
<rect x="626.82" y="53.12" width="7" height="1" fill="#1f77b4"/>
<text x="634.58" y="57.22" font-size="12.7" fill="#1f77b4" dx="0 0.25 0.25 0.25">2000</text>
<line x1="618.9" y1="26.4" x2="622.4" y2="26.4" stroke="#1a1a1a" stroke-width="1"/>
<text x="625.87" y="30.85" font-size="12.7" fill="#1f77b4" dx="0">0</text>
<line x1="403.75" y1="123.4" x2="403.75" y2="126.9" stroke="#1a1a1a" stroke-width="1"/>
<text x="400.23" y="140.1" font-size="12.7" fill="#1a1a1a" dx="0">0</text>
<line x1="451.51" y1="123.4" x2="451.51" y2="126.9" stroke="#1a1a1a" stroke-width="1"/>
<text x="444.09" y="140.1" font-size="12.7" fill="#1a1a1a" dx="0 0.25">10</text>
<line x1="499.27" y1="123.4" x2="499.27" y2="126.9" stroke="#1a1a1a" stroke-width="1"/>
<text x="492.02" y="140.1" font-size="12.7" fill="#1a1a1a" dx="0 0.25">20</text>
<line x1="547.03" y1="123.4" x2="547.03" y2="126.9" stroke="#1a1a1a" stroke-width="1"/>
<text x="539.85" y="140.1" font-size="12.7" fill="#1a1a1a" dx="0 0.25">30</text>
<line x1="594.79" y1="123.4" x2="594.79" y2="126.9" stroke="#1a1a1a" stroke-width="1"/>
<text x="587.71" y="140.1" font-size="12.7" fill="#1a1a1a" dx="0 0.25">40</text>
<text transform="translate(374.3,72.45) rotate(-90)" text-anchor="middle" fill="#ff7f0e" font-size="12.8" textLength="62.68" lengthAdjust="spacingAndGlyphs">WNA [deg]</text>
<g transform="translate(679.9,72.45) rotate(-90)" fill="#1f77b4"><text x="-22.29" y="0" font-size="12.26">Δ</text><text x="-14.19" y="2.37" font-size="8.53" font-style="italic">d</text><text x="-5.36" y="0" font-size="12.26" textLength="27.65" lengthAdjust="spacingAndGlyphs">[km]</text></g>
<text x="366.72" y="30.3" font-size="13.2" fill="#111111" stroke="#111111" stroke-width="0.1">f</text>
<text x="371.91" y="30.3" font-size="13.2" fill="#111111">)</text>
<line x1="451.51" y1="156.9" x2="451.51" y2="258.7" stroke="#cccccc" stroke-width="1"/>
<line x1="499.27" y1="156.9" x2="499.27" y2="258.7" stroke="#cccccc" stroke-width="1"/>
<line x1="547.03" y1="156.9" x2="547.03" y2="258.7" stroke="#cccccc" stroke-width="1"/>
<line x1="594.79" y1="156.9" x2="594.79" y2="258.7" stroke="#cccccc" stroke-width="1"/>
<line x1="403.4" y1="254.5" x2="618.9" y2="254.5" stroke="#cccccc" stroke-width="1"/>
<line x1="403.4" y1="232.25" x2="618.9" y2="232.25" stroke="#cccccc" stroke-width="1"/>
<line x1="403.4" y1="210" x2="618.9" y2="210" stroke="#cccccc" stroke-width="1"/>
<line x1="403.4" y1="187.75" x2="618.9" y2="187.75" stroke="#cccccc" stroke-width="1"/>
<line x1="403.4" y1="165.5" x2="618.9" y2="165.5" stroke="#cccccc" stroke-width="1"/>
<clipPath id="cpg"><rect x="403.4" y="156.9" width="215.5" height="101.8"/></clipPath>
<g clip-path="url(#cpg)" fill="none" stroke-linejoin="round" stroke-linecap="butt">
<path d="M403.60 254.50 L403.90 251.85 L404.20 250.96 L404.50 250.26 L404.80 249.73 L405.10 249.32 L405.40 248.99 L405.70 248.70 L406.00 248.42 L406.30 248.10 L406.60 247.71 L406.90 247.20 L407.20 246.60 L407.50 245.98 L407.80 245.32 L408.10 244.63 L408.40 243.91 L408.70 243.17 L409.00 242.40 L409.30 241.61 L409.60 240.80 L409.90 239.96 L410.20 239.09 L410.50 238.19 L410.80 237.24 L411.10 236.26 L411.40 235.23 L411.70 234.15 L412.00 233.01 L412.30 231.78 L412.60 230.46 L412.90 229.07 L413.20 227.64 L413.50 226.18 L413.80 224.71 L414.10 223.21 L414.40 221.67 L414.70 220.08 L415.00 218.45 L415.30 216.76 L415.60 214.95 L415.90 213.10 L416.20 211.29 L416.50 209.60 L416.80 207.93 L417.10 206.24 L417.40 204.71 L417.70 203.50 L418.00 202.67 L418.30 201.95 L418.60 201.31 L418.90 200.74 L419.20 200.24 L419.50 199.81 L419.80 199.43 L420.10 199.10 L420.40 198.81 L420.70 198.54 L421.00 198.30 L421.30 198.08 L421.60 197.87 L421.90 197.68 L422.20 197.50 L422.50 197.33 L422.80 197.16 L423.10 196.99 L423.40 196.83 L423.70 196.66 L424.00 196.49 L424.30 196.33 L424.60 196.18 L424.90 196.04 L425.20 195.89 L425.50 195.75 L425.80 195.60 L426.10 195.46 L426.40 195.31 L426.70 195.16 L427.00 195.01 L427.30 194.85 L427.60 194.69 L427.90 194.53 L428.20 194.38 L428.50 194.22 L428.80 194.07 L429.10 193.91 L429.40 193.76 L429.70 193.60 L430.00 193.45 L430.30 193.30 L430.60 193.15 L430.90 192.99 L431.20 192.84 L431.50 192.69 L431.80 192.54 L432.10 192.39 L432.40 192.25 L432.70 192.10 L433.00 191.95 L433.30 191.80 L433.60 191.66 L433.90 191.51 L434.20 191.37 L434.50 191.22 L434.80 191.08 L435.10 190.93 L435.40 190.79 L435.70 190.65 L436.00 190.50 L436.30 190.36 L436.60 190.22 L436.90 190.08 L437.20 189.94 L437.50 189.80 L437.80 189.66 L438.10 189.52 L438.40 189.39 L438.70 189.25 L439.00 189.11 L439.30 188.98 L439.60 188.84 L439.90 188.70 L440.20 188.57 L440.50 188.43 L440.80 188.30 L441.10 188.17 L441.40 188.04 L441.70 187.90 L442.00 187.77 L442.30 187.64 L442.60 187.51 L442.90 187.38 L443.20 187.25 L443.50 187.12 L443.80 186.99 L444.10 186.86 L444.40 186.74 L444.70 186.61 L445.00 186.48 L445.30 186.36 L445.60 186.23 L445.90 186.10 L446.20 185.98 L446.50 185.86 L446.80 185.73 L447.10 185.61 L447.40 185.49 L447.70 185.36 L448.00 185.24 L448.30 185.12 L448.60 185.00 L448.90 184.88 L449.20 184.76 L449.50 184.64 L449.80 184.52 L450.10 184.40 L450.40 184.29 L450.70 184.17 L451.00 184.05 L451.30 183.94 L451.60 183.82 L451.90 183.70 L452.20 183.59 L452.50 183.47 L452.80 183.36 L453.10 183.25 L453.40 183.13 L453.70 183.02 L454.00 182.91 L454.30 182.80 L454.60 182.69 L454.90 182.58 L455.20 182.47 L455.50 182.36 L455.80 182.25 L456.10 182.14 L456.40 182.03 L456.70 181.92 L457.00 181.81 L457.30 181.71 L457.60 181.60 L457.90 181.49 L458.20 181.39 L458.50 181.28 L458.80 181.18 L459.10 181.07 L459.40 180.97 L459.70 180.87 L460.00 180.76 L460.30 180.66 L460.60 180.56 L460.90 180.46 L461.20 180.35 L461.50 180.25 L461.80 180.15 L462.10 180.05 L462.40 179.95 L462.70 179.85 L463.00 179.76 L463.30 179.66 L463.60 179.56 L463.90 179.46 L464.20 179.36 L464.50 179.27 L464.80 179.17 L465.10 179.08 L465.40 178.98 L465.70 178.89 L466.00 178.79 L466.30 178.70 L466.60 178.60 L466.90 178.51 L467.20 178.42 L467.50 178.33 L467.80 178.23 L468.10 178.14 L468.40 178.05 L468.70 177.96 L469.00 177.87 L469.30 177.78 L469.60 177.69 L469.90 177.60 L470.20 177.51 L470.50 177.42 L470.80 177.34 L471.10 177.25 L471.40 177.16 L471.70 177.08 L472.00 176.99 L472.30 176.90 L472.60 176.82 L472.90 176.73 L473.20 176.65 L473.50 176.56 L473.80 176.48 L474.10 176.40 L474.40 176.31 L474.70 176.23 L475.00 176.15 L475.30 176.07 L475.60 175.98 L475.90 175.90 L476.20 175.82 L476.50 175.74 L476.80 175.66 L477.10 175.58 L477.40 175.50 L477.70 175.42 L478.00 175.35 L478.30 175.27 L478.60 175.19 L478.90 175.11 L479.20 175.03 L479.50 174.96 L479.80 174.88 L480.10 174.81 L480.40 174.73 L480.70 174.65 L481.00 174.58 L481.30 174.51 L481.60 174.43 L481.90 174.36 L482.20 174.28 L482.50 174.21 L482.80 174.14 L483.10 174.07 L483.40 173.99 L483.70 173.92 L484.00 173.85 L484.30 173.78 L484.60 173.71 L484.90 173.64 L485.20 173.57 L485.50 173.50 L485.80 173.43 L486.10 173.36 L486.40 173.29 L486.70 173.22 L487.00 173.16 L487.30 173.09 L487.60 173.02 L487.90 172.95 L488.20 172.89 L488.50 172.82 L488.80 172.76 L489.10 172.69 L489.40 172.63 L489.70 172.56 L490.00 172.50 L490.30 172.43 L490.60 172.37 L490.90 172.30 L491.20 172.24 L491.50 172.18 L491.80 172.12 L492.10 172.05 L492.40 171.99 L492.70 171.93 L493.00 171.87 L493.30 171.81 L493.60 171.75 L493.90 171.69 L494.20 171.63 L494.50 171.57 L494.80 171.51 L495.10 171.45 L495.40 171.39 L495.70 171.33 L496.00 171.27 L496.30 171.21 L496.60 171.16 L496.90 171.10 L497.20 171.04 L497.50 170.99 L497.80 170.93 L498.10 170.87 L498.40 170.82 L498.70 170.76 L499.00 170.71 L499.30 170.65 L499.60 170.60 L499.90 170.54 L500.20 170.49 L500.50 170.43 L500.80 170.38 L501.10 170.33 L501.40 170.27 L501.70 170.22 L502.00 170.17 L502.30 170.12 L502.60 170.07 L502.90 170.01 L503.20 169.96 L503.50 169.91 L503.80 169.86 L504.10 169.81 L504.40 169.76 L504.70 169.71 L505.00 169.66 L505.30 169.61 L505.60 169.56 L505.90 169.51 L506.20 169.47 L506.50 169.42 L506.80 169.37 L507.10 169.32 L507.40 169.27 L507.70 169.23 L508.00 169.18 L508.30 169.13 L508.60 169.09 L508.90 169.04 L509.20 168.99 L509.50 168.95 L509.80 168.90 L510.10 168.86 L510.40 168.81 L510.70 168.77 L511.00 168.72 L511.30 168.68 L511.60 168.64 L511.90 168.59 L512.20 168.55 L512.50 168.51 L512.80 168.46 L513.10 168.42 L513.40 168.38 L513.70 168.34 L514.00 168.29 L514.30 168.25 L514.60 168.21 L514.90 168.17 L515.20 168.13 L515.50 168.09 L515.80 168.05 L516.10 168.01 L516.40 167.97 L516.70 167.93 L517.00 167.89 L517.30 167.85 L517.60 167.81 L517.90 167.77 L518.20 167.73 L518.50 167.69 L518.80 167.65 L519.10 167.61 L519.40 167.58 L519.70 167.54 L520.00 167.50 L520.30 167.46 L520.60 167.43 L520.90 167.39 L521.20 167.35 L521.50 167.32 L521.80 167.28 L522.10 167.24 L522.40 167.21 L522.70 167.17 L523.00 167.14 L523.30 167.10 L523.60 167.07 L523.90 167.03 L524.20 167.00 L524.50 166.96 L524.80 166.93 L525.10 166.89 L525.40 166.86 L525.70 166.83 L526.00 166.79 L526.30 166.76 L526.60 166.73 L526.90 166.69 L527.20 166.66 L527.50 166.63 L527.80 166.60 L528.10 166.56 L528.40 166.53 L528.70 166.50 L529.00 166.47 L529.30 166.44 L529.60 166.41 L529.90 166.37 L530.20 166.34 L530.50 166.31 L530.80 166.28 L531.10 166.25 L531.40 166.22 L531.70 166.19 L532.00 166.16 L532.30 166.13 L532.60 166.10 L532.90 166.07 L533.20 166.04 L533.50 166.01 L533.80 165.98 L534.10 165.96 L534.40 165.93 L534.70 165.90 L535.00 165.87 L535.30 165.84 L535.60 165.81 L535.90 165.79 L536.20 165.76 L536.50 165.73 L536.80 165.70 L537.10 165.68 L537.40 165.65 L537.70 165.62 L538.00 165.60 L538.30 165.57 L538.60 165.54 L538.90 165.52 L539.20 165.49 L539.50 165.46 L539.80 165.44 L540.10 165.41 L540.40 165.39 L540.70 165.36 L541.00 165.33 L541.30 165.31 L541.60 165.28 L541.90 165.26 L542.20 165.23 L542.50 165.21 L542.80 165.18 L543.10 165.16 L543.40 165.14 L543.70 165.11 L544.00 165.09 L544.30 165.06 L544.60 165.04 L544.90 165.01 L545.20 164.99 L545.50 164.97 L545.80 164.94 L546.10 164.92 L546.40 164.90 L546.70 164.87 L547.00 164.85 L547.30 164.83 L547.60 164.81 L547.90 164.78 L548.20 164.76 L548.50 164.74 L548.80 164.72 L549.10 164.69 L549.40 164.67 L549.70 164.65 L550.00 164.63 L550.30 164.60 L550.60 164.58 L550.90 164.56 L551.20 164.54 L551.50 164.52 L551.80 164.50 L552.10 164.48 L552.40 164.45 L552.70 164.43 L553.00 164.41 L553.30 164.39 L553.60 164.37 L553.90 164.35 L554.20 164.33 L554.50 164.31 L554.80 164.29 L555.10 164.27 L555.40 164.25 L555.70 164.23 L556.00 164.20 L556.30 164.18 L556.60 164.16 L556.90 164.14 L557.20 164.12 L557.50 164.10 L557.80 164.08 L558.10 164.06 L558.40 164.05 L558.70 164.03 L559.00 164.01 L559.30 163.99 L559.60 163.97 L559.90 163.95 L560.20 163.93 L560.50 163.91 L560.80 163.89 L561.10 163.87 L561.40 163.85 L561.70 163.83 L562.00 163.81 L562.30 163.79 L562.60 163.78 L562.90 163.76 L563.20 163.74 L563.50 163.72 L563.80 163.70 L564.10 163.68 L564.40 163.66 L564.70 163.64 L565.00 163.63 L565.30 163.61 L565.60 163.59 L565.90 163.57 L566.20 163.55 L566.50 163.53 L566.80 163.51 L567.10 163.50 L567.40 163.48 L567.70 163.46 L568.00 163.44 L568.30 163.42 L568.60 163.41 L568.90 163.39 L569.20 163.37 L569.50 163.35 L569.80 163.33 L570.10 163.31 L570.40 163.30 L570.70 163.28 L571.00 163.26 L571.30 163.24 L571.60 163.22 L571.90 163.21 L572.20 163.19 L572.50 163.17 L572.80 163.15 L573.10 163.13 L573.40 163.12 L573.70 163.10 L574.00 163.08 L574.30 163.06 L574.60 163.05 L574.90 163.03 L575.20 163.01 L575.50 162.99 L575.80 162.97 L576.10 162.96 L576.40 162.94 L576.70 162.92 L577.00 162.90 L577.30 162.88 L577.60 162.87 L577.90 162.85 L578.20 162.83 L578.50 162.81 L578.80 162.79 L579.10 162.78 L579.40 162.76 L579.70 162.74 L580.00 162.72 L580.30 162.70 L580.60 162.69 L580.90 162.67 L581.20 162.65 L581.50 162.63 L581.80 162.61 L582.10 162.60 L582.40 162.58 L582.70 162.56 L583.00 162.54 L583.30 162.52 L583.60 162.51 L583.90 162.49 L584.20 162.47 L584.50 162.45 L584.80 162.43 L585.10 162.41 L585.40 162.39 L585.70 162.38 L586.00 162.36 L586.30 162.34 L586.60 162.32 L586.90 162.30 L587.20 162.28 L587.50 162.26 L587.80 162.24 L588.10 162.23 L588.40 162.21 L588.70 162.19 L589.00 162.17 L589.30 162.15 L589.60 162.13 L589.90 162.11 L590.20 162.09 L590.50 162.07 L590.80 162.05 L591.10 162.03 L591.40 162.01 L591.70 162.00 L592.00 161.98 L592.30 161.96 L592.60 161.94 L592.90 161.92 L593.20 161.90 L593.50 161.88 L593.80 161.86 L594.10 161.84 L594.40 161.82 L594.70 161.80 L595.00 161.78 L595.30 161.76 L595.60 161.73 L595.90 161.71 L596.20 161.69 L596.50 161.67 L596.80 161.65 L597.10 161.63 L597.40 161.61 L597.70 161.59 L598.00 161.57 L598.30 161.55 L598.60 161.53 L598.90 161.50 L599.20 161.48 L599.50 161.46 L599.80 161.44 L600.10 161.42 L600.40 161.40 L600.70 161.37 L601.00 161.35 L601.30 161.33 L601.60 161.31 L601.90 161.28 L602.20 161.26 L602.50 161.24 L602.80 161.22 L603.10 161.19 L603.40 161.17 L603.70 161.15 L604.00 161.13 L604.30 161.10 L604.60 161.08 L604.90 161.06 L605.20 161.03 L605.50 161.01 L605.80 160.98 L606.10 160.96 L606.40 160.94 L606.70 160.91 L607.00 160.89 L607.30 160.86 L607.60 160.84 L607.90 160.82 L608.20 160.79 L608.50 160.77 L608.80 160.74 L609.10 160.72 L609.30 160.70" stroke="#ff7f0e" stroke-width="1.65"/>
<path d="M403.50 161.00 L403.80 161.01 L404.10 161.02 L404.40 161.04 L404.70 161.05 L405.00 161.06 L405.30 161.08 L405.60 161.09 L405.90 161.11 L406.20 161.13 L406.50 161.14 L406.80 161.16 L407.10 161.18 L407.40 161.20 L407.70 161.22 L408.00 161.24 L408.30 161.26 L408.60 161.28 L408.90 161.30 L409.20 161.32 L409.50 161.34 L409.80 161.37 L410.10 161.40 L410.40 161.43 L410.70 161.46 L411.00 161.50 L411.30 161.54 L411.60 161.60 L411.90 161.67 L412.20 161.74 L412.50 161.82 L412.80 161.91 L413.10 162.00 L413.40 162.10 L413.70 162.20 L414.00 162.30 L414.30 162.41 L414.60 162.52 L414.90 162.64 L415.20 162.77 L415.50 162.91 L415.80 163.06 L416.10 163.22 L416.40 163.38 L416.70 163.56 L417.00 163.76 L417.30 163.98 L417.60 164.21 L417.90 164.47 L418.20 164.74 L418.50 165.01 L418.80 165.30 L419.10 165.61 L419.40 165.94 L419.70 166.30 L420.00 166.67 L420.30 167.05 L420.60 167.42 L420.90 167.78 L421.20 168.13 L421.50 168.48 L421.80 168.82 L422.10 169.17 L422.40 169.51 L422.70 169.85 L423.00 170.20 L423.30 170.54 L423.60 170.88 L423.90 171.23 L424.20 171.57 L424.50 171.91 L424.80 172.25 L425.10 172.60 L425.40 172.94 L425.70 173.29 L426.00 173.64 L426.30 174.00 L426.60 174.37 L426.90 174.74 L427.20 175.13 L427.50 175.51 L427.80 175.90 L428.10 176.29 L428.40 176.68 L428.70 177.06 L429.00 177.43 L429.30 177.80 L429.60 178.16 L429.90 178.51 L430.20 178.87 L430.50 179.22 L430.80 179.58 L431.10 179.93 L431.40 180.28 L431.70 180.64 L432.00 180.99 L432.30 181.35 L432.60 181.71 L432.90 182.06 L433.20 182.41 L433.50 182.75 L433.80 183.09 L434.10 183.43 L434.40 183.76 L434.70 184.10 L435.00 184.43 L435.30 184.77 L435.60 185.10 L435.90 185.43 L436.20 185.76 L436.50 186.09 L436.80 186.42 L437.10 186.75 L437.40 187.08 L437.70 187.41 L438.00 187.73 L438.30 188.05 L438.60 188.38 L438.90 188.70 L439.20 189.02 L439.50 189.34 L439.80 189.66 L440.10 189.98 L440.40 190.30 L440.70 190.62 L441.00 190.93 L441.30 191.25 L441.60 191.56 L441.90 191.88 L442.20 192.19 L442.50 192.50 L442.80 192.81 L443.10 193.12 L443.40 193.43 L443.70 193.74 L444.00 194.04 L444.30 194.35 L444.60 194.65 L444.90 194.96 L445.20 195.26 L445.50 195.56 L445.80 195.86 L446.10 196.16 L446.40 196.46 L446.70 196.76 L447.00 197.06 L447.30 197.36 L447.60 197.65 L447.90 197.95 L448.20 198.24 L448.50 198.54 L448.80 198.83 L449.10 199.12 L449.40 199.41 L449.70 199.70 L450.00 199.99 L450.30 200.28 L450.60 200.56 L450.90 200.85 L451.20 201.13 L451.50 201.42 L451.80 201.70 L452.10 201.98 L452.40 202.26 L452.70 202.55 L453.00 202.82 L453.30 203.10 L453.60 203.38 L453.90 203.66 L454.20 203.93 L454.50 204.21 L454.80 204.48 L455.10 204.76 L455.40 205.03 L455.70 205.30 L456.00 205.57 L456.30 205.84 L456.60 206.11 L456.90 206.38 L457.20 206.65 L457.50 206.91 L457.80 207.18 L458.10 207.44 L458.40 207.71 L458.70 207.97 L459.00 208.23 L459.30 208.49 L459.60 208.75 L459.90 209.01 L460.20 209.27 L460.50 209.53 L460.80 209.79 L461.10 210.04 L461.40 210.30 L461.70 210.55 L462.00 210.81 L462.30 211.06 L462.60 211.31 L462.90 211.56 L463.20 211.81 L463.50 212.06 L463.80 212.31 L464.10 212.56 L464.40 212.80 L464.70 213.05 L465.00 213.29 L465.30 213.54 L465.60 213.78 L465.90 214.02 L466.20 214.26 L466.50 214.50 L466.80 214.74 L467.10 214.98 L467.40 215.22 L467.70 215.46 L468.00 215.69 L468.30 215.93 L468.60 216.17 L468.90 216.40 L469.20 216.63 L469.50 216.86 L469.80 217.10 L470.10 217.33 L470.40 217.56 L470.70 217.78 L471.00 218.01 L471.30 218.24 L471.60 218.47 L471.90 218.69 L472.20 218.92 L472.50 219.14 L472.80 219.36 L473.10 219.59 L473.40 219.81 L473.70 220.03 L474.00 220.25 L474.30 220.47 L474.60 220.68 L474.90 220.90 L475.20 221.12 L475.50 221.33 L475.80 221.55 L476.10 221.76 L476.40 221.98 L476.70 222.19 L477.00 222.40 L477.30 222.61 L477.60 222.82 L477.90 223.03 L478.20 223.24 L478.50 223.45 L478.80 223.65 L479.10 223.86 L479.40 224.06 L479.70 224.27 L480.00 224.47 L480.30 224.67 L480.60 224.88 L480.90 225.08 L481.20 225.28 L481.50 225.48 L481.80 225.68 L482.10 225.87 L482.40 226.07 L482.70 226.27 L483.00 226.46 L483.30 226.66 L483.60 226.85 L483.90 227.04 L484.20 227.24 L484.50 227.43 L484.80 227.62 L485.10 227.81 L485.40 228.00 L485.70 228.19 L486.00 228.37 L486.30 228.56 L486.60 228.75 L486.90 228.93 L487.20 229.12 L487.50 229.30 L487.80 229.48 L488.10 229.67 L488.40 229.85 L488.70 230.03 L489.00 230.21 L489.30 230.39 L489.60 230.56 L489.90 230.74 L490.20 230.92 L490.50 231.10 L490.80 231.27 L491.10 231.44 L491.40 231.62 L491.70 231.79 L492.00 231.96 L492.30 232.14 L492.60 232.31 L492.90 232.48 L493.20 232.64 L493.50 232.81 L493.80 232.98 L494.10 233.15 L494.40 233.31 L494.70 233.48 L495.00 233.64 L495.30 233.81 L495.60 233.97 L495.90 234.13 L496.20 234.29 L496.50 234.46 L496.80 234.62 L497.10 234.77 L497.40 234.93 L497.70 235.09 L498.00 235.25 L498.30 235.40 L498.60 235.56 L498.90 235.72 L499.20 235.87 L499.50 236.02 L499.80 236.18 L500.10 236.33 L500.40 236.48 L500.70 236.63 L501.00 236.78 L501.30 236.93 L501.60 237.08 L501.90 237.22 L502.20 237.37 L502.50 237.52 L502.80 237.66 L503.10 237.81 L503.40 237.95 L503.70 238.09 L504.00 238.24 L504.30 238.38 L504.60 238.52 L504.90 238.66 L505.20 238.80 L505.50 238.94 L505.80 239.07 L506.10 239.21 L506.40 239.35 L506.70 239.48 L507.00 239.62 L507.30 239.75 L507.60 239.89 L507.90 240.02 L508.20 240.15 L508.50 240.28 L508.80 240.42 L509.10 240.55 L509.40 240.68 L509.70 240.80 L510.00 240.93 L510.30 241.06 L510.60 241.19 L510.90 241.31 L511.20 241.44 L511.50 241.56 L511.80 241.69 L512.10 241.81 L512.40 241.93 L512.70 242.05 L513.00 242.17 L513.30 242.30 L513.60 242.41 L513.90 242.53 L514.20 242.65 L514.50 242.77 L514.80 242.89 L515.10 243.00 L515.40 243.12 L515.70 243.23 L516.00 243.35 L516.30 243.46 L516.60 243.57 L516.90 243.69 L517.20 243.80 L517.50 243.91 L517.80 244.02 L518.10 244.13 L518.40 244.24 L518.70 244.34 L519.00 244.45 L519.30 244.56 L519.60 244.66 L519.90 244.77 L520.20 244.87 L520.50 244.98 L520.80 245.08 L521.10 245.18 L521.40 245.29 L521.70 245.39 L522.00 245.49 L522.30 245.59 L522.60 245.69 L522.90 245.79 L523.20 245.88 L523.50 245.98 L523.80 246.08 L524.10 246.17 L524.40 246.27 L524.70 246.36 L525.00 246.46 L525.30 246.55 L525.60 246.64 L525.90 246.74 L526.20 246.83 L526.50 246.92 L526.80 247.01 L527.10 247.10 L527.40 247.19 L527.70 247.28 L528.00 247.36 L528.30 247.45 L528.60 247.54 L528.90 247.62 L529.20 247.71 L529.50 247.79 L529.80 247.87 L530.10 247.96 L530.40 248.04 L530.70 248.12 L531.00 248.20 L531.30 248.28 L531.60 248.36 L531.90 248.44 L532.20 248.52 L532.50 248.60 L532.80 248.68 L533.10 248.75 L533.40 248.83 L533.70 248.90 L534.00 248.98 L534.30 249.05 L534.60 249.13 L534.90 249.20 L535.20 249.27 L535.50 249.34 L535.80 249.41 L536.10 249.48 L536.40 249.55 L536.70 249.62 L537.00 249.69 L537.30 249.76 L537.60 249.83 L537.90 249.89 L538.20 249.96 L538.50 250.03 L538.80 250.09 L539.10 250.15 L539.40 250.22 L539.70 250.28 L540.00 250.34 L540.30 250.41 L540.60 250.47 L540.90 250.53 L541.20 250.59 L541.50 250.65 L541.80 250.71 L542.10 250.76 L542.40 250.82 L542.70 250.88 L543.00 250.93 L543.30 250.99 L543.60 251.05 L543.90 251.10 L544.20 251.15 L544.50 251.21 L544.80 251.26 L545.10 251.31 L545.40 251.36 L545.70 251.42 L546.00 251.47 L546.30 251.52 L546.60 251.57 L546.90 251.61 L547.20 251.66 L547.50 251.71 L547.80 251.76 L548.10 251.80 L548.40 251.85 L548.70 251.89 L549.00 251.94 L549.30 251.98 L549.60 252.03 L549.90 252.07 L550.20 252.11 L550.50 252.15 L550.80 252.19 L551.10 252.23 L551.40 252.27 L551.70 252.31 L552.00 252.35 L552.30 252.39 L552.60 252.43 L552.90 252.47 L553.20 252.50 L553.50 252.54 L553.80 252.57 L554.10 252.61 L554.40 252.64 L554.70 252.68 L555.00 252.71 L555.30 252.74 L555.60 252.77 L555.90 252.81 L556.20 252.84 L556.50 252.87 L556.80 252.90 L557.10 252.93 L557.40 252.96 L557.70 252.98 L558.00 253.01 L558.30 253.04 L558.60 253.07 L558.90 253.09 L559.20 253.12 L559.50 253.14 L559.80 253.17 L560.10 253.19 L560.40 253.21 L560.70 253.24 L561.00 253.26 L561.30 253.28 L561.60 253.30 L561.90 253.32 L562.20 253.34 L562.50 253.36 L562.80 253.38 L563.10 253.40 L563.40 253.42 L563.70 253.43 L564.00 253.45 L564.30 253.47 L564.60 253.48 L564.90 253.50 L565.20 253.51 L565.50 253.53 L565.80 253.54 L566.10 253.55 L566.40 253.57 L566.70 253.58 L567.00 253.59 L567.30 253.60 L567.60 253.61 L567.90 253.62 L568.20 253.63 L568.50 253.64 L568.80 253.65 L569.10 253.66 L569.40 253.66 L569.70 253.67 L570.00 253.68 L570.30 253.68 L570.60 253.69 L570.90 253.69 L571.20 253.70 L571.50 253.70 L571.80 253.71 L572.10 253.71 L572.40 253.71 L572.70 253.71 L573.00 253.71 L573.30 253.72 L573.60 253.72 L573.90 253.72 L574.20 253.72 L574.50 253.71 L574.80 253.71 L575.10 253.71 L575.40 253.71 L575.70 253.70 L576.00 253.70 L576.30 253.70 L576.60 253.69 L576.90 253.69 L577.20 253.68 L577.50 253.68 L577.80 253.67 L578.10 253.66 L578.40 253.65 L578.70 253.65 L579.00 253.64 L579.30 253.63 L579.60 253.62 L579.90 253.61 L580.20 253.60 L580.50 253.59 L580.80 253.58 L581.10 253.57 L581.40 253.55 L581.70 253.54 L582.00 253.53 L582.30 253.51 L582.60 253.50 L582.90 253.49 L583.20 253.47 L583.50 253.45 L583.80 253.44 L584.10 253.42 L584.40 253.41 L584.70 253.39 L585.00 253.37 L585.30 253.35 L585.60 253.33 L585.90 253.31 L586.20 253.29 L586.50 253.27 L586.80 253.25 L587.10 253.23 L587.40 253.21 L587.70 253.19 L588.00 253.17 L588.30 253.14 L588.60 253.12 L588.90 253.10 L589.20 253.07 L589.50 253.05 L589.80 253.02 L590.10 253.00 L590.40 252.97 L590.70 252.94 L591.00 252.92 L591.30 252.89 L591.60 252.86 L591.90 252.83 L592.20 252.80 L592.50 252.78 L592.80 252.75 L593.10 252.72 L593.40 252.69 L593.70 252.65 L594.00 252.62 L594.30 252.59 L594.60 252.56 L594.90 252.53 L595.20 252.49 L595.50 252.46 L595.80 252.43 L596.10 252.39 L596.40 252.36 L596.70 252.32 L597.00 252.29 L597.30 252.25 L597.60 252.21 L597.90 252.18 L598.20 252.14 L598.50 252.10 L598.80 252.06 L599.10 252.02 L599.40 251.99 L599.70 251.95 L600.00 251.91 L600.30 251.87 L600.60 251.83 L600.90 251.79 L601.20 251.74 L601.50 251.70 L601.80 251.66 L602.10 251.62 L602.40 251.57 L602.70 251.53 L603.00 251.49 L603.30 251.44 L603.60 251.40 L603.90 251.35 L604.20 251.31 L604.50 251.26 L604.80 251.21 L605.10 251.17 L605.40 251.12 L605.70 251.07 L606.00 251.03 L606.30 250.98 L606.60 250.93 L606.90 250.88 L607.20 250.83 L607.50 250.78 L607.80 250.73 L608.10 250.68 L608.40 250.63 L608.70 250.58 L609.00 250.53 L609.30 250.47" stroke="#1f77b4" stroke-width="1.65"/>
</g>
<rect x="403.4" y="156.9" width="215.5" height="101.8" fill="none" stroke="#1a1a1a" stroke-width="1"/>
<line x1="399.9" y1="254.5" x2="403.4" y2="254.5" stroke="#1a1a1a" stroke-width="1"/>
<text x="388.64" y="258.95" font-size="12.7" fill="#ff7f0e" dx="0">0</text>
<line x1="399.9" y1="232.25" x2="403.4" y2="232.25" stroke="#1a1a1a" stroke-width="1"/>
<text x="381.33" y="236.7" font-size="12.7" fill="#ff7f0e" dx="0 0.25">20</text>
<line x1="399.9" y1="210" x2="403.4" y2="210" stroke="#1a1a1a" stroke-width="1"/>
<text x="381.33" y="214.45" font-size="12.7" fill="#ff7f0e" dx="0 0.25">40</text>
<line x1="399.9" y1="187.75" x2="403.4" y2="187.75" stroke="#1a1a1a" stroke-width="1"/>
<text x="381.33" y="192.2" font-size="12.7" fill="#ff7f0e" dx="0 0.25">60</text>
<line x1="399.9" y1="165.5" x2="403.4" y2="165.5" stroke="#1a1a1a" stroke-width="1"/>
<text x="381.33" y="169.95" font-size="12.7" fill="#ff7f0e" dx="0 0.25">80</text>
<line x1="618.9" y1="241.6" x2="622.4" y2="241.6" stroke="#1a1a1a" stroke-width="1"/>
<rect x="626.82" y="241.95" width="7" height="1" fill="#1f77b4"/>
<text x="634.58" y="246.05" font-size="12.7" fill="#1f77b4" dx="0 0.25 0.25 0.25">6000</text>
<line x1="618.9" y1="214.67" x2="622.4" y2="214.67" stroke="#1a1a1a" stroke-width="1"/>
<rect x="626.82" y="215.02" width="7" height="1" fill="#1f77b4"/>
<text x="634.92" y="219.12" font-size="12.7" fill="#1f77b4" dx="0 0.25 0.25 0.25">4000</text>
<line x1="618.9" y1="187.73" x2="622.4" y2="187.73" stroke="#1a1a1a" stroke-width="1"/>
<rect x="626.82" y="188.09" width="7" height="1" fill="#1f77b4"/>
<text x="634.58" y="192.18" font-size="12.7" fill="#1f77b4" dx="0 0.25 0.25 0.25">2000</text>
<line x1="618.9" y1="160.8" x2="622.4" y2="160.8" stroke="#1a1a1a" stroke-width="1"/>
<text x="625.87" y="165.25" font-size="12.7" fill="#1f77b4" dx="0">0</text>
<line x1="403.75" y1="258.7" x2="403.75" y2="262.2" stroke="#1a1a1a" stroke-width="1"/>
<text x="400.23" y="275.4" font-size="12.7" fill="#1a1a1a" dx="0">0</text>
<line x1="451.51" y1="258.7" x2="451.51" y2="262.2" stroke="#1a1a1a" stroke-width="1"/>
<text x="444.09" y="275.4" font-size="12.7" fill="#1a1a1a" dx="0 0.25">10</text>
<line x1="499.27" y1="258.7" x2="499.27" y2="262.2" stroke="#1a1a1a" stroke-width="1"/>
<text x="492.02" y="275.4" font-size="12.7" fill="#1a1a1a" dx="0 0.25">20</text>
<line x1="547.03" y1="258.7" x2="547.03" y2="262.2" stroke="#1a1a1a" stroke-width="1"/>
<text x="539.85" y="275.4" font-size="12.7" fill="#1a1a1a" dx="0 0.25">30</text>
<line x1="594.79" y1="258.7" x2="594.79" y2="262.2" stroke="#1a1a1a" stroke-width="1"/>
<text x="587.71" y="275.4" font-size="12.7" fill="#1a1a1a" dx="0 0.25">40</text>
<text transform="translate(374.3,207.8) rotate(-90)" text-anchor="middle" fill="#ff7f0e" font-size="12.8" textLength="62.68" lengthAdjust="spacingAndGlyphs">WNA [deg]</text>
<g transform="translate(679.9,207.8) rotate(-90)" fill="#1f77b4"><text x="-22.29" y="0" font-size="12.26">Δ</text><text x="-14.19" y="2.37" font-size="8.53" font-style="italic">d</text><text x="-5.36" y="0" font-size="12.26" textLength="27.65" lengthAdjust="spacingAndGlyphs">[km]</text></g>
<text x="361.85" y="166.2" font-size="13.2" fill="#111111" stroke="#111111" stroke-width="0.1">g</text>
<text x="370.01" y="166.2" font-size="13.2" fill="#111111">)</text>
<line x1="451.51" y1="292" x2="451.51" y2="394" stroke="#cccccc" stroke-width="1"/>
<line x1="499.27" y1="292" x2="499.27" y2="394" stroke="#cccccc" stroke-width="1"/>
<line x1="547.03" y1="292" x2="547.03" y2="394" stroke="#cccccc" stroke-width="1"/>
<line x1="594.79" y1="292" x2="594.79" y2="394" stroke="#cccccc" stroke-width="1"/>
<line x1="403.4" y1="389.4" x2="618.9" y2="389.4" stroke="#cccccc" stroke-width="1"/>
<line x1="403.4" y1="367.2" x2="618.9" y2="367.2" stroke="#cccccc" stroke-width="1"/>
<line x1="403.4" y1="345" x2="618.9" y2="345" stroke="#cccccc" stroke-width="1"/>
<line x1="403.4" y1="322.8" x2="618.9" y2="322.8" stroke="#cccccc" stroke-width="1"/>
<line x1="403.4" y1="300.6" x2="618.9" y2="300.6" stroke="#cccccc" stroke-width="1"/>
<clipPath id="cph"><rect x="403.4" y="292" width="215.5" height="102"/></clipPath>
<g clip-path="url(#cph)" fill="none" stroke-linejoin="round" stroke-linecap="butt">
<path d="M403.60 390.06 L403.90 389.57 L404.20 389.07 L404.50 388.58 L404.80 388.09 L405.10 387.60 L405.40 387.11 L405.70 386.62 L406.00 386.14 L406.30 385.65 L406.60 385.17 L406.90 384.69 L407.20 384.21 L407.50 383.73 L407.80 383.26 L408.10 382.79 L408.40 382.31 L408.70 381.84 L409.00 381.37 L409.30 380.91 L409.60 380.44 L409.90 379.98 L410.20 379.52 L410.50 379.06 L410.80 378.60 L411.10 378.14 L411.40 377.69 L411.70 377.23 L412.00 376.78 L412.30 376.33 L412.60 375.88 L412.90 375.43 L413.20 374.99 L413.50 374.54 L413.80 374.10 L414.10 373.66 L414.40 373.22 L414.70 372.79 L415.00 372.35 L415.30 371.92 L415.60 371.48 L415.90 371.05 L416.20 370.62 L416.50 370.20 L416.80 369.77 L417.10 369.35 L417.40 368.93 L417.70 368.51 L418.00 368.09 L418.30 367.67 L418.60 367.25 L418.90 366.84 L419.20 366.43 L419.50 366.02 L419.80 365.61 L420.10 365.20 L420.40 364.80 L420.70 364.39 L421.00 363.99 L421.30 363.59 L421.60 363.19 L421.90 362.79 L422.20 362.40 L422.50 362.00 L422.80 361.61 L423.10 361.22 L423.40 360.83 L423.70 360.44 L424.00 360.06 L424.30 359.67 L424.60 359.29 L424.90 358.91 L425.20 358.53 L425.50 358.16 L425.80 357.78 L426.10 357.41 L426.40 357.03 L426.70 356.66 L427.00 356.30 L427.30 355.93 L427.60 355.56 L427.90 355.20 L428.20 354.84 L428.50 354.48 L428.80 354.12 L429.10 353.76 L429.40 353.41 L429.70 353.05 L430.00 352.70 L430.30 352.35 L430.60 352.00 L430.90 351.65 L431.20 351.31 L431.50 350.96 L431.80 350.62 L432.10 350.28 L432.40 349.94 L432.70 349.61 L433.00 349.27 L433.30 348.94 L433.60 348.61 L433.90 348.28 L434.20 347.95 L434.50 347.62 L434.80 347.30 L435.10 346.97 L435.40 346.65 L435.70 346.33 L436.00 346.01 L436.30 345.69 L436.60 345.38 L436.90 345.06 L437.20 344.75 L437.50 344.44 L437.80 344.13 L438.10 343.83 L438.40 343.52 L438.70 343.22 L439.00 342.91 L439.30 342.61 L439.60 342.31 L439.90 342.01 L440.20 341.72 L440.50 341.42 L440.80 341.13 L441.10 340.84 L441.40 340.55 L441.70 340.26 L442.00 339.97 L442.30 339.69 L442.60 339.41 L442.90 339.12 L443.20 338.84 L443.50 338.56 L443.80 338.29 L444.10 338.01 L444.40 337.74 L444.70 337.46 L445.00 337.19 L445.30 336.92 L445.60 336.65 L445.90 336.39 L446.20 336.12 L446.50 335.86 L446.80 335.59 L447.10 335.33 L447.40 335.07 L447.70 334.82 L448.00 334.56 L448.30 334.30 L448.60 334.05 L448.90 333.80 L449.20 333.55 L449.50 333.30 L449.80 333.05 L450.10 332.80 L450.40 332.56 L450.70 332.32 L451.00 332.07 L451.30 331.83 L451.60 331.60 L451.90 331.36 L452.20 331.12 L452.50 330.89 L452.80 330.65 L453.10 330.42 L453.40 330.19 L453.70 329.96 L454.00 329.73 L454.30 329.51 L454.60 329.28 L454.90 329.06 L455.20 328.84 L455.50 328.62 L455.80 328.40 L456.10 328.18 L456.40 327.96 L456.70 327.75 L457.00 327.53 L457.30 327.32 L457.60 327.11 L457.90 326.90 L458.20 326.69 L458.50 326.48 L458.80 326.28 L459.10 326.07 L459.40 325.87 L459.70 325.67 L460.00 325.47 L460.30 325.27 L460.60 325.07 L460.90 324.87 L461.20 324.68 L461.50 324.48 L461.80 324.29 L462.10 324.10 L462.40 323.91 L462.70 323.72 L463.00 323.53 L463.30 323.35 L463.60 323.16 L463.90 322.98 L464.20 322.80 L464.50 322.62 L464.80 322.44 L465.10 322.26 L465.40 322.08 L465.70 321.90 L466.00 321.73 L466.30 321.55 L466.60 321.38 L466.90 321.21 L467.20 321.04 L467.50 320.87 L467.80 320.70 L468.10 320.54 L468.40 320.37 L468.70 320.21 L469.00 320.04 L469.30 319.88 L469.60 319.72 L469.90 319.56 L470.20 319.40 L470.50 319.25 L470.80 319.09 L471.10 318.93 L471.40 318.78 L471.70 318.63 L472.00 318.48 L472.30 318.32 L472.60 318.17 L472.90 318.03 L473.20 317.88 L473.50 317.73 L473.80 317.59 L474.10 317.44 L474.40 317.30 L474.70 317.16 L475.00 317.02 L475.30 316.88 L475.60 316.74 L475.90 316.60 L476.20 316.46 L476.50 316.33 L476.80 316.19 L477.10 316.06 L477.40 315.93 L477.70 315.79 L478.00 315.66 L478.30 315.53 L478.60 315.40 L478.90 315.28 L479.20 315.15 L479.50 315.02 L479.80 314.90 L480.10 314.77 L480.40 314.65 L480.70 314.53 L481.00 314.41 L481.30 314.29 L481.60 314.17 L481.90 314.05 L482.20 313.93 L482.50 313.81 L482.80 313.70 L483.10 313.58 L483.40 313.47 L483.70 313.36 L484.00 313.24 L484.30 313.13 L484.60 313.02 L484.90 312.91 L485.20 312.80 L485.50 312.70 L485.80 312.59 L486.10 312.48 L486.40 312.38 L486.70 312.27 L487.00 312.17 L487.30 312.07 L487.60 311.96 L487.90 311.86 L488.20 311.76 L488.50 311.66 L488.80 311.56 L489.10 311.46 L489.40 311.37 L489.70 311.27 L490.00 311.17 L490.30 311.08 L490.60 310.98 L490.90 310.89 L491.20 310.80 L491.50 310.71 L491.80 310.61 L492.10 310.52 L492.40 310.43 L492.70 310.34 L493.00 310.26 L493.30 310.17 L493.60 310.08 L493.90 309.99 L494.20 309.91 L494.50 309.82 L494.80 309.74 L495.10 309.65 L495.40 309.57 L495.70 309.49 L496.00 309.41 L496.30 309.33 L496.60 309.24 L496.90 309.16 L497.20 309.09 L497.50 309.01 L497.80 308.93 L498.10 308.85 L498.40 308.77 L498.70 308.70 L499.00 308.62 L499.30 308.55 L499.60 308.47 L499.90 308.40 L500.20 308.32 L500.50 308.25 L500.80 308.18 L501.10 308.11 L501.40 308.04 L501.70 307.97 L502.00 307.90 L502.30 307.83 L502.60 307.76 L502.90 307.69 L503.20 307.62 L503.50 307.55 L503.80 307.49 L504.10 307.42 L504.40 307.35 L504.70 307.29 L505.00 307.22 L505.30 307.16 L505.60 307.09 L505.90 307.03 L506.20 306.97 L506.50 306.90 L506.80 306.84 L507.10 306.78 L507.40 306.72 L507.70 306.66 L508.00 306.59 L508.30 306.53 L508.60 306.47 L508.90 306.41 L509.20 306.36 L509.50 306.30 L509.80 306.24 L510.10 306.18 L510.40 306.12 L510.70 306.07 L511.00 306.01 L511.30 305.95 L511.60 305.90 L511.90 305.84 L512.20 305.78 L512.50 305.73 L512.80 305.67 L513.10 305.62 L513.40 305.57 L513.70 305.51 L514.00 305.46 L514.30 305.40 L514.60 305.35 L514.90 305.30 L515.20 305.25 L515.50 305.19 L515.80 305.14 L516.10 305.09 L516.40 305.04 L516.70 304.99 L517.00 304.94 L517.30 304.89 L517.60 304.84 L517.90 304.79 L518.20 304.74 L518.50 304.69 L518.80 304.64 L519.10 304.59 L519.40 304.54 L519.70 304.49 L520.00 304.44 L520.30 304.39 L520.60 304.34 L520.90 304.29 L521.20 304.25 L521.50 304.20 L521.80 304.15 L522.10 304.10 L522.40 304.06 L522.70 304.01 L523.00 303.96 L523.30 303.91 L523.60 303.87 L523.90 303.82 L524.20 303.77 L524.50 303.73 L524.80 303.68 L525.10 303.63 L525.40 303.59 L525.70 303.54 L526.00 303.50 L526.30 303.45 L526.60 303.40 L526.90 303.36 L527.20 303.31 L527.50 303.27 L527.80 303.22 L528.10 303.18 L528.40 303.13 L528.70 303.09 L529.00 303.04 L529.30 303.00 L529.60 302.95 L529.90 302.91 L530.20 302.87 L530.50 302.82 L530.80 302.78 L531.10 302.73 L531.40 302.69 L531.70 302.65 L532.00 302.60 L532.30 302.56 L532.60 302.52 L532.90 302.47 L533.20 302.43 L533.50 302.39 L533.80 302.35 L534.10 302.30 L534.40 302.26 L534.70 302.22 L535.00 302.18 L535.30 302.13 L535.60 302.09 L535.90 302.05 L536.20 302.01 L536.50 301.97 L536.80 301.93 L537.10 301.89 L537.40 301.84 L537.70 301.80 L538.00 301.76 L538.30 301.72 L538.60 301.68 L538.90 301.64 L539.20 301.60 L539.50 301.56 L539.80 301.52 L540.10 301.48 L540.40 301.44 L540.70 301.40 L541.00 301.36 L541.30 301.32 L541.60 301.28 L541.90 301.25 L542.20 301.21 L542.50 301.17 L542.80 301.13 L543.10 301.09 L543.40 301.05 L543.70 301.01 L544.00 300.98 L544.30 300.94 L544.60 300.90 L544.90 300.86 L545.20 300.82 L545.50 300.79 L545.80 300.75 L546.10 300.71 L546.40 300.68 L546.70 300.64 L547.00 300.60 L547.30 300.57 L547.60 300.53 L547.90 300.49 L548.20 300.46 L548.50 300.42 L548.80 300.38 L549.10 300.35 L549.40 300.31 L549.70 300.28 L550.00 300.24 L550.30 300.21 L550.60 300.17 L550.90 300.14 L551.20 300.10 L551.50 300.07 L551.80 300.03 L552.10 300.00 L552.40 299.96 L552.70 299.93 L553.00 299.89 L553.30 299.86 L553.60 299.83 L553.90 299.79 L554.20 299.76 L554.50 299.73 L554.80 299.69 L555.10 299.66 L555.40 299.63 L555.70 299.59 L556.00 299.56 L556.30 299.53 L556.60 299.49 L556.90 299.46 L557.20 299.43 L557.50 299.40 L557.80 299.37 L558.10 299.33 L558.40 299.30 L558.70 299.27 L559.00 299.24 L559.30 299.21 L559.60 299.18 L559.90 299.15 L560.20 299.11 L560.50 299.08 L560.80 299.05 L561.10 299.02 L561.40 298.99 L561.70 298.96 L562.00 298.93 L562.30 298.90 L562.60 298.87 L562.90 298.84 L563.20 298.81 L563.50 298.78 L563.80 298.75 L564.10 298.73 L564.40 298.70 L564.70 298.67 L565.00 298.64 L565.30 298.61 L565.60 298.58 L565.90 298.55 L566.20 298.52 L566.50 298.50 L566.80 298.47 L567.10 298.44 L567.40 298.41 L567.70 298.39 L568.00 298.36 L568.30 298.33 L568.60 298.30 L568.90 298.28 L569.20 298.25 L569.50 298.22 L569.80 298.20 L570.10 298.17 L570.40 298.14 L570.70 298.12 L571.00 298.09 L571.30 298.07 L571.60 298.04 L571.90 298.01 L572.20 297.99 L572.50 297.96 L572.80 297.94 L573.10 297.91 L573.40 297.89 L573.70 297.86 L574.00 297.84 L574.30 297.81 L574.60 297.79 L574.90 297.77 L575.20 297.74 L575.50 297.72 L575.80 297.69 L576.10 297.67 L576.40 297.65 L576.70 297.62 L577.00 297.60 L577.30 297.58 L577.60 297.55 L577.90 297.53 L578.20 297.51 L578.50 297.48 L578.80 297.46 L579.10 297.44 L579.40 297.42 L579.70 297.40 L580.00 297.37 L580.30 297.35 L580.60 297.33 L580.90 297.31 L581.20 297.29 L581.50 297.27 L581.80 297.25 L582.10 297.22 L582.40 297.20 L582.70 297.18 L583.00 297.16 L583.30 297.14 L583.60 297.12 L583.90 297.10 L584.20 297.08 L584.50 297.06 L584.80 297.04 L585.10 297.02 L585.40 297.00 L585.70 296.98 L586.00 296.96 L586.30 296.94 L586.60 296.93 L586.90 296.91 L587.20 296.89 L587.50 296.87 L587.80 296.85 L588.10 296.83 L588.40 296.82 L588.70 296.80 L589.00 296.78 L589.30 296.76 L589.60 296.74 L589.90 296.73 L590.20 296.71 L590.50 296.69 L590.80 296.68 L591.10 296.66 L591.40 296.64 L591.70 296.63 L592.00 296.61 L592.30 296.59 L592.60 296.58 L592.90 296.56 L593.20 296.55 L593.50 296.53 L593.80 296.51 L594.10 296.50 L594.40 296.48 L594.70 296.47 L595.00 296.45 L595.30 296.44 L595.60 296.42 L595.90 296.41 L596.20 296.39 L596.50 296.38 L596.80 296.37 L597.10 296.35 L597.40 296.34 L597.70 296.32 L598.00 296.31 L598.30 296.30 L598.60 296.28 L598.90 296.27 L599.20 296.26 L599.50 296.24 L599.80 296.23 L600.10 296.22 L600.40 296.21 L600.70 296.19 L601.00 296.18 L601.30 296.17 L601.60 296.16 L601.90 296.15 L602.20 296.14 L602.50 296.12 L602.80 296.11 L603.10 296.10 L603.40 296.09 L603.70 296.08 L604.00 296.07 L604.20 296.06" stroke="#ff7f0e" stroke-width="1.65"/>
<path d="M403.90 296.30 L404.20 296.30 L404.50 296.30 L404.80 296.30 L405.10 296.31 L405.40 296.31 L405.70 296.32 L406.00 296.33 L406.30 296.33 L406.60 296.34 L406.90 296.35 L407.20 296.36 L407.50 296.37 L407.80 296.38 L408.10 296.39 L408.40 296.40 L408.70 296.42 L409.00 296.43 L409.30 296.44 L409.60 296.46 L409.90 296.47 L410.20 296.49 L410.50 296.50 L410.80 296.52 L411.10 296.54 L411.40 296.56 L411.70 296.59 L412.00 296.62 L412.30 296.65 L412.60 296.68 L412.90 296.72 L413.20 296.76 L413.50 296.80 L413.80 296.85 L414.10 296.90 L414.40 296.94 L414.70 296.99 L415.00 297.04 L415.30 297.10 L415.60 297.15 L415.90 297.20 L416.20 297.26 L416.50 297.31 L416.80 297.37 L417.10 297.43 L417.40 297.48 L417.70 297.54 L418.00 297.60 L418.30 297.66 L418.60 297.72 L418.90 297.79 L419.20 297.86 L419.50 297.93 L419.80 298.01 L420.10 298.08 L420.40 298.16 L420.70 298.24 L421.00 298.32 L421.30 298.41 L421.60 298.49 L421.90 298.58 L422.20 298.67 L422.50 298.76 L422.80 298.85 L423.10 298.95 L423.40 299.04 L423.70 299.14 L424.00 299.24 L424.30 299.33 L424.60 299.43 L424.90 299.54 L425.20 299.64 L425.50 299.75 L425.80 299.86 L426.10 299.97 L426.40 300.09 L426.70 300.21 L427.00 300.33 L427.30 300.45 L427.60 300.58 L427.90 300.70 L428.20 300.84 L428.50 300.97 L428.80 301.10 L429.10 301.24 L429.40 301.38 L429.70 301.52 L430.00 301.66 L430.30 301.81 L430.60 301.95 L430.90 302.10 L431.20 302.25 L431.50 302.41 L431.80 302.57 L432.10 302.74 L432.40 302.91 L432.70 303.08 L433.00 303.26 L433.30 303.44 L433.60 303.62 L433.90 303.80 L434.20 303.99 L434.50 304.17 L434.80 304.36 L435.10 304.55 L435.40 304.73 L435.70 304.92 L436.00 305.11 L436.30 305.27 L436.60 305.44 L436.90 305.61 L437.20 305.79 L437.50 305.96 L437.80 306.15 L438.10 306.34 L438.40 306.54 L438.70 306.74 L439.00 306.95 L439.30 307.17 L439.60 307.39 L439.90 307.61 L440.20 307.83 L440.50 308.05 L440.80 308.27 L441.10 308.50 L441.40 308.73 L441.70 308.96 L442.00 309.19 L442.30 309.42 L442.60 309.66 L442.90 309.89 L443.20 310.13 L443.50 310.37 L443.80 310.61 L444.10 310.85 L444.40 311.09 L444.70 311.34 L445.00 311.58 L445.30 311.83 L445.60 312.08 L445.90 312.33 L446.20 312.58 L446.50 312.83 L446.80 313.08 L447.10 313.34 L447.40 313.59 L447.70 313.85 L448.00 314.11 L448.30 314.36 L448.60 314.62 L448.90 314.88 L449.20 315.15 L449.50 315.41 L449.80 315.67 L450.10 315.93 L450.40 316.20 L450.70 316.46 L451.00 316.73 L451.30 317.00 L451.60 317.26 L451.90 317.53 L452.20 317.80 L452.50 318.07 L452.80 318.34 L453.10 318.61 L453.40 318.88 L453.70 319.15 L454.00 319.42 L454.30 319.69 L454.60 319.97 L454.90 320.24 L455.20 320.51 L455.50 320.79 L455.80 321.06 L456.10 321.33 L456.40 321.61 L456.70 321.88 L457.00 322.16 L457.30 322.43 L457.60 322.70 L457.90 322.98 L458.20 323.25 L458.50 323.53 L458.80 323.80 L459.10 324.08 L459.40 324.35 L459.70 324.62 L460.00 324.90 L460.30 325.17 L460.60 325.44 L460.90 325.72 L461.20 325.99 L461.50 326.26 L461.80 326.54 L462.10 326.81 L462.40 327.08 L462.70 327.35 L463.00 327.62 L463.30 327.90 L463.60 328.17 L463.90 328.44 L464.20 328.71 L464.50 328.98 L464.80 329.25 L465.10 329.52 L465.40 329.79 L465.70 330.06 L466.00 330.33 L466.30 330.60 L466.60 330.86 L466.90 331.13 L467.20 331.40 L467.50 331.67 L467.80 331.94 L468.10 332.20 L468.40 332.47 L468.70 332.74 L469.00 333.00 L469.30 333.27 L469.60 333.53 L469.90 333.80 L470.20 334.06 L470.50 334.33 L470.80 334.59 L471.10 334.86 L471.40 335.12 L471.70 335.38 L472.00 335.64 L472.30 335.91 L472.60 336.17 L472.90 336.43 L473.20 336.69 L473.50 336.95 L473.80 337.21 L474.10 337.47 L474.40 337.73 L474.70 337.99 L475.00 338.25 L475.30 338.51 L475.60 338.77 L475.90 339.02 L476.20 339.28 L476.50 339.54 L476.80 339.79 L477.10 340.05 L477.40 340.30 L477.70 340.56 L478.00 340.81 L478.30 341.07 L478.60 341.32 L478.90 341.57 L479.20 341.83 L479.50 342.08 L479.80 342.33 L480.10 342.58 L480.40 342.83 L480.70 343.08 L481.00 343.33 L481.30 343.58 L481.60 343.83 L481.90 344.08 L482.20 344.32 L482.50 344.57 L482.80 344.82 L483.10 345.06 L483.40 345.31 L483.70 345.55 L484.00 345.80 L484.30 346.04 L484.60 346.29 L484.90 346.53 L485.20 346.77 L485.50 347.01 L485.80 347.25 L486.10 347.49 L486.40 347.73 L486.70 347.97 L487.00 348.21 L487.30 348.45 L487.60 348.69 L487.90 348.92 L488.20 349.16 L488.50 349.40 L488.80 349.63 L489.10 349.87 L489.40 350.10 L489.70 350.33 L490.00 350.57 L490.30 350.80 L490.60 351.03 L490.90 351.26 L491.20 351.49 L491.50 351.72 L491.80 351.95 L492.10 352.18 L492.40 352.40 L492.70 352.63 L493.00 352.86 L493.30 353.08 L493.60 353.31 L493.90 353.53 L494.20 353.75 L494.50 353.98 L494.80 354.20 L495.10 354.42 L495.40 354.64 L495.70 354.86 L496.00 355.08 L496.30 355.30 L496.60 355.51 L496.90 355.73 L497.20 355.95 L497.50 356.16 L497.80 356.38 L498.10 356.59 L498.40 356.81 L498.70 357.02 L499.00 357.23 L499.30 357.44 L499.60 357.65 L499.90 357.86 L500.20 358.07 L500.50 358.28 L500.80 358.48 L501.10 358.69 L501.40 358.90 L501.70 359.10 L502.00 359.30 L502.30 359.51 L502.60 359.71 L502.90 359.91 L503.20 360.11 L503.50 360.31 L503.80 360.51 L504.10 360.71 L504.40 360.91 L504.70 361.11 L505.00 361.30 L505.30 361.50 L505.60 361.69 L505.90 361.89 L506.20 362.08 L506.50 362.27 L506.80 362.46 L507.10 362.66 L507.40 362.85 L507.70 363.04 L508.00 363.22 L508.30 363.41 L508.60 363.60 L508.90 363.79 L509.20 363.97 L509.50 364.16 L509.80 364.34 L510.10 364.52 L510.40 364.71 L510.70 364.89 L511.00 365.07 L511.30 365.25 L511.60 365.43 L511.90 365.61 L512.20 365.79 L512.50 365.97 L512.80 366.14 L513.10 366.32 L513.40 366.49 L513.70 366.67 L514.00 366.84 L514.30 367.02 L514.60 367.19 L514.90 367.36 L515.20 367.53 L515.50 367.70 L515.80 367.87 L516.10 368.04 L516.40 368.21 L516.70 368.38 L517.00 368.54 L517.30 368.71 L517.60 368.87 L517.90 369.04 L518.20 369.20 L518.50 369.36 L518.80 369.53 L519.10 369.69 L519.40 369.85 L519.70 370.01 L520.00 370.17 L520.30 370.33 L520.60 370.48 L520.90 370.64 L521.20 370.80 L521.50 370.95 L521.80 371.11 L522.10 371.26 L522.40 371.42 L522.70 371.57 L523.00 371.72 L523.30 371.87 L523.60 372.02 L523.90 372.17 L524.20 372.32 L524.50 372.47 L524.80 372.62 L525.10 372.76 L525.40 372.91 L525.70 373.06 L526.00 373.20 L526.30 373.35 L526.60 373.49 L526.90 373.63 L527.20 373.77 L527.50 373.92 L527.80 374.06 L528.10 374.20 L528.40 374.33 L528.70 374.47 L529.00 374.61 L529.30 374.75 L529.60 374.88 L529.90 375.02 L530.20 375.16 L530.50 375.29 L530.80 375.42 L531.10 375.56 L531.40 375.69 L531.70 375.82 L532.00 375.95 L532.30 376.08 L532.60 376.21 L532.90 376.34 L533.20 376.47 L533.50 376.59 L533.80 376.72 L534.10 376.85 L534.40 376.97 L534.70 377.10 L535.00 377.22 L535.30 377.34 L535.60 377.47 L535.90 377.59 L536.20 377.71 L536.50 377.83 L536.80 377.95 L537.10 378.07 L537.40 378.19 L537.70 378.30 L538.00 378.42 L538.30 378.54 L538.60 378.65 L538.90 378.77 L539.20 378.88 L539.50 379.00 L539.80 379.11 L540.10 379.22 L540.40 379.33 L540.70 379.44 L541.00 379.55 L541.30 379.66 L541.60 379.77 L541.90 379.88 L542.20 379.99 L542.50 380.09 L542.80 380.20 L543.10 380.31 L543.40 380.41 L543.70 380.51 L544.00 380.62 L544.30 380.72 L544.60 380.82 L544.90 380.92 L545.20 381.02 L545.50 381.12 L545.80 381.22 L546.10 381.32 L546.40 381.42 L546.70 381.52 L547.00 381.62 L547.30 381.71 L547.60 381.81 L547.90 381.90 L548.20 382.00 L548.50 382.09 L548.80 382.18 L549.10 382.27 L549.40 382.37 L549.70 382.46 L550.00 382.55 L550.30 382.64 L550.60 382.72 L550.90 382.81 L551.20 382.90 L551.50 382.99 L551.80 383.07 L552.10 383.16 L552.40 383.24 L552.70 383.33 L553.00 383.41 L553.30 383.49 L553.60 383.58 L553.90 383.66 L554.20 383.74 L554.50 383.82 L554.80 383.90 L555.10 383.98 L555.40 384.06 L555.70 384.13 L556.00 384.21 L556.30 384.29 L556.60 384.36 L556.90 384.44 L557.20 384.51 L557.50 384.59 L557.80 384.66 L558.10 384.73 L558.40 384.81 L558.70 384.88 L559.00 384.95 L559.30 385.02 L559.60 385.09 L559.90 385.16 L560.20 385.22 L560.50 385.29 L560.80 385.36 L561.10 385.43 L561.40 385.49 L561.70 385.56 L562.00 385.62 L562.30 385.68 L562.60 385.75 L562.90 385.81 L563.20 385.87 L563.50 385.93 L563.80 385.99 L564.10 386.05 L564.40 386.11 L564.70 386.17 L565.00 386.23 L565.30 386.29 L565.60 386.34 L565.90 386.40 L566.20 386.46 L566.50 386.51 L566.80 386.57 L567.10 386.62 L567.40 386.67 L567.70 386.72 L568.00 386.78 L568.30 386.83 L568.60 386.88 L568.90 386.93 L569.20 386.98 L569.50 387.03 L569.80 387.08 L570.10 387.12 L570.40 387.17 L570.70 387.22 L571.00 387.26 L571.30 387.31 L571.60 387.35 L571.90 387.40 L572.20 387.44 L572.50 387.48 L572.80 387.52 L573.10 387.57 L573.40 387.61 L573.70 387.65 L574.00 387.69 L574.30 387.73 L574.60 387.76 L574.90 387.80 L575.20 387.84 L575.50 387.88 L575.80 387.91 L576.10 387.95 L576.40 387.98 L576.70 388.02 L577.00 388.05 L577.30 388.08 L577.60 388.12 L577.90 388.15 L578.20 388.18 L578.50 388.21 L578.80 388.24 L579.10 388.27 L579.40 388.30 L579.70 388.33 L580.00 388.36 L580.30 388.38 L580.60 388.41 L580.90 388.44 L581.20 388.46 L581.50 388.49 L581.80 388.51 L582.10 388.53 L582.40 388.56 L582.70 388.58 L583.00 388.60 L583.30 388.62 L583.60 388.64 L583.90 388.66 L584.20 388.68 L584.50 388.70 L584.80 388.72 L585.10 388.74 L585.40 388.76 L585.70 388.77 L586.00 388.79 L586.30 388.81 L586.60 388.82 L586.90 388.83 L587.20 388.85 L587.50 388.86 L587.80 388.87 L588.10 388.89 L588.40 388.90 L588.70 388.91 L589.00 388.92 L589.30 388.93 L589.60 388.94 L589.90 388.95 L590.20 388.96 L590.50 388.96 L590.80 388.97 L591.10 388.98 L591.40 388.98 L591.70 388.99 L592.00 388.99 L592.30 389.00 L592.60 389.00 L592.90 389.00 L593.20 389.01 L593.50 389.01 L593.80 389.01 L594.10 389.01 L594.40 389.01 L594.70 389.01 L595.00 389.01 L595.30 389.01 L595.60 389.01 L595.90 389.00 L596.20 389.00 L596.50 389.00 L596.80 388.99 L597.10 388.99 L597.40 388.98 L597.70 388.98 L598.00 388.97 L598.30 388.96 L598.60 388.96 L598.90 388.95 L599.20 388.94 L599.50 388.93 L599.80 388.92 L600.10 388.91 L600.40 388.90 L600.70 388.89 L601.00 388.88 L601.30 388.87 L601.60 388.85 L601.90 388.84 L602.20 388.83" stroke="#1f77b4" stroke-width="1.65"/>
</g>
<rect x="403.4" y="292" width="215.5" height="102" fill="none" stroke="#1a1a1a" stroke-width="1"/>
<line x1="399.9" y1="389.4" x2="403.4" y2="389.4" stroke="#1a1a1a" stroke-width="1"/>
<text x="388.64" y="393.85" font-size="12.7" fill="#ff7f0e" dx="0">0</text>
<line x1="399.9" y1="367.2" x2="403.4" y2="367.2" stroke="#1a1a1a" stroke-width="1"/>
<text x="381.33" y="371.65" font-size="12.7" fill="#ff7f0e" dx="0 0.25">20</text>
<line x1="399.9" y1="345" x2="403.4" y2="345" stroke="#1a1a1a" stroke-width="1"/>
<text x="381.33" y="349.45" font-size="12.7" fill="#ff7f0e" dx="0 0.25">40</text>
<line x1="399.9" y1="322.8" x2="403.4" y2="322.8" stroke="#1a1a1a" stroke-width="1"/>
<text x="381.33" y="327.25" font-size="12.7" fill="#ff7f0e" dx="0 0.25">60</text>
<line x1="399.9" y1="300.6" x2="403.4" y2="300.6" stroke="#1a1a1a" stroke-width="1"/>
<text x="381.33" y="305.05" font-size="12.7" fill="#ff7f0e" dx="0 0.25">80</text>
<line x1="618.9" y1="386.6" x2="622.4" y2="386.6" stroke="#1a1a1a" stroke-width="1"/>
<rect x="626.82" y="386.95" width="7" height="1" fill="#1f77b4"/>
<text x="634.58" y="391.05" font-size="12.7" fill="#1f77b4" dx="0 0.25 0.25 0.25">6000</text>
<line x1="618.9" y1="356.47" x2="622.4" y2="356.47" stroke="#1a1a1a" stroke-width="1"/>
<rect x="626.82" y="356.82" width="7" height="1" fill="#1f77b4"/>
<text x="634.92" y="360.92" font-size="12.7" fill="#1f77b4" dx="0 0.25 0.25 0.25">4000</text>
<line x1="618.9" y1="326.33" x2="622.4" y2="326.33" stroke="#1a1a1a" stroke-width="1"/>
<rect x="626.82" y="326.69" width="7" height="1" fill="#1f77b4"/>
<text x="634.58" y="330.78" font-size="12.7" fill="#1f77b4" dx="0 0.25 0.25 0.25">2000</text>
<line x1="618.9" y1="296.2" x2="622.4" y2="296.2" stroke="#1a1a1a" stroke-width="1"/>
<text x="625.87" y="300.65" font-size="12.7" fill="#1f77b4" dx="0">0</text>
<line x1="403.75" y1="394" x2="403.75" y2="397.5" stroke="#1a1a1a" stroke-width="1"/>
<text x="400.23" y="410.7" font-size="12.7" fill="#1a1a1a" dx="0">0</text>
<line x1="451.51" y1="394" x2="451.51" y2="397.5" stroke="#1a1a1a" stroke-width="1"/>
<text x="444.09" y="410.7" font-size="12.7" fill="#1a1a1a" dx="0 0.25">10</text>
<line x1="499.27" y1="394" x2="499.27" y2="397.5" stroke="#1a1a1a" stroke-width="1"/>
<text x="492.02" y="410.7" font-size="12.7" fill="#1a1a1a" dx="0 0.25">20</text>
<line x1="547.03" y1="394" x2="547.03" y2="397.5" stroke="#1a1a1a" stroke-width="1"/>
<text x="539.85" y="410.7" font-size="12.7" fill="#1a1a1a" dx="0 0.25">30</text>
<line x1="594.79" y1="394" x2="594.79" y2="397.5" stroke="#1a1a1a" stroke-width="1"/>
<text x="587.71" y="410.7" font-size="12.7" fill="#1a1a1a" dx="0 0.25">40</text>
<text transform="translate(374.3,343) rotate(-90)" text-anchor="middle" fill="#ff7f0e" font-size="12.8" textLength="62.68" lengthAdjust="spacingAndGlyphs">WNA [deg]</text>
<g transform="translate(679.9,343) rotate(-90)" fill="#1f77b4"><text x="-22.29" y="0" font-size="12.26">Δ</text><text x="-14.19" y="2.37" font-size="8.53" font-style="italic">d</text><text x="-5.36" y="0" font-size="12.26" textLength="27.65" lengthAdjust="spacingAndGlyphs">[km]</text></g>
<text x="366.08" y="301.7" font-size="13.2" fill="#111111" stroke="#111111" stroke-width="0.1">h</text>
<text x="374.81" y="301.7" font-size="13.2" fill="#111111">)</text>
<line x1="451.51" y1="427.6" x2="451.51" y2="528.8" stroke="#cccccc" stroke-width="1"/>
<line x1="499.27" y1="427.6" x2="499.27" y2="528.8" stroke="#cccccc" stroke-width="1"/>
<line x1="547.03" y1="427.6" x2="547.03" y2="528.8" stroke="#cccccc" stroke-width="1"/>
<line x1="594.79" y1="427.6" x2="594.79" y2="528.8" stroke="#cccccc" stroke-width="1"/>
<line x1="403.4" y1="523.7" x2="618.9" y2="523.7" stroke="#cccccc" stroke-width="1"/>
<line x1="403.4" y1="512.38" x2="618.9" y2="512.38" stroke="#cccccc" stroke-width="1"/>
<line x1="403.4" y1="501.05" x2="618.9" y2="501.05" stroke="#cccccc" stroke-width="1"/>
<line x1="403.4" y1="489.73" x2="618.9" y2="489.73" stroke="#cccccc" stroke-width="1"/>
<line x1="403.4" y1="478.4" x2="618.9" y2="478.4" stroke="#cccccc" stroke-width="1"/>
<line x1="403.4" y1="467.08" x2="618.9" y2="467.08" stroke="#cccccc" stroke-width="1"/>
<line x1="403.4" y1="455.75" x2="618.9" y2="455.75" stroke="#cccccc" stroke-width="1"/>
<line x1="403.4" y1="444.43" x2="618.9" y2="444.43" stroke="#cccccc" stroke-width="1"/>
<line x1="403.4" y1="433.1" x2="618.9" y2="433.1" stroke="#cccccc" stroke-width="1"/>
<clipPath id="cpi"><rect x="403.4" y="427.6" width="215.5" height="101.2"/></clipPath>
<g clip-path="url(#cpi)" fill="none" stroke-linejoin="round" stroke-linecap="butt">
<path d="M403.50 478.30 L403.75 477.94 L404.00 477.58 L404.25 477.22 L404.50 476.88 L404.75 476.54 L405.00 476.21 L405.25 475.89 L405.50 475.59 L405.75 475.31 L406.00 475.05 L406.25 474.81 L406.50 474.59 L406.75 474.41 L407.00 474.25 L407.25 474.12 L407.50 474.02 L407.75 473.92 L408.00 473.82 L408.25 473.72 L408.50 473.63 L408.75 473.54 L409.00 473.46 L409.25 473.38 L409.50 473.30 L409.75 473.22 L410.00 473.15 L410.25 473.09 L410.50 473.03 L410.75 472.97 L411.00 472.92 L411.25 472.87 L411.50 472.83 L411.75 472.79 L412.00 472.76 L412.25 472.74 L412.50 472.72 L412.75 472.71 L413.00 472.70 L413.25 472.70 L413.50 472.71 L413.75 472.74 L414.00 472.77 L414.25 472.81 L414.50 472.86 L414.75 472.91 L415.00 472.97 L415.25 473.04 L415.50 473.12 L415.75 473.20 L416.00 473.28 L416.25 473.37 L416.50 473.46 L416.75 473.55 L417.00 473.65 L417.25 473.74 L417.50 473.84 L417.75 473.93 L418.00 474.03 L418.25 474.12 L418.50 474.22 L418.75 474.32 L419.00 474.43 L419.25 474.55 L419.50 474.68 L419.75 474.81 L420.00 474.94 L420.25 475.08 L420.50 475.23 L420.75 475.37 L421.00 475.52 L421.25 475.67 L421.50 475.83 L421.75 475.98 L422.00 476.14 L422.25 476.30 L422.50 476.45 L422.75 476.61 L423.00 476.76 L423.25 476.91 L423.50 477.06 L423.75 477.21 L424.00 477.38 L424.25 477.54 L424.50 477.71 L424.75 477.89 L425.00 478.06 L425.25 478.24 L425.50 478.42 L425.75 478.61 L426.00 478.79 L426.25 478.97 L426.50 479.14 L426.75 479.32 L427.00 479.49 L427.25 479.65 L427.50 479.81 L427.75 479.97 L428.00 480.12 L428.25 480.26 L428.50 480.39 L428.75 480.51 L429.00 480.62 L429.25 480.72 L429.50 480.82 L429.75 480.91 L430.00 481.01 L430.25 481.11 L430.50 481.21 L430.75 481.30 L431.00 481.40 L431.25 481.49 L431.50 481.58 L431.75 481.67 L432.00 481.75 L432.25 481.84 L432.50 481.92 L432.75 481.99 L433.00 482.07 L433.25 482.13 L433.50 482.20 L433.75 482.26 L434.00 482.31 L434.25 482.36 L434.50 482.40 L434.75 482.43 L435.00 482.46 L435.25 482.48 L435.50 482.49 L435.75 482.50 L436.00 482.50 L436.25 482.49 L436.50 482.48 L436.75 482.46 L437.00 482.44 L437.25 482.42 L437.50 482.39 L437.75 482.36 L438.00 482.33 L438.25 482.29 L438.50 482.25 L438.75 482.21 L439.00 482.17 L439.25 482.12 L439.50 482.07 L439.75 482.03 L440.00 481.98 L440.25 481.93 L440.50 481.88 L440.75 481.83 L441.00 481.78 L441.25 481.73 L441.50 481.67 L441.75 481.61 L442.00 481.54 L442.25 481.47 L442.50 481.39 L442.75 481.32 L443.00 481.23 L443.25 481.15 L443.50 481.06 L443.75 480.97 L444.00 480.87 L444.25 480.77 L444.50 480.67 L444.75 480.56 L445.00 480.46 L445.25 480.35 L445.50 480.23 L445.75 480.12 L446.00 480.00 L446.25 479.87 L446.50 479.72 L446.75 479.55 L447.00 479.37 L447.25 479.19 L447.50 479.01 L447.75 478.83 L448.00 478.65 L448.25 478.49 L448.50 478.35 L448.75 478.23 L449.00 478.11 L449.25 478.01 L449.50 477.91 L449.75 477.81 L450.00 477.72 L450.25 477.63 L450.50 477.54 L450.75 477.45 L451.00 477.37 L451.25 477.28 L451.50 477.20 L451.75 477.11 L452.00 477.01 L452.25 476.92 L452.50 476.82 L452.75 476.72 L453.00 476.63 L453.25 476.53 L453.50 476.43 L453.75 476.33 L454.00 476.23 L454.25 476.13 L454.50 476.02 L454.75 475.91 L455.00 475.80 L455.25 475.68 L455.50 475.56 L455.75 475.43 L456.00 475.30 L456.25 475.17 L456.50 475.03 L456.75 474.90 L457.00 474.76 L457.25 474.61 L457.50 474.47 L457.75 474.33 L458.00 474.19 L458.25 474.05 L458.50 473.92 L458.75 473.78 L459.00 473.65 L459.25 473.52 L459.50 473.40 L459.75 473.28 L460.00 473.16 L460.25 473.05 L460.50 472.94 L460.75 472.83 L461.00 472.72 L461.25 472.62 L461.50 472.51 L461.75 472.40 L462.00 472.30 L462.25 472.19 L462.50 472.08 L462.75 471.98 L463.00 471.87 L463.25 471.75 L463.50 471.64 L463.75 471.52 L464.00 471.40 L464.25 471.28 L464.50 471.16 L464.75 471.03 L465.00 470.91 L465.25 470.78 L465.50 470.65 L465.75 470.52 L466.00 470.39 L466.25 470.26 L466.50 470.13 L466.75 470.00 L467.00 469.87 L467.25 469.74 L467.50 469.61 L467.75 469.48 L468.00 469.35 L468.25 469.22 L468.50 469.10 L468.75 468.98 L469.00 468.86 L469.25 468.74 L469.50 468.63 L469.75 468.51 L470.00 468.40 L470.25 468.28 L470.50 468.16 L470.75 468.04 L471.00 467.92 L471.25 467.79 L471.50 467.66 L471.75 467.53 L472.00 467.39 L472.25 467.25 L472.50 467.10 L472.75 466.95 L473.00 466.79 L473.25 466.62 L473.50 466.45 L473.75 466.27 L474.00 466.09 L474.25 465.90 L474.50 465.71 L474.75 465.52 L475.00 465.32 L475.25 465.12 L475.50 464.92 L475.75 464.71 L476.00 464.50 L476.25 464.29 L476.50 464.08 L476.75 463.87 L477.00 463.66 L477.25 463.44 L477.50 463.23 L477.75 463.01 L478.00 462.80 L478.25 462.58 L478.50 462.36 L478.75 462.13 L479.00 461.89 L479.25 461.65 L479.50 461.40 L479.75 461.16 L480.00 460.91 L480.25 460.66 L480.50 460.42 L480.75 460.17 L481.00 459.93 L481.25 459.70 L481.50 459.47 L481.75 459.24 L482.00 459.03 L482.25 458.82 L482.50 458.62 L482.75 458.41 L483.00 458.19 L483.25 457.96 L483.50 457.73 L483.75 457.50 L484.00 457.28 L484.25 457.07 L484.50 456.88 L484.75 456.71 L485.00 456.56 L485.25 456.44 L485.50 456.36 L485.75 456.31 L486.00 456.30 L486.25 456.31 L486.50 456.34 L486.75 456.37 L487.00 456.42 L487.25 456.47 L487.50 456.52 L487.75 456.59 L488.00 456.65 L488.25 456.72 L488.50 456.78 L488.75 456.85 L489.00 456.91 L489.25 456.97 L489.50 457.02 L489.75 457.08 L490.00 457.14 L490.25 457.20 L490.50 457.27 L490.75 457.34 L491.00 457.41 L491.25 457.48 L491.50 457.55 L491.75 457.62 L492.00 457.68 L492.25 457.75 L492.50 457.81 L492.75 457.87 L493.00 457.92 L493.25 457.97 L493.50 458.01 L493.75 458.05 L494.00 458.07 L494.25 458.09 L494.50 458.10 L494.75 458.10 L495.00 458.07 L495.25 458.02 L495.50 457.95 L495.75 457.86 L496.00 457.75 L496.25 457.63 L496.50 457.50 L496.75 457.35 L497.00 457.20 L497.25 457.05 L497.50 456.89 L497.75 456.72 L498.00 456.56 L498.25 456.40 L498.50 456.19 L498.75 455.95 L499.00 455.68 L499.25 455.38 L499.50 455.06 L499.75 454.73 L500.00 454.39 L500.25 454.04 L500.50 453.70 L500.75 453.37 L501.00 453.04 L501.25 452.74 L501.50 452.46 L501.75 452.21 L502.00 452.00 L502.25 451.83 L502.50 451.70 L502.75 451.60 L503.00 451.50 L503.25 451.41 L503.50 451.31 L503.75 451.23 L504.00 451.15 L504.25 451.07 L504.50 451.00 L504.75 450.95 L505.00 450.90 L505.25 450.85 L505.50 450.82 L505.75 450.81 L506.00 450.80 L506.25 450.82 L506.50 450.87 L506.75 450.95 L507.00 451.06 L507.25 451.19 L507.50 451.34 L507.75 451.50 L508.00 451.66 L508.25 451.83 L508.50 452.00 L508.75 452.17 L509.00 452.32 L509.25 452.46 L509.50 452.58 L509.75 452.68 L510.00 452.75 L510.25 452.79 L510.50 452.80 L510.75 452.78 L511.00 452.74 L511.25 452.69 L511.50 452.62 L511.75 452.54 L512.00 452.44 L512.25 452.33 L512.50 452.21 L512.75 452.08 L513.00 451.94 L513.25 451.80 L513.50 451.64 L513.75 451.49 L514.00 451.33 L514.25 451.16 L514.50 451.00 L514.75 450.83 L515.00 450.65 L515.25 450.40 L515.50 450.10 L515.75 449.76 L516.00 449.40 L516.25 449.02 L516.50 448.64 L516.75 448.27 L517.00 447.92 L517.25 447.60 L517.50 447.33 L517.75 447.11 L518.00 446.97 L518.25 446.90 L518.50 446.91 L518.75 446.97 L519.00 447.05 L519.25 447.17 L519.50 447.32 L519.75 447.49 L520.00 447.68 L520.25 447.88 L520.50 448.10 L520.75 448.32 L521.00 448.54 L521.25 448.76 L521.50 448.98 L521.75 449.18 L522.00 449.37 L522.25 449.55 L522.50 449.70 L522.75 449.83 L523.00 449.92 L523.25 449.98 L523.50 450.00 L523.75 449.98 L524.00 449.91 L524.25 449.80 L524.50 449.66 L524.75 449.49 L525.00 449.29 L525.25 449.07 L525.50 448.83 L525.75 448.58 L526.00 448.32 L526.25 448.06 L526.50 447.79 L526.75 447.53 L527.00 447.28 L527.25 447.04 L527.50 446.81 L527.75 446.61 L528.00 446.43 L528.25 446.24 L528.50 446.04 L528.75 445.83 L529.00 445.62 L529.25 445.41 L529.50 445.21 L529.75 445.02 L530.00 444.84 L530.25 444.68 L530.50 444.54 L530.75 444.43 L531.00 444.35 L531.25 444.31 L531.50 444.31 L531.75 444.37 L532.00 444.50 L532.25 444.69 L532.50 444.91 L532.75 445.16 L533.00 445.43 L533.25 445.71 L533.50 445.98 L533.75 446.24 L534.00 446.47 L534.25 446.66 L534.50 446.81 L534.75 446.89 L535.00 446.90 L535.25 446.84 L535.50 446.74 L535.75 446.60 L536.00 446.41 L536.25 446.20 L536.50 445.96 L536.75 445.70 L537.00 445.43 L537.25 445.15 L537.50 444.87 L537.75 444.60 L538.00 444.34 L538.25 444.10 L538.50 443.89 L538.75 443.70 L539.00 443.56 L539.25 443.46 L539.50 443.40 L539.75 443.41 L540.00 443.44 L540.25 443.51 L540.50 443.60 L540.75 443.71 L541.00 443.84 L541.25 443.99 L541.50 444.14 L541.75 444.30 L542.00 444.47 L542.25 444.63 L542.50 444.78 L542.75 444.93 L543.00 445.06 L543.25 445.18 L543.50 445.28 L543.75 445.35 L544.00 445.39 L544.25 445.40 L544.50 445.34 L544.75 445.21 L545.00 445.01 L545.25 444.76 L545.50 444.47 L545.75 444.15 L546.00 443.81 L546.25 443.46 L546.50 443.12 L546.75 442.80 L547.00 442.50 L547.25 442.24 L547.50 442.03 L547.75 441.88 L548.00 441.81 L548.25 441.81 L548.50 441.85 L548.75 441.92 L549.00 442.03 L549.25 442.16 L549.50 442.31 L549.75 442.48 L550.00 442.65 L550.25 442.84 L550.50 443.02 L550.75 443.21 L551.00 443.39 L551.25 443.56 L551.50 443.71 L551.75 443.85 L552.00 443.96 L552.25 444.04 L552.50 444.09 L552.75 444.10 L553.00 444.06 L553.25 443.97 L553.50 443.84 L553.75 443.66 L554.00 443.46 L554.25 443.23 L554.50 442.98 L554.75 442.72 L555.00 442.45 L555.25 442.18 L555.50 441.92 L555.75 441.67 L556.00 441.44 L556.25 441.24 L556.50 441.06 L556.75 440.93 L557.00 440.84 L557.25 440.80 L557.50 440.82 L557.75 440.89 L558.00 441.01 L558.25 441.17 L558.50 441.36 L558.75 441.58 L559.00 441.81 L559.25 442.05 L559.50 442.29 L559.75 442.53 L560.00 442.75 L560.25 442.96 L560.50 443.13 L560.75 443.27 L561.00 443.36 L561.25 443.40 L561.50 443.38 L561.75 443.28 L562.00 443.13 L562.25 442.93 L562.50 442.67 L562.75 442.39 L563.00 442.07 L563.25 441.74 L563.50 441.39 L563.75 441.04 L564.00 440.69 L564.25 440.36 L564.50 440.05 L564.75 439.77 L565.00 439.53 L565.25 439.33 L565.50 439.19 L565.75 439.11 L566.00 439.11 L566.25 439.21 L566.50 439.41 L566.75 439.69 L567.00 440.01 L567.25 440.38 L567.50 440.75 L567.75 441.12 L568.00 441.45 L568.25 441.74 L568.50 441.95 L568.75 442.08 L569.00 442.09 L569.25 442.01 L569.50 441.86 L569.75 441.63 L570.00 441.36 L570.25 441.06 L570.50 440.72 L570.75 440.38 L571.00 440.04 L571.25 439.72 L571.50 439.42 L571.75 439.17 L572.00 438.97 L572.25 438.85 L572.50 438.80 L572.75 438.85 L573.00 439.00 L573.25 439.22 L573.50 439.50 L573.75 439.82 L574.00 440.16 L574.25 440.51 L574.50 440.85 L574.75 441.16 L575.00 441.43 L575.25 441.64 L575.50 441.77 L575.75 441.80 L576.00 441.70 L576.25 441.49 L576.50 441.18 L576.75 440.79 L577.00 440.36 L577.25 439.89 L577.50 439.43 L577.75 438.98 L578.00 438.57 L578.25 438.23 L578.50 437.97 L578.75 437.83 L579.00 437.81 L579.25 437.94 L579.50 438.20 L579.75 438.56 L580.00 438.99 L580.25 439.48 L580.50 440.00 L580.75 440.52 L581.00 441.02 L581.25 441.48 L581.50 441.87 L581.75 442.17 L582.00 442.35 L582.25 442.40 L582.50 442.29 L582.75 442.04 L583.00 441.68 L583.25 441.23 L583.50 440.72 L583.75 440.17 L584.00 439.62 L584.25 439.08 L584.50 438.58 L584.75 438.14 L585.00 437.80 L585.25 437.58 L585.50 437.50 L585.75 437.56 L586.00 437.73 L586.25 437.98 L586.50 438.31 L586.75 438.70 L587.00 439.12 L587.25 439.56 L587.50 440.01 L587.75 440.44 L588.00 440.84 L588.25 441.19 L588.50 441.48 L588.75 441.69 L589.00 441.79 L589.25 441.77 L589.50 441.60 L589.75 441.29 L590.00 440.89 L590.25 440.40 L590.50 439.86 L590.75 439.30 L591.00 438.74 L591.25 438.20 L591.50 437.71 L591.75 437.31 L592.00 437.00 L592.25 436.83 L592.50 436.81 L592.75 436.90 L593.00 437.08 L593.25 437.33 L593.50 437.65 L593.75 438.02 L594.00 438.42 L594.25 438.84 L594.50 439.27 L594.75 439.70 L595.00 440.10 L595.25 440.48 L595.50 440.81 L595.75 441.08 L596.00 441.27 L596.25 441.38 L596.50 441.39 L596.75 441.25 L597.00 440.99 L597.25 440.61 L597.50 440.15 L597.75 439.63 L598.00 439.06 L598.25 438.48 L598.50 437.91 L598.75 437.36 L599.00 436.86 L599.25 436.43 L599.50 436.09 L599.75 435.88 L600.00 435.80 L600.25 435.90 L600.50 436.19 L600.75 436.63 L601.00 437.18 L601.25 437.83 L601.50 438.52 L601.75 439.24 L602.00 439.94 L602.25 440.59 L602.50 441.17 L602.75 441.63 L603.00 441.95 L603.25 442.10 L603.50 442.02 L603.75 441.73 L604.00 441.25 L604.25 440.64 L604.50 439.92 L604.75 439.13 L605.00 438.33 L605.25 437.54 L605.50 436.80 L605.75 436.16 L606.00 435.65 L606.25 435.32 L606.50 435.20 L606.75 435.28 L607.00 435.52 L607.25 435.88 L607.50 436.36 L607.75 436.92 L608.00 437.54 L608.25 438.21 L608.50 438.90 L608.75 439.59 L609.00 440.26 L609.25 440.88 L609.50 441.44 L609.75 441.92 L610.00 442.28 L610.25 442.52 L610.50 442.60 L610.75 442.47 L611.00 442.10 L611.25 441.54 L611.50 440.82 L611.75 439.99 L612.00 439.10 L612.25 438.18 L612.50 437.28 L612.75 436.44 L613.00 435.70 L613.25 435.10 L613.50 434.69 L613.75 434.51 L614.00 434.54 L614.25 434.70 L614.50 434.97 L614.75 435.33 L615.00 435.77 L615.25 436.27 L615.50 436.83 L615.75 437.42 L616.00 438.04 L616.25 438.67 L616.50 439.29 L616.75 439.90 L617.00 440.47 L617.25 441.00 L617.50 441.48 L617.75 441.87 L618.00 442.23 L618.25 442.57 L618.50 442.90 L618.75 443.20 L619.00 443.50" stroke="#ff7f0e" stroke-width="1.65"/>
<path d="M461.60 473.58 L462.10 473.17 L462.60 472.77 L463.10 472.36 L463.60 471.96 L464.10 471.57 L464.60 471.18 L465.10 470.79 L465.60 470.41 L466.10 470.03 L466.60 469.65 L467.10 469.28 L467.60 468.91 L468.10 468.54 L468.60 468.18 L469.10 467.82 L469.60 467.46 L470.10 467.11 L470.60 466.76 L471.10 466.42 L471.60 466.08 L472.10 465.74 L472.60 465.40 L473.10 465.07 L473.60 464.74 L474.10 464.42 L474.60 464.10 L475.10 463.78 L475.60 463.46 L476.10 463.15 L476.60 462.84 L477.10 462.53 L477.60 462.23 L478.10 461.93 L478.60 461.63 L479.10 461.34 L479.60 461.05 L480.10 460.76 L480.60 460.47 L481.10 460.19 L481.60 459.91 L482.10 459.63 L482.60 459.36 L483.10 459.09 L483.60 458.82 L484.10 458.55 L484.60 458.29 L485.10 458.03 L485.60 457.77 L486.10 457.52 L486.60 457.26 L487.10 457.01 L487.60 456.77 L488.10 456.52 L488.60 456.28 L489.10 456.04 L489.60 455.80 L490.10 455.57 L490.60 455.34 L491.10 455.11 L491.60 454.88 L492.10 454.65 L492.60 454.43 L493.10 454.21 L493.60 453.99 L494.10 453.78 L494.60 453.56 L495.10 453.35 L495.60 453.14 L496.10 452.93 L496.60 452.73 L497.10 452.52 L497.60 452.32 L498.10 452.12 L498.60 451.93 L499.10 451.73 L499.60 451.54 L500.10 451.35 L500.60 451.16 L501.10 450.97 L501.60 450.79 L502.10 450.60 L502.60 450.42 L503.10 450.24 L503.60 450.06 L504.10 449.89 L504.60 449.71 L505.10 449.54 L505.60 449.37 L506.10 449.20 L506.60 449.03 L507.10 448.86 L507.60 448.70 L508.10 448.53 L508.60 448.37 L509.10 448.21 L509.60 448.05 L510.10 447.90 L510.60 447.74 L511.10 447.59 L511.60 447.43 L512.10 447.28 L512.60 447.13 L513.10 446.98 L513.60 446.83 L514.10 446.69 L514.60 446.54 L515.10 446.40 L515.60 446.25 L516.10 446.11 L516.60 445.97 L517.10 445.83 L517.60 445.69 L518.10 445.55 L518.60 445.42 L519.10 445.28 L519.60 445.15 L520.10 445.01 L520.60 444.88 L521.10 444.75 L521.60 444.62 L522.10 444.49 L522.60 444.36 L523.10 444.23 L523.60 444.10 L524.10 443.97 L524.60 443.85 L525.10 443.72 L525.60 443.60 L526.10 443.48 L526.60 443.35 L527.10 443.23 L527.60 443.11 L528.10 442.99 L528.60 442.87 L529.10 442.75 L529.60 442.63 L530.10 442.52 L530.60 442.40 L531.10 442.28 L531.60 442.17 L532.10 442.05 L532.60 441.94 L533.10 441.83 L533.60 441.72 L534.10 441.60 L534.60 441.49 L535.10 441.38 L535.60 441.27 L536.10 441.17 L536.60 441.06 L537.10 440.95 L537.60 440.84 L538.10 440.74 L538.60 440.63 L539.10 440.53 L539.60 440.43 L540.10 440.32 L540.60 440.22 L541.10 440.12 L541.60 440.02 L542.10 439.92 L542.60 439.82 L543.10 439.72 L543.60 439.62 L544.10 439.52 L544.60 439.43 L545.10 439.33 L545.60 439.24 L546.10 439.14 L546.60 439.05 L547.10 438.95 L547.60 438.86 L548.10 438.77 L548.60 438.67 L549.10 438.58 L549.60 438.49 L550.10 438.40 L550.60 438.31 L551.10 438.22 L551.60 438.13 L552.10 438.05 L552.60 437.96 L553.10 437.87 L553.60 437.79 L554.10 437.70 L554.60 437.61 L555.10 437.53 L555.60 437.45 L556.10 437.36 L556.60 437.28 L557.10 437.20 L557.60 437.12 L558.10 437.03 L558.60 436.95 L559.10 436.87 L559.60 436.79 L560.10 436.71 L560.60 436.63 L561.10 436.56 L561.60 436.48 L562.10 436.40 L562.60 436.32 L563.10 436.25 L563.60 436.17 L564.10 436.09 L564.60 436.02 L565.10 435.95 L565.60 435.87 L566.10 435.80 L566.60 435.72 L567.10 435.65 L567.60 435.58 L568.10 435.51 L568.60 435.43 L569.10 435.36 L569.60 435.29 L570.10 435.22 L570.60 435.15 L571.10 435.08 L571.60 435.01 L572.10 434.94 L572.60 434.88 L573.10 434.81 L573.60 434.74 L574.10 434.67 L574.60 434.61 L575.10 434.54 L575.60 434.47 L576.10 434.41 L576.60 434.34 L577.10 434.28 L577.60 434.21 L578.10 434.15 L578.60 434.08 L579.10 434.02 L579.60 433.96 L580.10 433.89 L580.60 433.83 L581.10 433.77 L581.60 433.70 L582.10 433.64 L582.60 433.58 L583.10 433.52 L583.60 433.46 L584.10 433.40 L584.60 433.34 L585.10 433.28 L585.60 433.22 L586.10 433.16 L586.60 433.10 L587.10 433.04 L587.60 432.98 L588.10 432.92 L588.60 432.86 L589.10 432.80 L589.60 432.75 L590.10 432.69 L590.60 432.63 L591.10 432.57 L591.60 432.52 L592.10 432.46 L592.60 432.40 L593.10 432.35 L593.60 432.29 L594.10 432.23 L594.60 432.18 L595.10 432.12 L595.60 432.07 L596.10 432.01 L596.60 431.96 L597.10 431.90 L597.60 431.85 L598.10 431.79 L598.60 431.74 L599.10 431.68 L599.60 431.63 L600.10 431.57 L600.60 431.52 L601.10 431.47 L601.60 431.41 L602.10 431.36 L602.60 431.30 L603.10 431.25 L603.60 431.20 L604.10 431.14 L604.60 431.09 L605.10 431.04 L605.60 430.98 L606.10 430.93 L606.60 430.88 L607.10 430.83 L607.60 430.77 L608.10 430.72 L608.60 430.67 L609.10 430.62 L609.60 430.56 L610.10 430.51 L610.60 430.46 L611.10 430.41 L611.60 430.35 L612.10 430.30 L612.60 430.25 L613.10 430.20 L613.60 430.15 L614.10 430.09 L614.60 430.04 L615.10 429.99 L615.60 429.94 L616.10 429.88 L616.60 429.83 L617.10 429.78 L617.60 429.73 L618.10 429.68 L618.60 429.62 L619.00 429.58" stroke="#d62728" stroke-width="1.5" stroke-dasharray="5.2 2.8"/>
<path d="M403.50 478.30 L403.75 478.32 L404.00 478.38 L404.25 478.46 L404.50 478.58 L404.75 478.72 L405.00 478.88 L405.25 479.07 L405.50 479.27 L405.75 479.49 L406.00 479.73 L406.25 479.98 L406.50 480.23 L406.75 480.50 L407.00 480.77 L407.25 481.05 L407.50 481.34 L407.75 481.70 L408.00 482.11 L408.25 482.57 L408.50 483.06 L408.75 483.59 L409.00 484.14 L409.25 484.71 L409.50 485.29 L409.75 485.87 L410.00 486.45 L410.25 487.01 L410.50 487.59 L410.75 488.18 L411.00 488.80 L411.25 489.43 L411.50 490.07 L411.75 490.72 L412.00 491.37 L412.25 492.03 L412.50 492.68 L412.75 493.32 L413.00 493.95 L413.25 494.57 L413.50 495.19 L413.75 495.81 L414.00 496.42 L414.25 497.04 L414.50 497.65 L414.75 498.26 L415.00 498.87 L415.25 499.47 L415.50 500.08 L415.75 500.67 L416.00 501.26 L416.25 501.86 L416.50 502.48 L416.75 503.12 L417.00 503.77 L417.25 504.43 L417.50 505.07 L417.75 505.69 L418.00 506.27 L418.25 506.82 L418.50 507.31 L418.75 507.74 L419.00 508.10 L419.25 508.42 L419.50 508.73 L419.75 509.04 L420.00 509.34 L420.25 509.64 L420.50 509.92 L420.75 510.20 L421.00 510.45 L421.25 510.69 L421.50 510.92 L421.75 511.12 L422.00 511.30 L422.25 511.46 L422.50 511.58 L422.75 511.69 L423.00 511.76 L423.25 511.79 L423.50 511.80 L423.75 511.78 L424.00 511.74 L424.25 511.68 L424.50 511.60 L424.75 511.50 L425.00 511.39 L425.25 511.27 L425.50 511.13 L425.75 510.97 L426.00 510.81 L426.25 510.64 L426.50 510.46 L426.75 510.27 L427.00 510.07 L427.25 509.87 L427.50 509.67 L427.75 509.46 L428.00 509.21 L428.25 508.91 L428.50 508.57 L428.75 508.18 L429.00 507.76 L429.25 507.31 L429.50 506.83 L429.75 506.34 L430.00 505.83 L430.25 505.32 L430.50 504.80 L430.75 504.28 L431.00 503.78 L431.25 503.29 L431.50 502.81 L431.75 502.33 L432.00 501.83 L432.25 501.33 L432.50 500.82 L432.75 500.30 L433.00 499.78 L433.25 499.25 L433.50 498.73 L433.75 498.21 L434.00 497.69 L434.25 497.18 L434.50 496.67 L434.75 496.18 L435.00 495.70 L435.25 495.22 L435.50 494.75 L435.75 494.27 L436.00 493.79 L436.25 493.31 L436.50 492.84 L436.75 492.38 L437.00 491.92 L437.25 491.47 L437.50 491.03 L437.75 490.60 L438.00 490.18 L438.25 489.78 L438.50 489.40 L438.75 489.03 L439.00 488.67 L439.25 488.32 L439.50 487.98 L439.75 487.64 L440.00 487.31 L440.25 486.99 L440.50 486.68 L440.75 486.37 L441.00 486.08 L441.25 485.79 L441.50 485.52 L441.75 485.25 L442.00 484.99 L442.25 484.75 L442.50 484.51 L442.75 484.27 L443.00 484.03 L443.25 483.80 L443.50 483.57 L443.75 483.35 L444.00 483.13 L444.25 482.92 L444.50 482.73 L444.75 482.54 L445.00 482.36 L445.25 482.20 L445.50 482.05 L445.75 481.92 L446.00 481.80 L446.25 481.69 L446.50 481.59 L446.75 481.48 L447.00 481.38 L447.25 481.28 L447.50 481.18 L447.75 481.08 L448.00 480.99 L448.25 480.91 L448.50 480.83 L448.75 480.76 L449.00 480.69 L449.25 480.64 L449.50 480.59 L449.75 480.55 L450.00 480.52 L450.25 480.51 L450.50 480.50 L450.75 480.50 L451.00 480.51 L451.25 480.52 L451.50 480.54 L451.75 480.56 L452.00 480.58 L452.25 480.61 L452.50 480.64 L452.75 480.67 L453.00 480.71 L453.25 480.75 L453.50 480.79 L453.75 480.83 L454.00 480.87 L454.25 480.91 L454.50 480.95 L454.75 481.00 L455.00 481.04 L455.25 481.08 L455.50 481.12 L455.75 481.16 L456.00 481.20 L456.25 481.24 L456.50 481.29 L456.75 481.33 L457.00 481.39 L457.25 481.44 L457.50 481.50 L457.75 481.56 L458.00 481.62 L458.25 481.68 L458.50 481.74 L458.75 481.80 L459.00 481.86 L459.25 481.92 L459.50 481.97 L459.75 482.02 L460.00 482.06 L460.25 482.10 L460.50 482.14 L460.75 482.16 L461.00 482.18 L461.25 482.20 L461.50 482.20 L461.75 482.20 L462.00 482.18 L462.25 482.16 L462.50 482.14 L462.75 482.10 L463.00 482.06 L463.25 482.02 L463.50 481.97 L463.75 481.91 L464.00 481.85 L464.25 481.78 L464.50 481.71 L464.75 481.64 L465.00 481.56 L465.25 481.48 L465.50 481.40 L465.75 481.31 L466.00 481.22 L466.25 481.13 L466.50 481.04 L466.75 480.95 L467.00 480.86 L467.25 480.76 L467.50 480.64 L467.75 480.51 L468.00 480.37 L468.25 480.21 L468.50 480.05 L468.75 479.88 L469.00 479.70 L469.25 479.51 L469.50 479.31 L469.75 479.11 L470.00 478.91 L470.25 478.70 L470.50 478.48 L470.75 478.27 L471.00 478.06 L471.25 477.84 L471.50 477.62 L471.75 477.41 L472.00 477.20 L472.25 476.98 L472.50 476.74 L472.75 476.49 L473.00 476.23 L473.25 475.96 L473.50 475.68 L473.75 475.40 L474.00 475.13 L474.25 474.86 L474.50 474.60 L474.75 474.36 L475.00 474.13 L475.25 473.92 L475.50 473.73 L475.75 473.57 L476.00 473.41 L476.25 473.26 L476.50 473.10 L476.75 472.95 L477.00 472.80 L477.25 472.66 L477.50 472.53 L477.75 472.40 L478.00 472.29 L478.25 472.20 L478.50 472.12 L478.75 472.06 L479.00 472.02 L479.25 472.00 L479.50 472.02 L479.75 472.08 L480.00 472.18 L480.25 472.33 L480.50 472.52 L480.75 472.75 L481.00 473.01 L481.25 473.30 L481.50 473.63 L481.75 473.99 L482.00 474.38 L482.25 474.79 L482.50 475.22 L482.75 475.67 L483.00 476.15 L483.25 476.64 L483.50 477.14 L483.75 477.66 L484.00 478.19 L484.25 478.72 L484.50 479.27 L484.75 479.81 L485.00 480.36 L485.25 480.91 L485.50 481.45 L485.75 481.99 L486.00 482.52 L486.25 483.05 L486.50 483.56 L486.75 484.06 L487.00 484.54 L487.25 485.01 L487.50 485.46 L487.75 485.88 L488.00 486.28 L488.25 486.66 L488.50 487.00 L488.75 487.32 L489.00 487.60 L489.25 487.85 L489.50 488.06 L489.75 488.23 L490.00 488.37 L490.25 488.45 L490.50 488.50 L490.75 488.49 L491.00 488.42 L491.25 488.29 L491.50 488.10 L491.75 487.85 L492.00 487.56 L492.25 487.22 L492.50 486.84 L492.75 486.41 L493.00 485.95 L493.25 485.46 L493.50 484.94 L493.75 484.39 L494.00 483.82 L494.25 483.23 L494.50 482.62 L494.75 482.01 L495.00 481.38 L495.25 480.75 L495.50 480.12 L495.75 479.49 L496.00 478.87 L496.25 478.25 L496.50 477.65 L496.75 477.07 L497.00 476.50 L497.25 475.96 L497.50 475.44 L497.75 474.95 L498.00 474.50 L498.25 474.08 L498.50 473.71 L498.75 473.38 L499.00 473.09 L499.25 472.86 L499.50 472.68 L499.75 472.56 L500.00 472.51 L500.25 472.52 L500.50 472.62 L500.75 472.81 L501.00 473.09 L501.25 473.44 L501.50 473.86 L501.75 474.34 L502.00 474.88 L502.25 475.46 L502.50 476.09 L502.75 476.76 L503.00 477.45 L503.25 478.17 L503.50 478.90 L503.75 479.65 L504.00 480.40 L504.25 481.15 L504.50 481.89 L504.75 482.61 L505.00 483.31 L505.25 483.98 L505.50 484.62 L505.75 485.21 L506.00 485.76 L506.25 486.25 L506.50 486.68 L506.75 487.05 L507.00 487.34 L507.25 487.55 L507.50 487.67 L507.75 487.70 L508.00 487.63 L508.25 487.47 L508.50 487.22 L508.75 486.89 L509.00 486.49 L509.25 486.02 L509.50 485.49 L509.75 484.91 L510.00 484.29 L510.25 483.62 L510.50 482.93 L510.75 482.20 L511.00 481.46 L511.25 480.71 L511.50 479.95 L511.75 479.19 L512.00 478.44 L512.25 477.70 L512.50 476.99 L512.75 476.31 L513.00 475.66 L513.25 475.05 L513.50 474.49 L513.75 473.98 L514.00 473.54 L514.25 473.17 L514.50 472.87 L514.75 472.66 L515.00 472.53 L515.25 472.50 L515.50 472.60 L515.75 472.81 L516.00 473.14 L516.25 473.57 L516.50 474.09 L516.75 474.69 L517.00 475.35 L517.25 476.08 L517.50 476.85 L517.75 477.66 L518.00 478.49 L518.25 479.33 L518.50 480.18 L518.75 481.01 L519.00 481.83 L519.25 482.62 L519.50 483.36 L519.75 484.05 L520.00 484.68 L520.25 485.23 L520.50 485.70 L520.75 486.07 L521.00 486.33 L521.25 486.48 L521.50 486.49 L521.75 486.34 L522.00 486.05 L522.25 485.63 L522.50 485.09 L522.75 484.45 L523.00 483.72 L523.25 482.93 L523.50 482.07 L523.75 481.17 L524.00 480.25 L524.25 479.31 L524.50 478.38 L524.75 477.46 L525.00 476.58 L525.25 475.75 L525.50 474.98 L525.75 474.28 L526.00 473.68 L526.25 473.19 L526.50 472.81 L526.75 472.58 L527.00 472.50 L527.25 472.59 L527.50 472.86 L527.75 473.28 L528.00 473.83 L528.25 474.51 L528.50 475.28 L528.75 476.14 L529.00 477.05 L529.25 478.02 L529.50 479.00 L529.75 480.00 L530.00 480.98 L530.25 481.93 L530.50 482.84 L530.75 483.68 L531.00 484.43 L531.25 485.09 L531.50 485.62 L531.75 486.01 L532.00 486.24 L532.25 486.30 L532.50 486.17 L532.75 485.86 L533.00 485.41 L533.25 484.82 L533.50 484.12 L533.75 483.32 L534.00 482.44 L534.25 481.51 L534.50 480.54 L534.75 479.55 L535.00 478.56 L535.25 477.59 L535.50 476.66 L535.75 475.78 L536.00 474.98 L536.25 474.28 L536.50 473.69 L536.75 473.24 L537.00 472.93 L537.25 472.80 L537.50 472.87 L537.75 473.16 L538.00 473.63 L538.25 474.27 L538.50 475.05 L538.75 475.93 L539.00 476.90 L539.25 477.93 L539.50 478.99 L539.75 480.05 L540.00 481.09 L540.25 482.09 L540.50 483.01 L540.75 483.83 L541.00 484.53 L541.25 485.07 L541.50 485.44 L541.75 485.60 L542.00 485.53 L542.25 485.24 L542.50 484.77 L542.75 484.13 L543.00 483.35 L543.25 482.47 L543.50 481.50 L543.75 480.47 L544.00 479.41 L544.25 478.35 L544.50 477.31 L544.75 476.31 L545.00 475.39 L545.25 474.57 L545.50 473.87 L545.75 473.33 L546.00 472.96 L546.25 472.80 L546.50 472.88 L546.75 473.21 L547.00 473.75 L547.25 474.47 L547.50 475.34 L547.75 476.32 L548.00 477.39 L548.25 478.52 L548.50 479.66 L548.75 480.79 L549.00 481.87 L549.25 482.87 L549.50 483.77 L549.75 484.52 L550.00 485.10 L550.25 485.47 L550.50 485.60 L550.75 485.46 L551.00 485.06 L551.25 484.45 L551.50 483.64 L551.75 482.69 L552.00 481.62 L552.25 480.48 L552.50 479.29 L552.75 478.09 L553.00 476.93 L553.25 475.83 L553.50 474.82 L553.75 473.96 L554.00 473.26 L554.25 472.77 L554.50 472.52 L554.75 472.55 L555.00 472.84 L555.25 473.36 L555.50 474.08 L555.75 474.96 L556.00 475.97 L556.25 477.08 L556.50 478.25 L556.75 479.44 L557.00 480.63 L557.25 481.77 L557.50 482.84 L557.75 483.81 L558.00 484.63 L558.25 485.27 L558.50 485.70 L558.75 485.89 L559.00 485.79 L559.25 485.38 L559.50 484.70 L559.75 483.80 L560.00 482.72 L560.25 481.50 L560.50 480.20 L560.75 478.85 L561.00 477.50 L561.25 476.20 L561.50 474.98 L561.75 473.90 L562.00 473.00 L562.25 472.32 L562.50 471.91 L562.75 471.81 L563.00 472.06 L563.25 472.62 L563.50 473.46 L563.75 474.51 L564.00 475.73 L564.25 477.07 L564.50 478.48 L564.75 479.91 L565.00 481.31 L565.25 482.63 L565.50 483.82 L565.75 484.83 L566.00 485.61 L566.25 486.12 L566.50 486.30 L566.75 486.13 L567.00 485.63 L567.25 484.87 L567.50 483.88 L567.75 482.71 L568.00 481.42 L568.25 480.03 L568.50 478.62 L568.75 477.21 L569.00 475.85 L569.25 474.60 L569.50 473.50 L569.75 472.60 L570.00 471.94 L570.25 471.56 L570.50 471.54 L570.75 471.93 L571.00 472.70 L571.25 473.78 L571.50 475.11 L571.75 476.61 L572.00 478.21 L572.25 479.86 L572.50 481.48 L572.75 483.00 L573.00 484.37 L573.25 485.50 L573.50 486.34 L573.75 486.82 L574.00 486.86 L574.25 486.42 L574.50 485.56 L574.75 484.37 L575.00 482.91 L575.25 481.27 L575.50 479.51 L575.75 477.73 L576.00 475.99 L576.25 474.38 L576.50 472.97 L576.75 471.83 L577.00 471.06 L577.25 470.71 L577.50 470.87 L577.75 471.54 L578.00 472.61 L578.25 474.01 L578.50 475.66 L578.75 477.46 L579.00 479.32 L579.25 481.18 L579.50 482.92 L579.75 484.48 L580.00 485.76 L580.25 486.68 L580.50 487.16 L580.75 487.11 L581.00 486.60 L581.25 485.70 L581.50 484.48 L581.75 483.01 L582.00 481.35 L582.25 479.58 L582.50 477.78 L582.75 475.99 L583.00 474.31 L583.25 472.80 L583.50 471.52 L583.75 470.55 L584.00 469.96 L584.25 469.81 L584.50 470.24 L584.75 471.21 L585.00 472.61 L585.25 474.35 L585.50 476.32 L585.75 478.44 L586.00 480.59 L586.25 482.69 L586.50 484.62 L586.75 486.30 L587.00 487.62 L587.25 488.49 L587.50 488.80 L587.75 488.52 L588.00 487.73 L588.25 486.52 L588.50 484.97 L588.75 483.16 L589.00 481.16 L589.25 479.07 L589.50 476.97 L589.75 474.92 L590.00 473.03 L590.25 471.36 L590.50 470.00 L590.75 469.04 L591.00 468.55 L591.25 468.63 L591.50 469.38 L591.75 470.70 L592.00 472.48 L592.25 474.60 L592.50 476.94 L592.75 479.40 L593.00 481.86 L593.25 484.20 L593.50 486.32 L593.75 488.10 L594.00 489.42 L594.25 490.17 L594.50 490.24 L594.75 489.63 L595.00 488.44 L595.25 486.77 L595.50 484.73 L595.75 482.41 L596.00 479.93 L596.25 477.38 L596.50 474.88 L596.75 472.52 L597.00 470.41 L597.25 468.66 L597.50 467.36 L597.75 466.63 L598.00 466.57 L598.25 467.27 L598.50 468.64 L598.75 470.55 L599.00 472.88 L599.25 475.51 L599.50 478.31 L599.75 481.16 L600.00 483.94 L600.25 486.52 L600.50 488.77 L600.75 490.59 L601.00 491.83 L601.25 492.38 L601.50 492.15 L601.75 491.19 L602.00 489.62 L602.25 487.55 L602.50 485.09 L602.75 482.36 L603.00 479.47 L603.25 476.54 L603.50 473.68 L603.75 470.99 L604.00 468.61 L604.25 466.63 L604.50 465.17 L604.75 464.34 L605.00 464.29 L605.25 465.19 L605.50 466.95 L605.75 469.39 L606.00 472.37 L606.25 475.70 L606.50 479.23 L606.75 482.80 L607.00 486.23 L607.25 489.37 L607.50 492.05 L607.75 494.10 L608.00 495.37 L608.25 495.68 L608.50 495.06 L608.75 493.64 L609.00 491.56 L609.25 488.94 L609.50 485.92 L609.75 482.61 L610.00 479.15 L610.25 475.66 L610.50 472.28 L610.75 469.13 L611.00 466.33 L611.25 464.02 L611.50 462.32 L611.75 461.37 L612.00 461.28 L612.25 462.18 L612.50 463.93 L612.75 466.40 L613.00 469.45 L613.25 472.93 L613.50 476.69 L613.75 480.60 L614.00 484.51 L614.25 488.27 L614.50 491.75 L614.75 494.80 L615.00 497.27 L615.25 499.02 L615.50 499.92 L615.75 499.94 L616.00 499.56 L616.25 498.84 L616.50 497.77 L616.75 496.36 L617.00 494.60 L617.25 492.49 L617.50 490.03 L617.75 487.23 L618.00 484.07 L618.25 480.57 L618.50 476.71 L618.75 472.50 L619.00 467.94 L619.25 463.03 L619.30 462.00" stroke="#1f77b4" stroke-width="1.65"/>
</g>
<rect x="403.4" y="427.6" width="215.5" height="101.2" fill="none" stroke="#1a1a1a" stroke-width="1"/>
<line x1="399.9" y1="523.7" x2="403.4" y2="523.7" stroke="#1a1a1a" stroke-width="1"/>
<rect x="373.48" y="524.05" width="7" height="1" fill="#ff7f0e"/>
<text x="381.33" y="528.15" font-size="12.7" fill="#ff7f0e" dx="0 0.25">80</text>
<line x1="399.9" y1="512.38" x2="403.4" y2="512.38" stroke="#1a1a1a" stroke-width="1"/>
<rect x="373.56" y="512.73" width="7" height="1" fill="#ff7f0e"/>
<text x="381.33" y="516.83" font-size="12.7" fill="#ff7f0e" dx="0 0.25">60</text>
<line x1="399.9" y1="501.05" x2="403.4" y2="501.05" stroke="#1a1a1a" stroke-width="1"/>
<rect x="373.22" y="501.4" width="7" height="1" fill="#ff7f0e"/>
<text x="381.33" y="505.5" font-size="12.7" fill="#ff7f0e" dx="0 0.25">40</text>
<line x1="399.9" y1="489.73" x2="403.4" y2="489.73" stroke="#1a1a1a" stroke-width="1"/>
<rect x="373.56" y="490.08" width="7" height="1" fill="#ff7f0e"/>
<text x="381.33" y="494.18" font-size="12.7" fill="#ff7f0e" dx="0 0.25">20</text>
<line x1="399.9" y1="478.4" x2="403.4" y2="478.4" stroke="#1a1a1a" stroke-width="1"/>
<text x="388.64" y="482.85" font-size="12.7" fill="#ff7f0e" dx="0">0</text>
<line x1="399.9" y1="467.08" x2="403.4" y2="467.08" stroke="#1a1a1a" stroke-width="1"/>
<text x="381.33" y="471.53" font-size="12.7" fill="#ff7f0e" dx="0 0.25">20</text>
<line x1="399.9" y1="455.75" x2="403.4" y2="455.75" stroke="#1a1a1a" stroke-width="1"/>
<text x="381.33" y="460.2" font-size="12.7" fill="#ff7f0e" dx="0 0.25">40</text>
<line x1="399.9" y1="444.43" x2="403.4" y2="444.43" stroke="#1a1a1a" stroke-width="1"/>
<text x="381.33" y="448.88" font-size="12.7" fill="#ff7f0e" dx="0 0.25">60</text>
<line x1="399.9" y1="433.1" x2="403.4" y2="433.1" stroke="#1a1a1a" stroke-width="1"/>
<text x="381.33" y="437.55" font-size="12.7" fill="#ff7f0e" dx="0 0.25">80</text>
<line x1="618.9" y1="506.7" x2="622.4" y2="506.7" stroke="#1a1a1a" stroke-width="1"/>
<rect x="626.82" y="507.05" width="7" height="1" fill="#1f77b4"/>
<text x="634.71" y="511.15" font-size="12.7" fill="#1f77b4" dx="0 0.25">50</text>
<line x1="618.9" y1="478.45" x2="622.4" y2="478.45" stroke="#1a1a1a" stroke-width="1"/>
<text x="625.87" y="482.9" font-size="12.7" fill="#1f77b4" dx="0">0</text>
<line x1="618.9" y1="450.2" x2="622.4" y2="450.2" stroke="#1a1a1a" stroke-width="1"/>
<text x="625.98" y="454.65" font-size="12.7" fill="#1f77b4" dx="0 0.25">50</text>
<line x1="403.75" y1="528.8" x2="403.75" y2="532.3" stroke="#1a1a1a" stroke-width="1"/>
<text x="400.23" y="545.5" font-size="12.7" fill="#1a1a1a" dx="0">0</text>
<line x1="451.51" y1="528.8" x2="451.51" y2="532.3" stroke="#1a1a1a" stroke-width="1"/>
<text x="444.09" y="545.5" font-size="12.7" fill="#1a1a1a" dx="0 0.25">10</text>
<line x1="499.27" y1="528.8" x2="499.27" y2="532.3" stroke="#1a1a1a" stroke-width="1"/>
<text x="492.02" y="545.5" font-size="12.7" fill="#1a1a1a" dx="0 0.25">20</text>
<line x1="547.03" y1="528.8" x2="547.03" y2="532.3" stroke="#1a1a1a" stroke-width="1"/>
<text x="539.85" y="545.5" font-size="12.7" fill="#1a1a1a" dx="0 0.25">30</text>
<line x1="594.79" y1="528.8" x2="594.79" y2="532.3" stroke="#1a1a1a" stroke-width="1"/>
<text x="587.71" y="545.5" font-size="12.7" fill="#1a1a1a" dx="0 0.25">40</text>
<text transform="translate(364.6,478.2) rotate(-90)" text-anchor="middle" fill="#ff7f0e" font-size="12.8" textLength="62.68" lengthAdjust="spacingAndGlyphs">WNA [deg]</text>
<g transform="translate(663.2,478.2) rotate(-90)" fill="#1f77b4"><text x="-22.29" y="0" font-size="12.26">Δ</text><text x="-14.19" y="2.37" font-size="8.53" font-style="italic">d</text><text x="-5.36" y="0" font-size="12.26" textLength="27.65" lengthAdjust="spacingAndGlyphs">[km]</text></g>
<text x="366.12" y="443.5" font-size="13.2" fill="#111111" stroke="#111111" stroke-width="0.1">i</text>
<text x="370.41" y="443.5" font-size="13.2" fill="#111111">)</text>
<line x1="451.51" y1="563" x2="451.51" y2="664.1" stroke="#cccccc" stroke-width="1"/>
<line x1="499.27" y1="563" x2="499.27" y2="664.1" stroke="#cccccc" stroke-width="1"/>
<line x1="547.03" y1="563" x2="547.03" y2="664.1" stroke="#cccccc" stroke-width="1"/>
<line x1="594.79" y1="563" x2="594.79" y2="664.1" stroke="#cccccc" stroke-width="1"/>
<line x1="403.4" y1="659.6" x2="618.9" y2="659.6" stroke="#cccccc" stroke-width="1"/>
<line x1="403.4" y1="648.27" x2="618.9" y2="648.27" stroke="#cccccc" stroke-width="1"/>
<line x1="403.4" y1="636.95" x2="618.9" y2="636.95" stroke="#cccccc" stroke-width="1"/>
<line x1="403.4" y1="625.62" x2="618.9" y2="625.62" stroke="#cccccc" stroke-width="1"/>
<line x1="403.4" y1="614.3" x2="618.9" y2="614.3" stroke="#cccccc" stroke-width="1"/>
<line x1="403.4" y1="602.98" x2="618.9" y2="602.98" stroke="#cccccc" stroke-width="1"/>
<line x1="403.4" y1="591.65" x2="618.9" y2="591.65" stroke="#cccccc" stroke-width="1"/>
<line x1="403.4" y1="580.33" x2="618.9" y2="580.33" stroke="#cccccc" stroke-width="1"/>
<line x1="403.4" y1="569" x2="618.9" y2="569" stroke="#cccccc" stroke-width="1"/>
<clipPath id="cpj"><rect x="403.4" y="563" width="215.5" height="101.1"/></clipPath>
<g clip-path="url(#cpj)" fill="none" stroke-linejoin="round" stroke-linecap="butt">
<path d="M403.50 613.40 L403.75 613.10 L404.00 612.80 L404.25 612.50 L404.50 612.21 L404.75 611.93 L405.00 611.66 L405.25 611.41 L405.50 611.17 L405.75 610.94 L406.00 610.73 L406.25 610.54 L406.50 610.37 L406.75 610.23 L407.00 610.11 L407.25 610.02 L407.50 609.94 L407.75 609.87 L408.00 609.80 L408.25 609.74 L408.50 609.68 L408.75 609.62 L409.00 609.56 L409.25 609.51 L409.50 609.46 L409.75 609.41 L410.00 609.37 L410.25 609.33 L410.50 609.30 L410.75 609.27 L411.00 609.24 L411.25 609.23 L411.50 609.21 L411.75 609.20 L412.00 609.20 L412.25 609.21 L412.50 609.23 L412.75 609.26 L413.00 609.30 L413.25 609.36 L413.50 609.42 L413.75 609.49 L414.00 609.57 L414.25 609.65 L414.50 609.75 L414.75 609.84 L415.00 609.94 L415.25 610.05 L415.50 610.15 L415.75 610.26 L416.00 610.37 L416.25 610.47 L416.50 610.58 L416.75 610.68 L417.00 610.78 L417.25 610.89 L417.50 611.01 L417.75 611.14 L418.00 611.27 L418.25 611.40 L418.50 611.54 L418.75 611.68 L419.00 611.83 L419.25 611.98 L419.50 612.14 L419.75 612.29 L420.00 612.45 L420.25 612.60 L420.50 612.76 L420.75 612.91 L421.00 613.07 L421.25 613.22 L421.50 613.37 L421.75 613.51 L422.00 613.66 L422.25 613.80 L422.50 613.96 L422.75 614.11 L423.00 614.27 L423.25 614.44 L423.50 614.60 L423.75 614.76 L424.00 614.93 L424.25 615.09 L424.50 615.25 L424.75 615.41 L425.00 615.56 L425.25 615.70 L425.50 615.84 L425.75 615.98 L426.00 616.10 L426.25 616.22 L426.50 616.32 L426.75 616.42 L427.00 616.50 L427.25 616.58 L427.50 616.65 L427.75 616.73 L428.00 616.81 L428.25 616.88 L428.50 616.95 L428.75 617.02 L429.00 617.08 L429.25 617.13 L429.50 617.18 L429.75 617.22 L430.00 617.26 L430.25 617.28 L430.50 617.30 L430.75 617.30 L431.00 617.29 L431.25 617.27 L431.50 617.24 L431.75 617.20 L432.00 617.16 L432.25 617.10 L432.50 617.04 L432.75 616.97 L433.00 616.90 L433.25 616.82 L433.50 616.73 L433.75 616.65 L434.00 616.56 L434.25 616.47 L434.50 616.38 L434.75 616.29 L435.00 616.20 L435.25 616.10 L435.50 616.00 L435.75 615.88 L436.00 615.75 L436.25 615.61 L436.50 615.46 L436.75 615.31 L437.00 615.15 L437.25 614.99 L437.50 614.82 L437.75 614.66 L438.00 614.49 L438.25 614.32 L438.50 614.16 L438.75 614.00 L439.00 613.84 L439.25 613.69 L439.50 613.54 L439.75 613.39 L440.00 613.24 L440.25 613.09 L440.50 612.94 L440.75 612.79 L441.00 612.63 L441.25 612.48 L441.50 612.33 L441.75 612.18 L442.00 612.03 L442.25 611.89 L442.50 611.75 L442.75 611.61 L443.00 611.48 L443.25 611.35 L443.50 611.23 L443.75 611.12 L444.00 611.02 L444.25 610.91 L444.50 610.81 L444.75 610.72 L445.00 610.62 L445.25 610.53 L445.50 610.44 L445.75 610.35 L446.00 610.27 L446.25 610.18 L446.50 610.10 L446.75 610.02 L447.00 609.94 L447.25 609.86 L447.50 609.79 L447.75 609.71 L448.00 609.63 L448.25 609.56 L448.50 609.48 L448.75 609.40 L449.00 609.32 L449.25 609.25 L449.50 609.17 L449.75 609.09 L450.00 609.00 L450.25 608.92 L450.50 608.84 L450.75 608.75 L451.00 608.66 L451.25 608.58 L451.50 608.49 L451.75 608.41 L452.00 608.33 L452.25 608.25 L452.50 608.17 L452.75 608.10 L453.00 608.02 L453.25 607.96 L453.50 607.90 L453.75 607.84 L454.00 607.79 L454.25 607.74 L454.50 607.70 L454.75 607.66 L455.00 607.63 L455.25 607.60 L455.50 607.57 L455.75 607.54 L456.00 607.52 L456.25 607.49 L456.50 607.47 L456.75 607.45 L457.00 607.42 L457.25 607.40 L457.50 607.38 L457.75 607.36 L458.00 607.34 L458.25 607.32 L458.50 607.30 L458.75 607.28 L459.00 607.26 L459.25 607.23 L459.50 607.21 L459.75 607.19 L460.00 607.16 L460.25 607.14 L460.50 607.11 L460.75 607.09 L461.00 607.07 L461.25 607.05 L461.50 607.02 L461.75 607.00 L462.00 606.98 L462.25 606.95 L462.50 606.93 L462.75 606.91 L463.00 606.88 L463.25 606.86 L463.50 606.83 L463.75 606.81 L464.00 606.78 L464.25 606.75 L464.50 606.72 L464.75 606.69 L465.00 606.66 L465.25 606.62 L465.50 606.59 L465.75 606.55 L466.00 606.51 L466.25 606.47 L466.50 606.43 L466.75 606.38 L467.00 606.33 L467.25 606.29 L467.50 606.24 L467.75 606.18 L468.00 606.13 L468.25 606.07 L468.50 606.01 L468.75 605.95 L469.00 605.89 L469.25 605.82 L469.50 605.76 L469.75 605.69 L470.00 605.62 L470.25 605.54 L470.50 605.46 L470.75 605.38 L471.00 605.30 L471.25 605.22 L471.50 605.13 L471.75 605.03 L472.00 604.93 L472.25 604.82 L472.50 604.70 L472.75 604.57 L473.00 604.44 L473.25 604.30 L473.50 604.15 L473.75 604.00 L474.00 603.84 L474.25 603.68 L474.50 603.50 L474.75 603.33 L475.00 603.14 L475.25 602.95 L475.50 602.76 L475.75 602.56 L476.00 602.34 L476.25 602.11 L476.50 601.86 L476.75 601.59 L477.00 601.30 L477.25 601.00 L477.50 600.69 L477.75 600.37 L478.00 600.04 L478.25 599.69 L478.50 599.35 L478.75 598.99 L479.00 598.63 L479.25 598.27 L479.50 597.89 L479.75 597.47 L480.00 597.02 L480.25 596.55 L480.50 596.05 L480.75 595.56 L481.00 595.07 L481.25 594.60 L481.50 594.15 L481.75 593.73 L482.00 593.36 L482.25 593.04 L482.50 592.73 L482.75 592.42 L483.00 592.11 L483.25 591.80 L483.50 591.50 L483.75 591.21 L484.00 590.93 L484.25 590.68 L484.50 590.44 L484.75 590.23 L485.00 590.05 L485.25 589.90 L485.50 589.79 L485.75 589.72 L486.00 589.70 L486.25 589.72 L486.50 589.76 L486.75 589.84 L487.00 589.94 L487.25 590.07 L487.50 590.22 L487.75 590.39 L488.00 590.58 L488.25 590.78 L488.50 591.00 L488.75 591.23 L489.00 591.47 L489.25 591.72 L489.50 591.98 L489.75 592.24 L490.00 592.50 L490.25 592.76 L490.50 593.02 L490.75 593.28 L491.00 593.53 L491.25 593.77 L491.50 594.00 L491.75 594.22 L492.00 594.42 L492.25 594.61 L492.50 594.78 L492.75 594.93 L493.00 595.06 L493.25 595.16 L493.50 595.24 L493.75 595.28 L494.00 595.30 L494.25 595.27 L494.50 595.20 L494.75 595.07 L495.00 594.90 L495.25 594.69 L495.50 594.44 L495.75 594.16 L496.00 593.84 L496.25 593.50 L496.50 593.13 L496.75 592.74 L497.00 592.33 L497.25 591.90 L497.50 591.46 L497.75 591.01 L498.00 590.56 L498.25 590.10 L498.50 589.64 L498.75 589.19 L499.00 588.74 L499.25 588.30 L499.50 587.87 L499.75 587.46 L500.00 587.07 L500.25 586.70 L500.50 586.36 L500.75 586.04 L501.00 585.76 L501.25 585.51 L501.50 585.30 L501.75 585.13 L502.00 585.00 L502.25 584.93 L502.50 584.90 L502.75 584.94 L503.00 585.05 L503.25 585.22 L503.50 585.44 L503.75 585.72 L504.00 586.03 L504.25 586.38 L504.50 586.75 L504.75 587.14 L505.00 587.54 L505.25 587.94 L505.50 588.34 L505.75 588.73 L506.00 589.10 L506.25 589.44 L506.50 589.74 L506.75 590.01 L507.00 590.22 L507.25 590.38 L507.50 590.48 L507.75 590.50 L508.00 590.46 L508.25 590.36 L508.50 590.21 L508.75 590.01 L509.00 589.77 L509.25 589.49 L509.50 589.17 L509.75 588.83 L510.00 588.45 L510.25 588.06 L510.50 587.64 L510.75 587.22 L511.00 586.78 L511.25 586.34 L511.50 585.90 L511.75 585.46 L512.00 585.03 L512.25 584.61 L512.50 584.20 L512.75 583.82 L513.00 583.46 L513.25 583.13 L513.50 582.84 L513.75 582.58 L514.00 582.37 L514.25 582.20 L514.50 582.08 L514.75 582.01 L515.00 582.01 L515.25 582.10 L515.50 582.27 L515.75 582.52 L516.00 582.83 L516.25 583.19 L516.50 583.59 L516.75 584.02 L517.00 584.47 L517.25 584.92 L517.50 585.36 L517.75 585.79 L518.00 586.19 L518.25 586.54 L518.50 586.84 L518.75 587.07 L519.00 587.23 L519.25 587.30 L519.50 587.28 L519.75 587.19 L520.00 587.03 L520.25 586.82 L520.50 586.56 L520.75 586.26 L521.00 585.92 L521.25 585.54 L521.50 585.14 L521.75 584.71 L522.00 584.28 L522.25 583.83 L522.50 583.38 L522.75 582.94 L523.00 582.50 L523.25 582.08 L523.50 581.68 L523.75 581.31 L524.00 580.98 L524.25 580.68 L524.50 580.43 L524.75 580.23 L525.00 580.09 L525.25 580.01 L525.50 580.01 L525.75 580.11 L526.00 580.30 L526.25 580.57 L526.50 580.91 L526.75 581.30 L527.00 581.72 L527.25 582.17 L527.50 582.63 L527.75 583.09 L528.00 583.52 L528.25 583.92 L528.50 584.27 L528.75 584.55 L529.00 584.76 L529.25 584.88 L529.50 584.89 L529.75 584.82 L530.00 584.68 L530.25 584.47 L530.50 584.21 L530.75 583.89 L531.00 583.53 L531.25 583.14 L531.50 582.72 L531.75 582.27 L532.00 581.82 L532.25 581.36 L532.50 580.90 L532.75 580.45 L533.00 580.01 L533.25 579.60 L533.50 579.22 L533.75 578.88 L534.00 578.58 L534.25 578.34 L534.50 578.16 L534.75 578.04 L535.00 578.00 L535.25 578.08 L535.50 578.31 L535.75 578.66 L536.00 579.10 L536.25 579.61 L536.50 580.16 L536.75 580.73 L537.00 581.28 L537.25 581.80 L537.50 582.26 L537.75 582.63 L538.00 582.88 L538.25 583.00 L538.50 582.95 L538.75 582.75 L539.00 582.41 L539.25 581.97 L539.50 581.44 L539.75 580.85 L540.00 580.21 L540.25 579.55 L540.50 578.89 L540.75 578.25 L541.00 577.66 L541.25 577.13 L541.50 576.69 L541.75 576.35 L542.00 576.15 L542.25 576.10 L542.50 576.19 L542.75 576.40 L543.00 576.71 L543.25 577.11 L543.50 577.56 L543.75 578.07 L544.00 578.61 L544.25 579.16 L544.50 579.71 L544.75 580.24 L545.00 580.73 L545.25 581.16 L545.50 581.52 L545.75 581.79 L546.00 581.96 L546.25 582.00 L546.50 581.86 L546.75 581.57 L547.00 581.13 L547.25 580.58 L547.50 579.95 L547.75 579.26 L548.00 578.55 L548.25 577.84 L548.50 577.15 L548.75 576.52 L549.00 575.97 L549.25 575.53 L549.50 575.24 L549.75 575.10 L550.00 575.15 L550.25 575.36 L550.50 575.69 L550.75 576.13 L551.00 576.66 L551.25 577.24 L551.50 577.85 L551.75 578.47 L552.00 579.08 L552.25 579.65 L552.50 580.16 L552.75 580.58 L553.00 580.89 L553.25 581.07 L553.50 581.08 L553.75 580.91 L554.00 580.56 L554.25 580.07 L554.50 579.47 L554.75 578.79 L555.00 578.06 L555.25 577.30 L555.50 576.55 L555.75 575.83 L556.00 575.18 L556.25 574.62 L556.50 574.18 L556.75 573.90 L557.00 573.80 L557.25 573.92 L557.50 574.25 L557.75 574.76 L558.00 575.40 L558.25 576.15 L558.50 576.95 L558.75 577.78 L559.00 578.59 L559.25 579.35 L559.50 580.02 L559.75 580.56 L560.00 580.93 L560.25 581.10 L560.50 581.03 L560.75 580.74 L561.00 580.28 L561.25 579.67 L561.50 578.95 L561.75 578.15 L562.00 577.30 L562.25 576.43 L562.50 575.59 L562.75 574.80 L563.00 574.10 L563.25 573.51 L563.50 573.08 L563.75 572.84 L564.00 572.82 L564.25 573.05 L564.50 573.49 L564.75 574.10 L565.00 574.85 L565.25 575.68 L565.50 576.57 L565.75 577.46 L566.00 578.33 L566.25 579.11 L566.50 579.78 L566.75 580.30 L567.00 580.62 L567.25 580.69 L567.50 580.53 L567.75 580.15 L568.00 579.59 L568.25 578.89 L568.50 578.09 L568.75 577.21 L569.00 576.30 L569.25 575.39 L569.50 574.51 L569.75 573.71 L570.00 573.01 L570.25 572.45 L570.50 572.07 L570.75 571.91 L571.00 572.01 L571.25 572.43 L571.50 573.11 L571.75 573.99 L572.00 575.00 L572.25 576.08 L572.50 577.17 L572.75 578.22 L573.00 579.16 L573.25 579.92 L573.50 580.45 L573.75 580.69 L574.00 580.61 L574.25 580.24 L574.50 579.66 L574.75 578.89 L575.00 577.99 L575.25 576.99 L575.50 575.95 L575.75 574.91 L576.00 573.91 L576.25 573.01 L576.50 572.24 L576.75 571.66 L577.00 571.29 L577.25 571.21 L577.50 571.54 L577.75 572.25 L578.00 573.27 L578.25 574.49 L578.50 575.83 L578.75 577.18 L579.00 578.46 L579.25 579.57 L579.50 580.42 L579.75 580.91 L580.00 580.97 L580.25 580.67 L580.50 580.08 L580.75 579.27 L581.00 578.28 L581.25 577.17 L581.50 575.99 L581.75 574.80 L582.00 573.66 L582.25 572.61 L582.50 571.72 L582.75 571.03 L583.00 570.61 L583.25 570.51 L583.50 570.76 L583.75 571.33 L584.00 572.16 L584.25 573.18 L584.50 574.34 L584.75 575.59 L585.00 576.86 L585.25 578.10 L585.50 579.24 L585.75 580.23 L586.00 581.01 L586.25 581.52 L586.50 581.70 L586.75 581.50 L587.00 580.94 L587.25 580.10 L587.50 579.02 L587.75 577.77 L588.00 576.43 L588.25 575.05 L588.50 573.69 L588.75 572.42 L589.00 571.30 L589.25 570.40 L589.50 569.78 L589.75 569.51 L590.00 569.64 L590.25 570.17 L590.50 571.03 L590.75 572.15 L591.00 573.47 L591.25 574.91 L591.50 576.40 L591.75 577.88 L592.00 579.28 L592.25 580.52 L592.50 581.55 L592.75 582.29 L593.00 582.66 L593.25 582.64 L593.50 582.26 L593.75 581.60 L594.00 580.70 L594.25 579.60 L594.50 578.35 L594.75 576.99 L595.00 575.58 L595.25 574.17 L595.50 572.78 L595.75 571.49 L596.00 570.32 L596.25 569.33 L596.50 568.57 L596.75 568.07 L597.00 567.90 L597.25 568.09 L597.50 568.62 L597.75 569.45 L598.00 570.52 L598.25 571.78 L598.50 573.18 L598.75 574.67 L599.00 576.21 L599.25 577.73 L599.50 579.19 L599.75 580.55 L600.00 581.74 L600.25 582.71 L600.50 583.43 L600.75 583.83 L601.00 583.87 L601.25 583.58 L601.50 583.01 L601.75 582.19 L602.00 581.16 L602.25 579.97 L602.50 578.65 L602.75 577.25 L603.00 575.79 L603.25 574.33 L603.50 572.90 L603.75 571.54 L604.00 570.29 L604.25 569.20 L604.50 568.29 L604.75 567.61 L605.00 567.21 L605.25 567.10 L605.50 567.22 L605.75 567.48 L606.00 567.84 L606.25 568.30 L606.50 568.80 L606.75 569.33 L607.00 569.85 L607.25 570.34 L607.50 570.76 L607.75 571.10 L608.00 571.41 L608.25 571.71 L608.50 572.00 L608.75 572.28 L609.00 572.55 L609.25 572.82 L609.50 573.10 L609.75 573.38 L610.00 573.67 L610.25 573.98 L610.50 574.30 L610.75 574.63 L611.00 574.95 L611.25 575.28 L611.50 575.63 L611.75 576.01 L612.00 576.43 L612.25 576.89 L612.50 577.44 L612.75 578.29 L613.00 579.38 L613.25 580.58 L613.50 581.75 L613.75 582.78 L614.00 583.54 L614.25 583.89 L614.50 583.75 L614.75 583.21 L615.00 582.35 L615.25 581.30 L615.50 580.14 L615.75 578.97 L616.00 577.91 L616.25 577.04 L616.50 576.27 L616.75 575.50 L617.00 574.75 L617.25 574.02 L617.50 573.31 L617.75 572.61 L618.00 571.93 L618.25 571.27 L618.50 570.63 L618.75 570.02 L618.80 569.90" stroke="#ff7f0e" stroke-width="1.65"/>
<path d="M461.80 608.55 L462.30 608.19 L462.80 607.83 L463.30 607.47 L463.80 607.12 L464.30 606.77 L464.80 606.42 L465.30 606.08 L465.80 605.74 L466.30 605.39 L466.80 605.06 L467.30 604.72 L467.80 604.39 L468.30 604.06 L468.80 603.73 L469.30 603.40 L469.80 603.08 L470.30 602.76 L470.80 602.44 L471.30 602.13 L471.80 601.81 L472.30 601.50 L472.80 601.19 L473.30 600.88 L473.80 600.58 L474.30 600.28 L474.80 599.98 L475.30 599.68 L475.80 599.38 L476.30 599.09 L476.80 598.80 L477.30 598.51 L477.80 598.22 L478.30 597.94 L478.80 597.66 L479.30 597.38 L479.80 597.10 L480.30 596.82 L480.80 596.55 L481.30 596.28 L481.80 596.01 L482.30 595.74 L482.80 595.47 L483.30 595.21 L483.80 594.95 L484.30 594.69 L484.80 594.43 L485.30 594.18 L485.80 593.93 L486.30 593.67 L486.80 593.42 L487.30 593.18 L487.80 592.93 L488.30 592.69 L488.80 592.45 L489.30 592.21 L489.80 591.97 L490.30 591.73 L490.80 591.50 L491.30 591.27 L491.80 591.04 L492.30 590.81 L492.80 590.58 L493.30 590.36 L493.80 590.14 L494.30 589.91 L494.80 589.70 L495.30 589.48 L495.80 589.26 L496.30 589.05 L496.80 588.84 L497.30 588.63 L497.80 588.42 L498.30 588.21 L498.80 588.00 L499.30 587.80 L499.80 587.60 L500.30 587.40 L500.80 587.20 L501.30 587.00 L501.80 586.81 L502.30 586.61 L502.80 586.42 L503.30 586.23 L503.80 586.04 L504.30 585.85 L504.80 585.67 L505.30 585.48 L505.80 585.30 L506.30 585.12 L506.80 584.94 L507.30 584.76 L507.80 584.58 L508.30 584.41 L508.80 584.23 L509.30 584.06 L509.80 583.89 L510.30 583.72 L510.80 583.55 L511.30 583.38 L511.80 583.22 L512.30 583.05 L512.80 582.89 L513.30 582.73 L513.80 582.57 L514.30 582.41 L514.80 582.25 L515.30 582.10 L515.80 581.94 L516.30 581.79 L516.80 581.64 L517.30 581.49 L517.80 581.34 L518.30 581.19 L518.80 581.04 L519.30 580.89 L519.80 580.75 L520.30 580.60 L520.80 580.46 L521.30 580.32 L521.80 580.18 L522.30 580.04 L522.80 579.90 L523.30 579.76 L523.80 579.63 L524.30 579.49 L524.80 579.36 L525.30 579.23 L525.80 579.09 L526.30 578.96 L526.80 578.83 L527.30 578.71 L527.80 578.58 L528.30 578.45 L528.80 578.33 L529.30 578.20 L529.80 578.08 L530.30 577.95 L530.80 577.83 L531.30 577.71 L531.80 577.59 L532.30 577.47 L532.80 577.35 L533.30 577.24 L533.80 577.12 L534.30 577.00 L534.80 576.89 L535.30 576.78 L535.80 576.66 L536.30 576.55 L536.80 576.44 L537.30 576.33 L537.80 576.22 L538.30 576.11 L538.80 576.00 L539.30 575.89 L539.80 575.79 L540.30 575.68 L540.80 575.58 L541.30 575.47 L541.80 575.37 L542.30 575.27 L542.80 575.17 L543.30 575.07 L543.80 574.97 L544.30 574.87 L544.80 574.77 L545.30 574.67 L545.80 574.57 L546.30 574.48 L546.80 574.38 L547.30 574.29 L547.80 574.19 L548.30 574.10 L548.80 574.00 L549.30 573.91 L549.80 573.82 L550.30 573.73 L550.80 573.64 L551.30 573.55 L551.80 573.46 L552.30 573.37 L552.80 573.29 L553.30 573.20 L553.80 573.11 L554.30 573.03 L554.80 572.94 L555.30 572.86 L555.80 572.77 L556.30 572.69 L556.80 572.61 L557.30 572.53 L557.80 572.44 L558.30 572.36 L558.80 572.28 L559.30 572.20 L559.80 572.12 L560.30 572.04 L560.80 571.97 L561.30 571.89 L561.80 571.81 L562.30 571.73 L562.80 571.66 L563.30 571.58 L563.80 571.51 L564.30 571.43 L564.80 571.36 L565.30 571.28 L565.80 571.21 L566.30 571.14 L566.80 571.07 L567.30 570.99 L567.80 570.92 L568.30 570.85 L568.80 570.78 L569.30 570.71 L569.80 570.64 L570.30 570.57 L570.80 570.50 L571.30 570.43 L571.80 570.37 L572.30 570.30 L572.80 570.23 L573.30 570.16 L573.80 570.10 L574.30 570.03 L574.80 569.97 L575.30 569.90 L575.80 569.84 L576.30 569.77 L576.80 569.71 L577.30 569.64 L577.80 569.58 L578.30 569.51 L578.80 569.45 L579.30 569.39 L579.80 569.32 L580.30 569.26 L580.80 569.20 L581.30 569.14 L581.80 569.08 L582.30 569.01 L582.80 568.95 L583.30 568.89 L583.80 568.83 L584.30 568.77 L584.80 568.71 L585.30 568.65 L585.80 568.59 L586.30 568.53 L586.80 568.47 L587.30 568.41 L587.80 568.35 L588.30 568.30 L588.80 568.24 L589.30 568.18 L589.80 568.12 L590.30 568.06 L590.80 568.00 L591.30 567.95 L591.80 567.89 L592.30 567.83 L592.80 567.77 L593.30 567.71 L593.80 567.66 L594.30 567.60 L594.80 567.54 L595.30 567.49 L595.80 567.43 L596.30 567.37 L596.80 567.31 L597.30 567.26 L597.80 567.20 L598.30 567.14 L598.80 567.09 L599.30 567.03 L599.80 566.97 L600.30 566.92 L600.80 566.86 L601.30 566.80 L601.80 566.75 L602.30 566.69 L602.80 566.63 L603.30 566.58 L603.80 566.52 L604.30 566.46 L604.80 566.41 L605.30 566.35 L605.80 566.29 L606.30 566.24 L606.80 566.18 L607.30 566.12 L607.80 566.06 L608.30 566.01 L608.80 565.95 L609.30 565.89 L609.80 565.84 L610.30 565.78 L610.80 565.72 L611.30 565.66 L611.80 565.60 L612.30 565.55 L612.80 565.49 L613.30 565.43 L613.80 565.37 L614.30 565.31 L614.80 565.25 L615.30 565.19 L615.80 565.13 L616.30 565.07 L616.80 565.01 L617.30 564.95 L617.80 564.89 L618.30 564.83 L618.80 564.77 L619.00 564.75" stroke="#d62728" stroke-width="1.5" stroke-dasharray="5.2 2.8"/>
<path d="M403.50 613.40 L403.75 613.52 L404.00 613.67 L404.25 613.83 L404.50 614.01 L404.75 614.20 L405.00 614.41 L405.25 614.64 L405.50 614.88 L405.75 615.13 L406.00 615.39 L406.25 615.66 L406.50 615.95 L406.75 616.24 L407.00 616.53 L407.25 616.84 L407.50 617.16 L407.75 617.52 L408.00 617.91 L408.25 618.34 L408.50 618.79 L408.75 619.26 L409.00 619.75 L409.25 620.25 L409.50 620.75 L409.75 621.26 L410.00 621.77 L410.25 622.27 L410.50 622.76 L410.75 623.23 L411.00 623.68 L411.25 624.12 L411.50 624.56 L411.75 625.00 L412.00 625.44 L412.25 625.87 L412.50 626.30 L412.75 626.74 L413.00 627.17 L413.25 627.60 L413.50 628.04 L413.75 628.48 L414.00 628.92 L414.25 629.37 L414.50 629.82 L414.75 630.28 L415.00 630.79 L415.25 631.33 L415.50 631.88 L415.75 632.45 L416.00 633.01 L416.25 633.54 L416.50 634.05 L416.75 634.51 L417.00 634.92 L417.25 635.25 L417.50 635.50 L417.75 635.70 L418.00 635.90 L418.25 636.09 L418.50 636.27 L418.75 636.44 L419.00 636.60 L419.25 636.74 L419.50 636.87 L419.75 636.98 L420.00 637.07 L420.25 637.14 L420.50 637.18 L420.75 637.20 L421.00 637.19 L421.25 637.16 L421.50 637.10 L421.75 637.01 L422.00 636.91 L422.25 636.78 L422.50 636.65 L422.75 636.49 L423.00 636.33 L423.25 636.15 L423.50 635.96 L423.75 635.77 L424.00 635.58 L424.25 635.37 L424.50 635.11 L424.75 634.79 L425.00 634.43 L425.25 634.03 L425.50 633.59 L425.75 633.12 L426.00 632.64 L426.25 632.14 L426.50 631.63 L426.75 631.12 L427.00 630.62 L427.25 630.13 L427.50 629.66 L427.75 629.21 L428.00 628.77 L428.25 628.32 L428.50 627.87 L428.75 627.41 L429.00 626.95 L429.25 626.49 L429.50 626.03 L429.75 625.58 L430.00 625.12 L430.25 624.67 L430.50 624.23 L430.75 623.79 L431.00 623.37 L431.25 622.95 L431.50 622.54 L431.75 622.12 L432.00 621.70 L432.25 621.28 L432.50 620.86 L432.75 620.44 L433.00 620.02 L433.25 619.62 L433.50 619.23 L433.75 618.85 L434.00 618.49 L434.25 618.15 L434.50 617.84 L434.75 617.56 L435.00 617.30 L435.25 617.06 L435.50 616.83 L435.75 616.60 L436.00 616.38 L436.25 616.17 L436.50 615.97 L436.75 615.78 L437.00 615.59 L437.25 615.42 L437.50 615.26 L437.75 615.12 L438.00 614.98 L438.25 614.87 L438.50 614.77 L438.75 614.68 L439.00 614.61 L439.25 614.53 L439.50 614.46 L439.75 614.39 L440.00 614.32 L440.25 614.26 L440.50 614.21 L440.75 614.17 L441.00 614.14 L441.25 614.11 L441.50 614.10 L441.75 614.10 L442.00 614.12 L442.25 614.15 L442.50 614.19 L442.75 614.24 L443.00 614.30 L443.25 614.37 L443.50 614.44 L443.75 614.53 L444.00 614.61 L444.25 614.70 L444.50 614.80 L444.75 614.89 L445.00 614.99 L445.25 615.08 L445.50 615.18 L445.75 615.29 L446.00 615.42 L446.25 615.55 L446.50 615.70 L446.75 615.86 L447.00 616.02 L447.25 616.19 L447.50 616.37 L447.75 616.54 L448.00 616.72 L448.25 616.90 L448.50 617.07 L448.75 617.25 L449.00 617.41 L449.25 617.57 L449.50 617.73 L449.75 617.87 L450.00 618.00 L450.25 618.12 L450.50 618.25 L450.75 618.36 L451.00 618.48 L451.25 618.59 L451.50 618.71 L451.75 618.81 L452.00 618.92 L452.25 619.03 L452.50 619.13 L452.75 619.24 L453.00 619.34 L453.25 619.44 L453.50 619.54 L453.75 619.63 L454.00 619.73 L454.25 619.83 L454.50 619.92 L454.75 620.02 L455.00 620.12 L455.25 620.21 L455.50 620.31 L455.75 620.40 L456.00 620.50 L456.25 620.60 L456.50 620.71 L456.75 620.82 L457.00 620.94 L457.25 621.06 L457.50 621.18 L457.75 621.30 L458.00 621.42 L458.25 621.53 L458.50 621.64 L458.75 621.75 L459.00 621.85 L459.25 621.93 L459.50 622.01 L459.75 622.08 L460.00 622.13 L460.25 622.17 L460.50 622.19 L460.75 622.20 L461.00 622.19 L461.25 622.18 L461.50 622.16 L461.75 622.13 L462.00 622.10 L462.25 622.06 L462.50 622.01 L462.75 621.96 L463.00 621.91 L463.25 621.85 L463.50 621.78 L463.75 621.71 L464.00 621.64 L464.25 621.57 L464.50 621.49 L464.75 621.41 L465.00 621.33 L465.25 621.25 L465.50 621.17 L465.75 621.07 L466.00 620.95 L466.25 620.82 L466.50 620.68 L466.75 620.52 L467.00 620.36 L467.25 620.18 L467.50 619.99 L467.75 619.79 L468.00 619.59 L468.25 619.38 L468.50 619.16 L468.75 618.94 L469.00 618.72 L469.25 618.50 L469.50 618.27 L469.75 618.05 L470.00 617.82 L470.25 617.58 L470.50 617.34 L470.75 617.08 L471.00 616.82 L471.25 616.55 L471.50 616.27 L471.75 615.99 L472.00 615.70 L472.25 615.40 L472.50 615.09 L472.75 614.77 L473.00 614.45 L473.25 614.12 L473.50 613.78 L473.75 613.44 L474.00 613.09 L474.25 612.73 L474.50 612.34 L474.75 611.93 L475.00 611.50 L475.25 611.04 L475.50 610.57 L475.75 610.08 L476.00 609.59 L476.25 609.10 L476.50 608.61 L476.75 608.13 L477.00 607.66 L477.25 607.21 L477.50 606.78 L477.75 606.38 L478.00 605.98 L478.25 605.57 L478.50 605.13 L478.75 604.68 L479.00 604.24 L479.25 603.80 L479.50 603.37 L479.75 602.97 L480.00 602.60 L480.25 602.27 L480.50 601.99 L480.75 601.77 L481.00 601.60 L481.25 601.52 L481.50 601.51 L481.75 601.63 L482.00 601.87 L482.25 602.24 L482.50 602.71 L482.75 603.28 L483.00 603.95 L483.25 604.70 L483.50 605.53 L483.75 606.43 L484.00 607.39 L484.25 608.40 L484.50 609.47 L484.75 610.57 L485.00 611.69 L485.25 612.85 L485.50 614.01 L485.75 615.18 L486.00 616.36 L486.25 617.52 L486.50 618.66 L486.75 619.78 L487.00 620.86 L487.25 621.91 L487.50 622.90 L487.75 623.84 L488.00 624.71 L488.25 625.51 L488.50 626.23 L488.75 626.86 L489.00 627.39 L489.25 627.82 L489.50 628.14 L489.75 628.33 L490.00 628.40 L490.25 628.34 L490.50 628.18 L490.75 627.92 L491.00 627.56 L491.25 627.11 L491.50 626.58 L491.75 625.98 L492.00 625.30 L492.25 624.56 L492.50 623.76 L492.75 622.90 L493.00 622.00 L493.25 621.06 L493.50 620.08 L493.75 619.08 L494.00 618.05 L494.25 617.00 L494.50 615.95 L494.75 614.89 L495.00 613.83 L495.25 612.78 L495.50 611.74 L495.75 610.72 L496.00 609.72 L496.25 608.76 L496.50 607.83 L496.75 606.95 L497.00 606.12 L497.25 605.34 L497.50 604.62 L497.75 603.97 L498.00 603.39 L498.25 602.90 L498.50 602.48 L498.75 602.16 L499.00 601.94 L499.25 601.82 L499.50 601.82 L499.75 602.03 L500.00 602.47 L500.25 603.10 L500.50 603.91 L500.75 604.89 L501.00 606.00 L501.25 607.23 L501.50 608.57 L501.75 609.98 L502.00 611.45 L502.25 612.97 L502.50 614.50 L502.75 616.03 L503.00 617.55 L503.25 619.02 L503.50 620.43 L503.75 621.77 L504.00 623.00 L504.25 624.11 L504.50 625.09 L504.75 625.90 L505.00 626.53 L505.25 626.97 L505.50 627.18 L505.75 627.16 L506.00 626.93 L506.25 626.52 L506.50 625.93 L506.75 625.18 L507.00 624.29 L507.25 623.28 L507.50 622.16 L507.75 620.94 L508.00 619.66 L508.25 618.31 L508.50 616.92 L508.75 615.51 L509.00 614.08 L509.25 612.66 L509.50 611.26 L509.75 609.91 L510.00 608.61 L510.25 607.38 L510.50 606.24 L510.75 605.20 L511.00 604.29 L511.25 603.51 L511.50 602.89 L511.75 602.43 L512.00 602.17 L512.25 602.11 L512.50 602.34 L512.75 602.87 L513.00 603.67 L513.25 604.70 L513.50 605.94 L513.75 607.35 L514.00 608.90 L514.25 610.56 L514.50 612.28 L514.75 614.05 L515.00 615.82 L515.25 617.56 L515.50 619.25 L515.75 620.84 L516.00 622.31 L516.25 623.62 L516.50 624.74 L516.75 625.64 L517.00 626.29 L517.25 626.64 L517.50 626.67 L517.75 626.39 L518.00 625.83 L518.25 625.00 L518.50 623.96 L518.75 622.72 L519.00 621.33 L519.25 619.80 L519.50 618.17 L519.75 616.48 L520.00 614.75 L520.25 613.01 L520.50 611.30 L520.75 609.64 L521.00 608.07 L521.25 606.62 L521.50 605.31 L521.75 604.19 L522.00 603.27 L522.25 602.60 L522.50 602.20 L522.75 602.11 L523.00 602.38 L523.25 602.99 L523.50 603.92 L523.75 605.12 L524.00 606.54 L524.25 608.14 L524.50 609.88 L524.75 611.73 L525.00 613.63 L525.25 615.55 L525.50 617.45 L525.75 619.27 L526.00 620.99 L526.25 622.56 L526.50 623.94 L526.75 625.09 L527.00 625.95 L527.25 626.51 L527.50 626.70 L527.75 626.50 L528.00 625.92 L528.25 625.02 L528.50 623.83 L528.75 622.41 L529.00 620.78 L529.25 619.01 L529.50 617.13 L529.75 615.18 L530.00 613.22 L530.25 611.29 L530.50 609.43 L530.75 607.68 L531.00 606.09 L531.25 604.71 L531.50 603.57 L531.75 602.73 L532.00 602.23 L532.25 602.11 L532.50 602.49 L532.75 603.36 L533.00 604.64 L533.25 606.26 L533.50 608.16 L533.75 610.25 L534.00 612.48 L534.25 614.76 L534.50 617.02 L534.75 619.21 L535.00 621.23 L535.25 623.02 L535.50 624.52 L535.75 625.64 L536.00 626.32 L536.25 626.49 L536.50 626.16 L536.75 625.41 L537.00 624.30 L537.25 622.88 L537.50 621.20 L537.75 619.33 L538.00 617.33 L538.25 615.24 L538.50 613.14 L538.75 611.06 L539.00 609.08 L539.25 607.25 L539.50 605.62 L539.75 604.25 L540.00 603.21 L540.25 602.54 L540.50 602.30 L540.75 602.63 L541.00 603.57 L541.25 605.00 L541.50 606.85 L541.75 609.00 L542.00 611.37 L542.25 613.85 L542.50 616.35 L542.75 618.77 L543.00 621.02 L543.25 623.00 L543.50 624.61 L543.75 625.76 L544.00 626.35 L544.25 626.30 L544.50 625.70 L544.75 624.63 L545.00 623.17 L545.25 621.39 L545.50 619.36 L545.75 617.15 L546.00 614.84 L546.25 612.50 L546.50 610.20 L546.75 608.02 L547.00 606.03 L547.25 604.31 L547.50 602.92 L547.75 601.94 L548.00 601.45 L548.25 601.52 L548.50 602.23 L548.75 603.48 L549.00 605.18 L549.25 607.24 L549.50 609.56 L549.75 612.05 L550.00 614.61 L550.25 617.16 L550.50 619.60 L550.75 621.82 L551.00 623.75 L551.25 625.28 L551.50 626.33 L551.75 626.79 L552.00 626.56 L552.25 625.62 L552.50 624.10 L552.75 622.09 L553.00 619.73 L553.25 617.11 L553.50 614.36 L553.75 611.58 L554.00 608.90 L554.25 606.42 L554.50 604.25 L554.75 602.52 L555.00 601.34 L555.25 600.82 L555.50 601.10 L555.75 602.24 L556.00 604.09 L556.25 606.48 L556.50 609.28 L556.75 612.32 L557.00 615.45 L557.25 618.53 L557.50 621.38 L557.75 623.87 L558.00 625.84 L558.25 627.13 L558.50 627.60 L558.75 627.22 L559.00 626.15 L559.25 624.51 L559.50 622.39 L559.75 619.93 L560.00 617.22 L560.25 614.37 L560.50 611.51 L560.75 608.73 L561.00 606.16 L561.25 603.89 L561.50 602.04 L561.75 600.73 L562.00 600.06 L562.25 600.23 L562.50 601.51 L562.75 603.73 L563.00 606.67 L563.25 610.10 L563.50 613.80 L563.75 617.54 L564.00 621.11 L564.25 624.27 L564.50 626.80 L564.75 628.49 L565.00 629.10 L565.25 628.72 L565.50 627.64 L565.75 625.97 L566.00 623.82 L566.25 621.29 L566.50 618.49 L566.75 615.52 L567.00 612.49 L567.25 609.49 L567.50 606.65 L567.75 604.06 L568.00 601.82 L568.25 600.05 L568.50 598.85 L568.75 598.32 L569.00 598.72 L569.25 600.32 L569.50 602.88 L569.75 606.18 L570.00 609.99 L570.25 614.07 L570.50 618.20 L570.75 622.15 L571.00 625.68 L571.25 628.56 L571.50 630.57 L571.75 631.47 L572.00 631.14 L572.25 629.79 L572.50 627.59 L572.75 624.72 L573.00 621.33 L573.25 617.60 L573.50 613.70 L573.75 609.80 L574.00 606.07 L574.25 602.68 L574.50 599.81 L574.75 597.61 L575.00 596.26 L575.25 595.93 L575.50 596.98 L575.75 599.30 L576.00 602.64 L576.25 606.72 L576.50 611.28 L576.75 616.06 L577.00 620.78 L577.25 625.19 L577.50 629.00 L577.75 631.97 L578.00 633.81 L578.25 634.27 L578.50 633.39 L578.75 631.40 L579.00 628.50 L579.25 624.89 L579.50 620.77 L579.75 616.33 L580.00 611.78 L580.25 607.30 L580.50 603.10 L580.75 599.37 L581.00 596.31 L581.25 594.13 L581.50 593.01 L581.75 593.23 L582.00 595.11 L582.25 598.38 L582.50 602.73 L582.75 607.83 L583.00 613.38 L583.25 619.05 L583.50 624.53 L583.75 629.51 L584.00 633.67 L584.25 636.69 L584.50 638.25 L584.75 638.13 L585.00 636.60 L585.25 633.89 L585.50 630.21 L585.75 625.80 L586.00 620.87 L586.25 615.63 L586.50 610.31 L586.75 605.11 L587.00 600.27 L587.25 595.98 L587.50 592.49 L587.75 589.99 L588.00 588.72 L588.25 588.96 L588.50 591.00 L588.75 594.57 L589.00 599.36 L589.25 605.04 L589.50 611.30 L589.75 617.81 L590.00 624.25 L590.25 630.32 L590.50 635.68 L590.75 640.02 L591.00 643.02 L591.25 644.36 L591.50 643.93 L591.75 642.13 L592.00 639.15 L592.25 635.20 L592.50 630.47 L592.75 625.16 L593.00 619.45 L593.25 613.55 L593.50 607.65 L593.75 601.94 L594.00 596.63 L594.25 591.90 L594.50 587.95 L594.75 584.97 L595.00 583.17 L595.25 582.74 L595.50 584.09 L595.75 587.13 L596.00 591.58 L596.25 597.17 L596.50 603.61 L596.75 610.61 L597.00 617.90 L597.25 625.19 L597.50 632.19 L597.75 638.63 L598.00 644.22 L598.25 648.67 L598.50 651.71 L598.75 653.06 L599.00 652.56 L599.25 650.48 L599.50 647.03 L599.75 642.44 L600.00 636.90 L600.25 630.65 L600.50 623.88 L600.75 616.81 L601.00 609.66 L601.25 602.64 L601.50 595.95 L601.75 589.82 L602.00 584.46 L602.25 580.08 L602.50 576.89 L602.75 575.11 L603.00 574.88 L603.25 575.80 L603.50 577.65 L603.75 580.36 L604.00 583.84 L604.25 588.01 L604.50 592.80 L604.75 598.11 L605.00 603.87 L605.25 609.99 L605.50 616.39 L605.75 622.99 L606.00 629.70 L606.25 636.45 L606.50 643.14 L606.75 649.71 L607.00 656.06 L607.25 662.11 L607.50 667.79 L607.75 673.00 L608.00 677.67 L608.25 681.72 L608.50 685.05 L608.75 687.59 L609.00 689.26 L609.25 689.98 L609.50 689.80 L609.75 689.00 L610.00 687.63 L610.25 685.72 L610.50 683.31 L610.75 680.45 L611.00 677.16 L611.25 673.48 L611.50 669.45 L611.75 665.11 L612.00 660.49 L612.25 655.64 L612.50 650.58 L612.75 645.37 L613.00 640.02 L613.25 634.59 L613.50 629.10 L613.75 623.60 L614.00 618.12 L614.25 612.70 L614.50 607.38 L614.75 602.19 L615.00 597.17 L615.25 592.36 L615.50 587.80 L615.75 583.52 L616.00 579.56 L616.25 575.95 L616.50 572.74 L616.75 569.97 L617.00 567.66 L617.25 565.85 L617.50 564.59 L617.75 563.91 L618.00 563.81 L618.25 563.92 L618.50 564.16 L618.75 564.57 L619.00 565.17 L619.25 565.97 L619.50 567.00" stroke="#1f77b4" stroke-width="1.65"/>
</g>
<rect x="403.4" y="563" width="215.5" height="101.1" fill="none" stroke="#1a1a1a" stroke-width="1"/>
<line x1="399.9" y1="659.6" x2="403.4" y2="659.6" stroke="#1a1a1a" stroke-width="1"/>
<rect x="373.48" y="659.95" width="7" height="1" fill="#ff7f0e"/>
<text x="381.33" y="664.05" font-size="12.7" fill="#ff7f0e" dx="0 0.25">80</text>
<line x1="399.9" y1="648.27" x2="403.4" y2="648.27" stroke="#1a1a1a" stroke-width="1"/>
<rect x="373.56" y="648.63" width="7" height="1" fill="#ff7f0e"/>
<text x="381.33" y="652.73" font-size="12.7" fill="#ff7f0e" dx="0 0.25">60</text>
<line x1="399.9" y1="636.95" x2="403.4" y2="636.95" stroke="#1a1a1a" stroke-width="1"/>
<rect x="373.22" y="637.3" width="7" height="1" fill="#ff7f0e"/>
<text x="381.33" y="641.4" font-size="12.7" fill="#ff7f0e" dx="0 0.25">40</text>
<line x1="399.9" y1="625.62" x2="403.4" y2="625.62" stroke="#1a1a1a" stroke-width="1"/>
<rect x="373.56" y="625.98" width="7" height="1" fill="#ff7f0e"/>
<text x="381.33" y="630.08" font-size="12.7" fill="#ff7f0e" dx="0 0.25">20</text>
<line x1="399.9" y1="614.3" x2="403.4" y2="614.3" stroke="#1a1a1a" stroke-width="1"/>
<text x="388.64" y="618.75" font-size="12.7" fill="#ff7f0e" dx="0">0</text>
<line x1="399.9" y1="602.98" x2="403.4" y2="602.98" stroke="#1a1a1a" stroke-width="1"/>
<text x="381.33" y="607.43" font-size="12.7" fill="#ff7f0e" dx="0 0.25">20</text>
<line x1="399.9" y1="591.65" x2="403.4" y2="591.65" stroke="#1a1a1a" stroke-width="1"/>
<text x="381.33" y="596.1" font-size="12.7" fill="#ff7f0e" dx="0 0.25">40</text>
<line x1="399.9" y1="580.33" x2="403.4" y2="580.33" stroke="#1a1a1a" stroke-width="1"/>
<text x="381.33" y="584.78" font-size="12.7" fill="#ff7f0e" dx="0 0.25">60</text>
<line x1="399.9" y1="569" x2="403.4" y2="569" stroke="#1a1a1a" stroke-width="1"/>
<text x="381.33" y="573.45" font-size="12.7" fill="#ff7f0e" dx="0 0.25">80</text>
<line x1="618.9" y1="641.8" x2="622.4" y2="641.8" stroke="#1a1a1a" stroke-width="1"/>
<rect x="626.82" y="642.15" width="7" height="1" fill="#1f77b4"/>
<text x="634.71" y="646.25" font-size="12.7" fill="#1f77b4" dx="0 0.25">50</text>
<line x1="618.9" y1="613.7" x2="622.4" y2="613.7" stroke="#1a1a1a" stroke-width="1"/>
<text x="625.87" y="618.15" font-size="12.7" fill="#1f77b4" dx="0">0</text>
<line x1="618.9" y1="585.6" x2="622.4" y2="585.6" stroke="#1a1a1a" stroke-width="1"/>
<text x="625.98" y="590.05" font-size="12.7" fill="#1f77b4" dx="0 0.25">50</text>
<line x1="403.75" y1="664.1" x2="403.75" y2="667.6" stroke="#1a1a1a" stroke-width="1"/>
<text x="400.23" y="680.8" font-size="12.7" fill="#1a1a1a" dx="0">0</text>
<line x1="451.51" y1="664.1" x2="451.51" y2="667.6" stroke="#1a1a1a" stroke-width="1"/>
<text x="444.09" y="680.8" font-size="12.7" fill="#1a1a1a" dx="0 0.25">10</text>
<line x1="499.27" y1="664.1" x2="499.27" y2="667.6" stroke="#1a1a1a" stroke-width="1"/>
<text x="492.02" y="680.8" font-size="12.7" fill="#1a1a1a" dx="0 0.25">20</text>
<line x1="547.03" y1="664.1" x2="547.03" y2="667.6" stroke="#1a1a1a" stroke-width="1"/>
<text x="539.85" y="680.8" font-size="12.7" fill="#1a1a1a" dx="0 0.25">30</text>
<line x1="594.79" y1="664.1" x2="594.79" y2="667.6" stroke="#1a1a1a" stroke-width="1"/>
<text x="587.71" y="680.8" font-size="12.7" fill="#1a1a1a" dx="0 0.25">40</text>
<text transform="translate(364.6,613.55) rotate(-90)" text-anchor="middle" fill="#ff7f0e" font-size="12.8" textLength="62.68" lengthAdjust="spacingAndGlyphs">WNA [deg]</text>
<g transform="translate(663.2,613.55) rotate(-90)" fill="#1f77b4"><text x="-22.29" y="0" font-size="12.26">Δ</text><text x="-14.19" y="2.37" font-size="8.53" font-style="italic">d</text><text x="-5.36" y="0" font-size="12.26" textLength="27.65" lengthAdjust="spacingAndGlyphs">[km]</text></g>
<text x="367.13" y="581.6" font-size="13.2" fill="#111111" stroke="#111111" stroke-width="0.1">j</text>
<text x="371.31" y="581.6" font-size="13.2" fill="#111111">)</text>
<text transform="translate(67.58,42.6) scale(1.17,1)" font-family="Liberation Serif" font-size="14.2" font-style="italic" fill="#111111" stroke="#111111" stroke-width="0.12">t</text>
<rect x="79.2" y="36.65" width="8.8" height="1.3" fill="#111111"/>
<rect x="79.2" y="40.25" width="8.8" height="1.3" fill="#111111"/>
<text transform="translate(94.32,42.6) scale(1.12,1)" font-family="Liberation Serif" font-size="13.6" fill="#111111" stroke="#111111" stroke-width="0.12">0</text>
<text transform="translate(66.08,250.8) scale(1.17,1)" font-family="Liberation Serif" font-size="14.2" font-style="italic" fill="#111111" stroke="#111111" stroke-width="0.12">t</text>
<rect x="77.7" y="244.85" width="8.8" height="1.3" fill="#111111"/>
<rect x="77.7" y="248.45" width="8.8" height="1.3" fill="#111111"/>
<text transform="translate(92.16,250.8) scale(1.05,1)" font-family="Liberation Serif" font-size="13.7" font-style="italic" fill="#111111" stroke="#111111" stroke-width="0.12">T</text>
<text transform="translate(100.49,253.8) scale(1.08,1)" font-family="Liberation Serif" font-size="9.8" fill="#111111" stroke="#111111" stroke-width="0.12">0</text>
<line x1="108.3" y1="253.5" x2="113.5" y2="241.4" stroke="#111111" stroke-width="1.25"/>
<text transform="translate(114.82,250.8) scale(1.12,1)" font-family="Liberation Serif" font-size="13.6" fill="#111111" stroke="#111111" stroke-width="0.12">8</text>
<text transform="translate(66.08,318.8) scale(1.17,1)" font-family="Liberation Serif" font-size="14.2" font-style="italic" fill="#111111" stroke="#111111" stroke-width="0.12">t</text>
<rect x="77.7" y="312.85" width="8.8" height="1.3" fill="#111111"/>
<rect x="77.7" y="316.45" width="8.8" height="1.3" fill="#111111"/>
<text transform="translate(92.16,318.8) scale(1.05,1)" font-family="Liberation Serif" font-size="13.7" font-style="italic" fill="#111111" stroke="#111111" stroke-width="0.12">T</text>
<text transform="translate(100.49,321.8) scale(1.08,1)" font-family="Liberation Serif" font-size="9.8" fill="#111111" stroke="#111111" stroke-width="0.12">0</text>
<line x1="108.3" y1="321.5" x2="113.5" y2="309.4" stroke="#111111" stroke-width="1.25"/>
<text transform="translate(115.1,318.8) scale(1.12,1)" font-family="Liberation Serif" font-size="13.6" fill="#111111" stroke="#111111" stroke-width="0.12">4</text>
<text transform="translate(88.78,521.1) scale(1.17,1)" font-family="Liberation Serif" font-size="14.2" font-style="italic" fill="#111111" stroke="#111111" stroke-width="0.12">t</text>
<rect x="100.4" y="515.15" width="8.8" height="1.3" fill="#111111"/>
<rect x="100.4" y="518.75" width="8.8" height="1.3" fill="#111111"/>
<text transform="translate(115.46,521.1) scale(1.12,1)" font-family="Liberation Serif" font-size="13.6" fill="#111111" stroke="#111111" stroke-width="0.12">3</text>
<text transform="translate(123.26,521.1) scale(1.05,1)" font-family="Liberation Serif" font-size="13.7" font-style="italic" fill="#111111" stroke="#111111" stroke-width="0.12">T</text>
<text transform="translate(131.59,524.1) scale(1.08,1)" font-family="Liberation Serif" font-size="9.8" fill="#111111" stroke="#111111" stroke-width="0.12">0</text>
<line x1="139.4" y1="523.8" x2="144.6" y2="511.7" stroke="#111111" stroke-width="1.25"/>
<text transform="translate(145.92,521.1) scale(1.12,1)" font-family="Liberation Serif" font-size="13.6" fill="#111111" stroke="#111111" stroke-width="0.12">8</text>
<text transform="translate(88.78,661) scale(1.17,1)" font-family="Liberation Serif" font-size="14.2" font-style="italic" fill="#111111" stroke="#111111" stroke-width="0.12">t</text>
<rect x="100.4" y="655.05" width="8.8" height="1.3" fill="#111111"/>
<rect x="100.4" y="658.65" width="8.8" height="1.3" fill="#111111"/>
<text transform="translate(114.86,661) scale(1.05,1)" font-family="Liberation Serif" font-size="13.7" font-style="italic" fill="#111111" stroke="#111111" stroke-width="0.12">T</text>
<text transform="translate(123.19,664) scale(1.08,1)" font-family="Liberation Serif" font-size="9.8" fill="#111111" stroke="#111111" stroke-width="0.12">0</text>
<line x1="131" y1="663.7" x2="136.2" y2="651.6" stroke="#111111" stroke-width="1.25"/>
<text transform="translate(137.44,661) scale(1.12,1)" font-family="Liberation Serif" font-size="13.6" fill="#111111" stroke="#111111" stroke-width="0.12">2</text>
<text transform="translate(419.68,111.4) scale(1.17,1)" font-family="Liberation Serif" font-size="14.2" font-style="italic" fill="#111111" stroke="#111111" stroke-width="0.12">t</text>
<rect x="431.3" y="105.45" width="8.8" height="1.3" fill="#111111"/>
<rect x="431.3" y="109.05" width="8.8" height="1.3" fill="#111111"/>
<text transform="translate(446.42,111.4) scale(1.12,1)" font-family="Liberation Serif" font-size="13.6" fill="#111111" stroke="#111111" stroke-width="0.12">0</text>
<text transform="translate(419.68,250.8) scale(1.17,1)" font-family="Liberation Serif" font-size="14.2" font-style="italic" fill="#111111" stroke="#111111" stroke-width="0.12">t</text>
<rect x="431.3" y="244.85" width="8.8" height="1.3" fill="#111111"/>
<rect x="431.3" y="248.45" width="8.8" height="1.3" fill="#111111"/>
<text transform="translate(445.76,250.8) scale(1.05,1)" font-family="Liberation Serif" font-size="13.7" font-style="italic" fill="#111111" stroke="#111111" stroke-width="0.12">T</text>
<text transform="translate(454.09,253.8) scale(1.08,1)" font-family="Liberation Serif" font-size="9.8" fill="#111111" stroke="#111111" stroke-width="0.12">0</text>
<line x1="461.9" y1="253.5" x2="467.1" y2="241.4" stroke="#111111" stroke-width="1.25"/>
<text transform="translate(468.42,250.8) scale(1.12,1)" font-family="Liberation Serif" font-size="13.6" fill="#111111" stroke="#111111" stroke-width="0.12">8</text>
<text transform="translate(419.68,389.1) scale(1.17,1)" font-family="Liberation Serif" font-size="14.2" font-style="italic" fill="#111111" stroke="#111111" stroke-width="0.12">t</text>
<rect x="431.3" y="383.15" width="8.8" height="1.3" fill="#111111"/>
<rect x="431.3" y="386.75" width="8.8" height="1.3" fill="#111111"/>
<text transform="translate(445.76,389.1) scale(1.05,1)" font-family="Liberation Serif" font-size="13.7" font-style="italic" fill="#111111" stroke="#111111" stroke-width="0.12">T</text>
<text transform="translate(454.09,392.1) scale(1.08,1)" font-family="Liberation Serif" font-size="9.8" fill="#111111" stroke="#111111" stroke-width="0.12">0</text>
<line x1="461.9" y1="391.8" x2="467.1" y2="379.7" stroke="#111111" stroke-width="1.25"/>
<text transform="translate(468.7,389.1) scale(1.12,1)" font-family="Liberation Serif" font-size="13.6" fill="#111111" stroke="#111111" stroke-width="0.12">4</text>
<text transform="translate(421.18,446.7) scale(1.17,1)" font-family="Liberation Serif" font-size="14.2" font-style="italic" fill="#111111" stroke="#111111" stroke-width="0.12">t</text>
<rect x="432.8" y="440.75" width="8.8" height="1.3" fill="#111111"/>
<rect x="432.8" y="444.35" width="8.8" height="1.3" fill="#111111"/>
<text transform="translate(447.86,446.7) scale(1.12,1)" font-family="Liberation Serif" font-size="13.6" fill="#111111" stroke="#111111" stroke-width="0.12">3</text>
<text transform="translate(455.66,446.7) scale(1.05,1)" font-family="Liberation Serif" font-size="13.7" font-style="italic" fill="#111111" stroke="#111111" stroke-width="0.12">T</text>
<text transform="translate(463.99,449.7) scale(1.08,1)" font-family="Liberation Serif" font-size="9.8" fill="#111111" stroke="#111111" stroke-width="0.12">0</text>
<line x1="471.8" y1="449.4" x2="477" y2="437.3" stroke="#111111" stroke-width="1.25"/>
<text transform="translate(478.32,446.7) scale(1.12,1)" font-family="Liberation Serif" font-size="13.6" fill="#111111" stroke="#111111" stroke-width="0.12">8</text>
<text transform="translate(421.18,581.1) scale(1.17,1)" font-family="Liberation Serif" font-size="14.2" font-style="italic" fill="#111111" stroke="#111111" stroke-width="0.12">t</text>
<rect x="432.8" y="575.15" width="8.8" height="1.3" fill="#111111"/>
<rect x="432.8" y="578.75" width="8.8" height="1.3" fill="#111111"/>
<text transform="translate(447.26,581.1) scale(1.05,1)" font-family="Liberation Serif" font-size="13.7" font-style="italic" fill="#111111" stroke="#111111" stroke-width="0.12">T</text>
<text transform="translate(455.59,584.1) scale(1.08,1)" font-family="Liberation Serif" font-size="9.8" fill="#111111" stroke="#111111" stroke-width="0.12">0</text>
<line x1="463.4" y1="583.8" x2="468.6" y2="571.7" stroke="#111111" stroke-width="1.25"/>
<text transform="translate(469.84,581.1) scale(1.12,1)" font-family="Liberation Serif" font-size="13.6" fill="#111111" stroke="#111111" stroke-width="0.12">2</text>
<text transform="translate(138.6,17.2) scale(1.05,1)" font-family="Liberation Serif" font-size="17" font-style="italic" fill="#111111" stroke="#111111" stroke-width="0.12">ω</text>
<rect x="158" y="9.8" width="10.9" height="1.4" fill="#111111"/>
<rect x="158" y="13.5" width="10.9" height="1.4" fill="#111111"/>
<text transform="translate(175.62,17.2) scale(1.05,1)" font-family="Liberation Serif" font-size="17" fill="#111111" stroke="#111111" stroke-width="0.12">0</text>
<circle cx="185.9" cy="16.3" r="1.0" fill="#111111"/>
<text transform="translate(188.33,17.2) scale(1.05,1)" font-family="Liberation Serif" font-size="17" fill="#111111" stroke="#111111" stroke-width="0.12">2</text>
<text transform="translate(198.02,17.2) scale(1.0,1)" font-family="Liberation Serif" font-size="17" fill="#111111" stroke="#111111" stroke-width="0.12">Ω</text>
<text transform="translate(211.2,20.5) scale(1.1,1)" font-family="Liberation Serif" font-size="12" font-style="italic" fill="#111111" stroke="#111111" stroke-width="0.12">e</text>
<text transform="translate(471.1,15.7) scale(1.05,1)" font-family="Liberation Serif" font-size="17" font-style="italic" fill="#111111" stroke="#111111" stroke-width="0.12">ω</text>
<rect x="490.5" y="8.3" width="10.9" height="1.4" fill="#111111"/>
<rect x="490.5" y="12" width="10.9" height="1.4" fill="#111111"/>
<text transform="translate(508.12,15.7) scale(1.05,1)" font-family="Liberation Serif" font-size="17" fill="#111111" stroke="#111111" stroke-width="0.12">0</text>
<circle cx="518.4" cy="14.8" r="1.0" fill="#111111"/>
<text transform="translate(520.44,15.7) scale(1.05,1)" font-family="Liberation Serif" font-size="17" fill="#111111" stroke="#111111" stroke-width="0.12">7</text>
<text transform="translate(530.52,15.7) scale(1.0,1)" font-family="Liberation Serif" font-size="17" fill="#111111" stroke="#111111" stroke-width="0.12">Ω</text>
<text transform="translate(543.7,19) scale(1.1,1)" font-family="Liberation Serif" font-size="12" font-style="italic" fill="#111111" stroke="#111111" stroke-width="0.12">e</text>
<text x="147.27" y="703.3" font-size="12.32" font-style="italic" fill="#1a1a1a">λ</text>
<text x="158.05" y="703.3" font-size="12.26" fill="#1a1a1a" textLength="31.58" lengthAdjust="spacingAndGlyphs">[deg]</text>
<text x="489.97" y="698.5" font-size="12.32" font-style="italic" fill="#1a1a1a">λ</text>
<text x="500.75" y="698.5" font-size="12.26" fill="#1a1a1a" textLength="31.58" lengthAdjust="spacingAndGlyphs">[deg]</text>
</svg></body></html>
